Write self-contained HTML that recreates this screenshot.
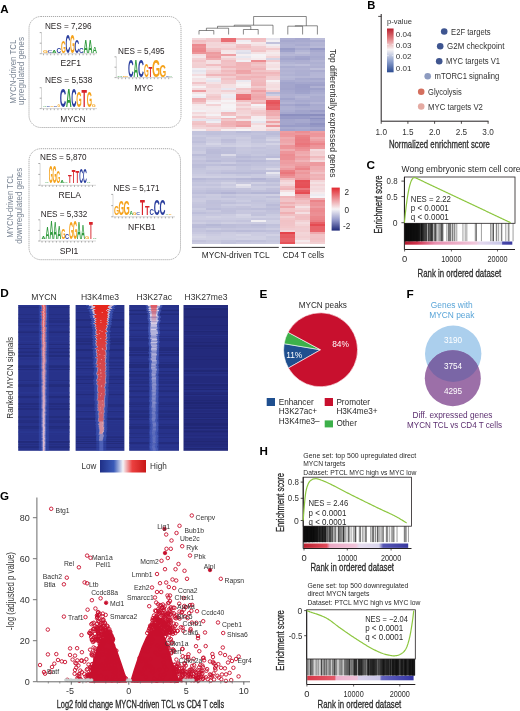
<!DOCTYPE html>
<html><head><meta charset="utf-8"><style>
html,body{margin:0;padding:0;background:#fff;}
svg{display:block;font-family:"Liberation Sans", sans-serif;filter:blur(0.3px);}
</style></head><body>
<svg width="520" height="711" viewBox="0 0 520 711">
<rect width="520" height="711" fill="#fff"/>
<text x="0.3" y="12.7" font-size="11.6" fill="#000" font-weight="bold">A</text><rect x="29" y="16.5" width="152" height="111" rx="12" fill="none" stroke="#8f8f8f" stroke-width="0.75" stroke-dasharray="1.2 0.8"/><rect x="29" y="148.7" width="151.5" height="111" rx="12" fill="none" stroke="#8f8f8f" stroke-width="0.75" stroke-dasharray="1.2 0.8"/><text transform="translate(15.6,71.7) rotate(-90)" x="0" y="0" font-size="9.6" fill="#7a8594" text-anchor="middle" textLength="64" lengthAdjust="spacingAndGlyphs">MYCN-driven TCL</text><text transform="translate(24.4,71) rotate(-90)" x="0" y="0" font-size="9.6" fill="#7a8594" text-anchor="middle" textLength="68" lengthAdjust="spacingAndGlyphs">upregulated genes</text><text transform="translate(13.0,205.8) rotate(-90)" x="0" y="0" font-size="9.6" fill="#7a8594" text-anchor="middle" textLength="64" lengthAdjust="spacingAndGlyphs">MYCN-driven TCL</text><text transform="translate(21.8,205.8) rotate(-90)" x="0" y="0" font-size="9.6" fill="#7a8594" text-anchor="middle" textLength="76" lengthAdjust="spacingAndGlyphs">downregulated genes</text><text x="44.9" y="28.7" font-size="8.9" fill="#231f20" textLength="46.6" lengthAdjust="spacingAndGlyphs">NES = 7,296</text><text x="70.8" y="66.3" font-size="8.6" fill="#231f20" text-anchor="middle">E2F1</text><text x="118.1" y="53.9" font-size="8.9" fill="#231f20" textLength="46.4" lengthAdjust="spacingAndGlyphs">NES = 5,495</text><text x="143.7" y="91" font-size="8.6" fill="#231f20" text-anchor="middle">MYC</text><text x="44.9" y="83" font-size="8.9" fill="#231f20" textLength="47.4" lengthAdjust="spacingAndGlyphs">NES = 5,538</text><text x="73" y="121.5" font-size="8.6" fill="#231f20" text-anchor="middle">MYCN</text><text x="40.1" y="160" font-size="8.9" fill="#231f20" textLength="46.4" lengthAdjust="spacingAndGlyphs">NES = 5,870</text><text x="69.7" y="198.3" font-size="8.6" fill="#231f20" text-anchor="middle">RELA</text><text x="113.4" y="190.8" font-size="8.9" fill="#231f20" textLength="46.1" lengthAdjust="spacingAndGlyphs">NES = 5,171</text><text x="141.8" y="229.8" font-size="8.6" fill="#231f20" text-anchor="middle">NFKB1</text><text x="40.8" y="217" font-size="8.9" fill="#231f20" textLength="46.4" lengthAdjust="spacingAndGlyphs">NES = 5,332</text><text x="69" y="254" font-size="8.6" fill="#231f20" text-anchor="middle">SPI1</text><path d="M41.5,32.6 V53.7 H97" stroke="#aaa" stroke-width="0.45" fill="none"/><path d="M39.7,32.6 H41.5 M39.7,43.2 H41.5 M39.7,53.7 H41.5" stroke="#888" stroke-width="0.7"/><path d="M43.5,53.7 v1.6 M47.1,53.7 v1.6 M50.7,53.7 v1.6 M54.3,53.7 v1.6 M57.9,53.7 v1.6 M61.5,53.7 v1.6 M65.1,53.7 v1.6 M68.7,53.7 v1.6 M72.3,53.7 v1.6 M75.9,53.7 v1.6 M79.5,53.7 v1.6 M83.1,53.7 v1.6 M86.7,53.7 v1.6 M90.3,53.7 v1.6 M93.9,53.7 v1.6 " stroke="#8a8a8a" stroke-width="0.7"/><text transform="translate(42.89,53.20) scale(0.622,0.320)" font-size="10" font-weight="bold" fill="#f5a21b">G</text><text transform="translate(47.39,53.20) scale(0.642,0.320)" font-size="10" font-weight="bold" fill="#2a3e9e">C</text><text transform="translate(51.99,53.20) scale(0.626,0.378)" font-size="10" font-weight="bold" fill="#2e9a3c">A</text><text transform="translate(56.39,53.20) scale(0.642,0.666)" font-size="10" font-weight="bold" fill="#2a3e9e">C</text><text transform="translate(60.89,53.20) scale(0.622,1.652)" font-size="10" font-weight="bold" fill="#f5a21b">G</text><text transform="translate(65.39,53.20) scale(0.642,2.665)" font-size="10" font-weight="bold" fill="#2a3e9e">C</text><text transform="translate(69.89,53.20) scale(0.622,2.532)" font-size="10" font-weight="bold" fill="#f5a21b">G</text><text transform="translate(74.39,53.20) scale(0.642,1.919)" font-size="10" font-weight="bold" fill="#2a3e9e">C</text><text transform="translate(78.89,53.20) scale(0.642,0.799)" font-size="10" font-weight="bold" fill="#2a3e9e">C</text><text transform="translate(83.49,53.20) scale(0.626,1.784)" font-size="10" font-weight="bold" fill="#2e9a3c">A</text><text transform="translate(87.99,53.20) scale(0.626,1.757)" font-size="10" font-weight="bold" fill="#2e9a3c">A</text><text transform="translate(92.49,53.20) scale(0.626,0.946)" font-size="10" font-weight="bold" fill="#2e9a3c">A</text><path d="M116.3,56.8 V77.6 H173" stroke="#aaa" stroke-width="0.45" fill="none"/><path d="M114.5,56.8 H116.3 M114.5,67.2 H116.3 M114.5,77.6 H116.3" stroke="#888" stroke-width="0.7"/><path d="M118.3,77.6 v1.6 M121.9,77.6 v1.6 M125.5,77.6 v1.6 M129.1,77.6 v1.6 M132.7,77.6 v1.6 M136.3,77.6 v1.6 M139.9,77.6 v1.6 M143.5,77.6 v1.6 M147.1,77.6 v1.6 M150.7,77.6 v1.6 M154.3,77.6 v1.6 M157.9,77.6 v1.6 M161.5,77.6 v1.6 M165.1,77.6 v1.6 M168.7,77.6 v1.6 " stroke="#8a8a8a" stroke-width="0.7"/><text transform="translate(116.95,77.10) scale(0.790,0.148)" font-size="10" font-weight="bold" fill="#2e9a3c">A</text><text transform="translate(122.43,77.10) scale(0.785,0.244)" font-size="10" font-weight="bold" fill="#f5a21b">G</text><text transform="translate(128.03,77.10) scale(0.780,2.436)" font-size="10" font-weight="bold" fill="#2a3e9e">C</text><text transform="translate(133.59,77.10) scale(0.656,2.471)" font-size="10" font-weight="bold" fill="#2e9a3c">A</text><text transform="translate(138.11,77.10) scale(0.826,2.436)" font-size="10" font-weight="bold" fill="#2a3e9e">C</text><text transform="translate(143.90,77.10) scale(0.607,1.900)" font-size="10" font-weight="bold" fill="#f5a21b">G</text><text transform="translate(148.48,77.10) scale(0.628,1.384)" font-size="10" font-weight="bold" fill="#d8232a">T</text><text transform="translate(152.12,77.10) scale(1.052,2.314)" font-size="10" font-weight="bold" fill="#f5a21b">G</text><text transform="translate(159.60,77.10) scale(0.859,1.607)" font-size="10" font-weight="bold" fill="#f5a21b">G</text><text transform="translate(165.88,77.10) scale(0.413,0.146)" font-size="10" font-weight="bold" fill="#2a3e9e">C</text><text transform="translate(168.95,77.10) scale(0.402,0.099)" font-size="10" font-weight="bold" fill="#2e9a3c">A</text><path d="M41.5,87.7 V108.6 H97" stroke="#aaa" stroke-width="0.45" fill="none"/><path d="M39.7,87.7 H41.5 M39.7,98.2 H41.5 M39.7,108.6 H41.5" stroke="#888" stroke-width="0.7"/><path d="M43.5,108.6 v1.6 M47.1,108.6 v1.6 M50.7,108.6 v1.6 M54.3,108.6 v1.6 M57.9,108.6 v1.6 M61.5,108.6 v1.6 M65.1,108.6 v1.6 M68.7,108.6 v1.6 M72.3,108.6 v1.6 M75.9,108.6 v1.6 M79.5,108.6 v1.6 M83.1,108.6 v1.6 M86.7,108.6 v1.6 M90.3,108.6 v1.6 M93.9,108.6 v1.6 " stroke="#8a8a8a" stroke-width="0.7"/><text transform="translate(43.03,107.40) scale(0.492,0.102)" font-size="10" font-weight="bold" fill="#2e9a3c">A</text><text transform="translate(46.54,107.40) scale(0.505,0.101)" font-size="10" font-weight="bold" fill="#2a3e9e">C</text><text transform="translate(50.15,107.40) scale(0.489,0.126)" font-size="10" font-weight="bold" fill="#f5a21b">G</text><text transform="translate(53.74,107.40) scale(0.505,0.252)" font-size="10" font-weight="bold" fill="#2a3e9e">C</text><text transform="translate(57.42,107.40) scale(0.326,0.378)" font-size="10" font-weight="bold" fill="#f5a21b">G</text><text transform="translate(59.69,107.40) scale(0.887,2.521)" font-size="10" font-weight="bold" fill="#2a3e9e">C</text><text transform="translate(65.96,107.40) scale(0.775,2.558)" font-size="10" font-weight="bold" fill="#2e9a3c">A</text><text transform="translate(71.36,107.40) scale(0.719,2.521)" font-size="10" font-weight="bold" fill="#2a3e9e">C</text><text transform="translate(76.36,107.40) scale(0.696,2.143)" font-size="10" font-weight="bold" fill="#f5a21b">G</text><text transform="translate(81.55,107.40) scale(0.883,2.430)" font-size="10" font-weight="bold" fill="#d8232a">T</text><text transform="translate(86.87,107.40) scale(0.681,2.269)" font-size="10" font-weight="bold" fill="#f5a21b">G</text><text transform="translate(91.84,107.40) scale(0.504,0.378)" font-size="10" font-weight="bold" fill="#f5a21b">G</text><path d="M40.1,163.5 V185.3 H96" stroke="#aaa" stroke-width="0.45" fill="none"/><path d="M38.300000000000004,163.5 H40.1 M38.300000000000004,174.4 H40.1 M38.300000000000004,185.3 H40.1" stroke="#888" stroke-width="0.7"/><path d="M42.1,185.3 v1.6 M45.7,185.3 v1.6 M49.3,185.3 v1.6 M52.9,185.3 v1.6 M56.5,185.3 v1.6 M60.1,185.3 v1.6 M63.7,185.3 v1.6 M67.3,185.3 v1.6 M70.9,185.3 v1.6 M74.5,185.3 v1.6 M78.1,185.3 v1.6 M81.7,185.3 v1.6 M85.3,185.3 v1.6 M88.9,185.3 v1.6 M92.5,185.3 v1.6 " stroke="#8a8a8a" stroke-width="0.7"/><text transform="translate(45.02,183.40) scale(0.522,0.209)" font-size="10" font-weight="bold" fill="#2e9a3c">A</text><text transform="translate(48.74,183.40) scale(0.519,2.450)" font-size="10" font-weight="bold" fill="#f5a21b">G</text><text transform="translate(52.54,183.40) scale(0.519,2.450)" font-size="10" font-weight="bold" fill="#f5a21b">G</text><text transform="translate(56.34,183.40) scale(0.519,1.676)" font-size="10" font-weight="bold" fill="#f5a21b">G</text><text transform="translate(60.22,183.40) scale(0.522,0.314)" font-size="10" font-weight="bold" fill="#2e9a3c">A</text><text transform="translate(64.02,183.40) scale(0.522,0.157)" font-size="10" font-weight="bold" fill="#2e9a3c">A</text><text transform="translate(67.88,183.40) scale(0.594,1.177)" font-size="10" font-weight="bold" fill="#d8232a">T</text><text transform="translate(71.68,183.40) scale(0.594,1.884)" font-size="10" font-weight="bold" fill="#d8232a">T</text><text transform="translate(75.48,183.40) scale(0.594,1.570)" font-size="10" font-weight="bold" fill="#d8232a">T</text><text transform="translate(79.13,183.40) scale(0.535,1.934)" font-size="10" font-weight="bold" fill="#2a3e9e">C</text><text transform="translate(82.93,183.40) scale(0.535,1.934)" font-size="10" font-weight="bold" fill="#2a3e9e">C</text><text transform="translate(86.82,183.40) scale(0.522,0.131)" font-size="10" font-weight="bold" fill="#2e9a3c">A</text><path d="M40,219.8 V241 H96" stroke="#aaa" stroke-width="0.45" fill="none"/><path d="M38.2,219.8 H40 M38.2,230.4 H40 M38.2,241 H40" stroke="#888" stroke-width="0.7"/><path d="M42.0,241 v1.6 M45.6,241 v1.6 M49.2,241 v1.6 M52.8,241 v1.6 M56.4,241 v1.6 M60.0,241 v1.6 M63.6,241 v1.6 M67.2,241 v1.6 M70.8,241 v1.6 M74.4,241 v1.6 M78.0,241 v1.6 M81.6,241 v1.6 M85.2,241 v1.6 M88.8,241 v1.6 M92.4,241 v1.6 " stroke="#8a8a8a" stroke-width="0.7"/><text transform="translate(41.51,238.60) scale(0.544,0.414)" font-size="10" font-weight="bold" fill="#2e9a3c">A</text><text transform="translate(45.46,238.60) scale(0.544,1.657)" font-size="10" font-weight="bold" fill="#2e9a3c">A</text><text transform="translate(49.41,238.60) scale(0.544,2.624)" font-size="10" font-weight="bold" fill="#2e9a3c">A</text><text transform="translate(53.36,238.60) scale(0.544,2.347)" font-size="10" font-weight="bold" fill="#2e9a3c">A</text><text transform="translate(57.31,238.60) scale(0.544,1.795)" font-size="10" font-weight="bold" fill="#2e9a3c">A</text><text transform="translate(61.18,238.60) scale(0.541,1.497)" font-size="10" font-weight="bold" fill="#f5a21b">G</text><text transform="translate(65.12,238.60) scale(0.558,0.681)" font-size="10" font-weight="bold" fill="#2a3e9e">C</text><text transform="translate(69.08,238.60) scale(0.541,2.450)" font-size="10" font-weight="bold" fill="#f5a21b">G</text><text transform="translate(73.03,238.60) scale(0.541,2.586)" font-size="10" font-weight="bold" fill="#f5a21b">G</text><text transform="translate(77.06,238.60) scale(0.544,2.347)" font-size="10" font-weight="bold" fill="#2e9a3c">A</text><text transform="translate(81.01,238.60) scale(0.544,2.071)" font-size="10" font-weight="bold" fill="#2e9a3c">A</text><text transform="translate(84.88,238.60) scale(0.541,0.408)" font-size="10" font-weight="bold" fill="#f5a21b">G</text><text transform="translate(88.98,238.60) scale(0.620,2.347)" font-size="10" font-weight="bold" fill="#d8232a">T</text><text transform="translate(92.86,238.60) scale(0.544,0.221)" font-size="10" font-weight="bold" fill="#2e9a3c">A</text><path d="M113,194.4 V216.8 H175" stroke="#aaa" stroke-width="0.45" fill="none"/><path d="M111.2,194.4 H113 M111.2,205.6 H113 M111.2,216.8 H113" stroke="#888" stroke-width="0.7"/><path d="M115.0,216.8 v1.6 M118.6,216.8 v1.6 M122.2,216.8 v1.6 M125.8,216.8 v1.6 M129.4,216.8 v1.6 M133.0,216.8 v1.6 M136.6,216.8 v1.6 M140.2,216.8 v1.6 M143.8,216.8 v1.6 M147.4,216.8 v1.6 M151.0,216.8 v1.6 M154.6,216.8 v1.6 M158.2,216.8 v1.6 M161.8,216.8 v1.6 M165.4,216.8 v1.6 M169.0,216.8 v1.6 M172.6,216.8 v1.6 " stroke="#8a8a8a" stroke-width="0.7"/><text transform="translate(113.88,215.40) scale(0.652,1.257)" font-size="10" font-weight="bold" fill="#f5a21b">G</text><text transform="translate(118.56,215.40) scale(0.711,2.095)" font-size="10" font-weight="bold" fill="#f5a21b">G</text><text transform="translate(123.62,215.40) scale(0.800,2.095)" font-size="10" font-weight="bold" fill="#f5a21b">G</text><text transform="translate(129.53,215.40) scale(0.492,0.510)" font-size="10" font-weight="bold" fill="#2e9a3c">A</text><text transform="translate(133.07,215.40) scale(0.430,0.419)" font-size="10" font-weight="bold" fill="#f5a21b">G</text><text transform="translate(136.24,215.40) scale(0.505,0.335)" font-size="10" font-weight="bold" fill="#2a3e9e">C</text><text transform="translate(139.96,215.40) scale(0.798,2.267)" font-size="10" font-weight="bold" fill="#d8232a">T</text><text transform="translate(144.97,215.40) scale(0.747,1.275)" font-size="10" font-weight="bold" fill="#d8232a">T</text><text transform="translate(149.50,215.40) scale(0.612,0.978)" font-size="10" font-weight="bold" fill="#2a3e9e">C</text><text transform="translate(153.71,215.40) scale(0.841,2.235)" font-size="10" font-weight="bold" fill="#2a3e9e">C</text><text transform="translate(159.51,215.40) scale(0.826,2.235)" font-size="10" font-weight="bold" fill="#2a3e9e">C</text><text transform="translate(165.45,215.40) scale(0.402,0.170)" font-size="10" font-weight="bold" fill="#2e9a3c">A</text><text transform="translate(168.39,215.40) scale(0.400,0.112)" font-size="10" font-weight="bold" fill="#f5a21b">G</text><g shape-rendering="crispEdges"><rect x="191.60" y="38.10" width="15.10" height="2.29" fill="#f3d8db"/><rect x="206.40" y="38.10" width="15.10" height="2.29" fill="#f2cbce"/><rect x="221.20" y="38.10" width="15.10" height="2.29" fill="#e96e74"/><rect x="236.00" y="38.10" width="15.10" height="2.29" fill="#f1c0c3"/><rect x="250.80" y="38.10" width="15.10" height="2.29" fill="#f1bdc1"/><rect x="265.60" y="38.10" width="15.10" height="2.29" fill="#e6e5ee"/><rect x="280.40" y="38.10" width="15.10" height="2.29" fill="#aeafd2"/><rect x="295.20" y="38.10" width="15.10" height="2.29" fill="#a8a9cf"/><rect x="310.00" y="38.10" width="15.10" height="2.29" fill="#bcbdd9"/><rect x="191.60" y="40.09" width="15.10" height="2.29" fill="#f1bfc3"/><rect x="206.40" y="40.09" width="15.10" height="2.29" fill="#f2c6ca"/><rect x="221.20" y="40.09" width="15.10" height="2.29" fill="#e96d73"/><rect x="236.00" y="40.09" width="15.10" height="2.29" fill="#efedf2"/><rect x="250.80" y="40.09" width="15.10" height="2.29" fill="#f1c2c6"/><rect x="265.60" y="40.09" width="15.10" height="2.29" fill="#f2f0f4"/><rect x="280.40" y="40.09" width="15.10" height="2.29" fill="#a6a8ce"/><rect x="295.20" y="40.09" width="15.10" height="2.29" fill="#a8aacf"/><rect x="310.00" y="40.09" width="15.10" height="2.29" fill="#aaacd0"/><rect x="191.60" y="42.07" width="15.10" height="2.29" fill="#f2c7ca"/><rect x="206.40" y="42.07" width="15.10" height="2.29" fill="#f3d6d9"/><rect x="221.20" y="42.07" width="15.10" height="2.29" fill="#f2c7cb"/><rect x="236.00" y="42.07" width="15.10" height="2.29" fill="#f6f0f2"/><rect x="250.80" y="42.07" width="15.10" height="2.29" fill="#f5e7e9"/><rect x="265.60" y="42.07" width="15.10" height="2.29" fill="#c2c2dc"/><rect x="280.40" y="42.07" width="15.10" height="2.29" fill="#acaed1"/><rect x="295.20" y="42.07" width="15.10" height="2.29" fill="#aeafd2"/><rect x="310.00" y="42.07" width="15.10" height="2.29" fill="#b4b5d5"/><rect x="191.60" y="44.06" width="15.10" height="2.29" fill="#ec898f"/><rect x="206.40" y="44.06" width="15.10" height="2.29" fill="#f3d4d7"/><rect x="221.20" y="44.06" width="15.10" height="2.29" fill="#f3dadd"/><rect x="236.00" y="44.06" width="15.10" height="2.29" fill="#f1c4c8"/><rect x="250.80" y="44.06" width="15.10" height="2.29" fill="#f4e1e4"/><rect x="265.60" y="44.06" width="15.10" height="2.29" fill="#efedf2"/><rect x="280.40" y="44.06" width="15.10" height="2.29" fill="#afb1d3"/><rect x="295.20" y="44.06" width="15.10" height="2.29" fill="#a9abd0"/><rect x="310.00" y="44.06" width="15.10" height="2.29" fill="#b2b4d4"/><rect x="191.60" y="46.04" width="15.10" height="2.29" fill="#ec9196"/><rect x="206.40" y="46.04" width="15.10" height="2.29" fill="#f3d7da"/><rect x="221.20" y="46.04" width="15.10" height="2.29" fill="#f3d5d8"/><rect x="236.00" y="46.04" width="15.10" height="2.29" fill="#f1bec1"/><rect x="250.80" y="46.04" width="15.10" height="2.29" fill="#f2cdd0"/><rect x="265.60" y="46.04" width="15.10" height="2.29" fill="#f4e3e6"/><rect x="280.40" y="46.04" width="15.10" height="2.29" fill="#afb1d3"/><rect x="295.20" y="46.04" width="15.10" height="2.29" fill="#b3b4d4"/><rect x="310.00" y="46.04" width="15.10" height="2.29" fill="#b8b9d7"/><rect x="191.60" y="48.03" width="15.10" height="2.29" fill="#eb898e"/><rect x="206.40" y="48.03" width="15.10" height="2.29" fill="#f1c1c4"/><rect x="221.20" y="48.03" width="15.10" height="2.29" fill="#f2cacd"/><rect x="236.00" y="48.03" width="15.10" height="2.29" fill="#f2c9cc"/><rect x="250.80" y="48.03" width="15.10" height="2.29" fill="#f2cbce"/><rect x="265.60" y="48.03" width="15.10" height="2.29" fill="#f2cacd"/><rect x="280.40" y="48.03" width="15.10" height="2.29" fill="#999cc7"/><rect x="295.20" y="48.03" width="15.10" height="2.29" fill="#a8aacf"/><rect x="310.00" y="48.03" width="15.10" height="2.29" fill="#979ac7"/><rect x="191.60" y="50.01" width="15.10" height="2.29" fill="#eb858a"/><rect x="206.40" y="50.01" width="15.10" height="2.29" fill="#f0bbbf"/><rect x="221.20" y="50.01" width="15.10" height="2.29" fill="#f5e6e8"/><rect x="236.00" y="50.01" width="15.10" height="2.29" fill="#e5e4ee"/><rect x="250.80" y="50.01" width="15.10" height="2.29" fill="#f1c4c7"/><rect x="265.60" y="50.01" width="15.10" height="2.29" fill="#f4e0e2"/><rect x="280.40" y="50.01" width="15.10" height="2.29" fill="#9fa2cb"/><rect x="295.20" y="50.01" width="15.10" height="2.29" fill="#b3b5d5"/><rect x="310.00" y="50.01" width="15.10" height="2.29" fill="#a6a8ce"/><rect x="191.60" y="52.00" width="15.10" height="2.29" fill="#ed9599"/><rect x="206.40" y="52.00" width="15.10" height="2.29" fill="#ed9b9f"/><rect x="221.20" y="52.00" width="15.10" height="2.29" fill="#f5e9eb"/><rect x="236.00" y="52.00" width="15.10" height="2.29" fill="#dedeea"/><rect x="250.80" y="52.00" width="15.10" height="2.29" fill="#f4e2e4"/><rect x="265.60" y="52.00" width="15.10" height="2.29" fill="#f5eaec"/><rect x="280.40" y="52.00" width="15.10" height="2.29" fill="#b2b3d4"/><rect x="295.20" y="52.00" width="15.10" height="2.29" fill="#bdbed9"/><rect x="310.00" y="52.00" width="15.10" height="2.29" fill="#aeafd2"/><rect x="191.60" y="53.98" width="15.10" height="2.29" fill="#f4dee1"/><rect x="206.40" y="53.98" width="15.10" height="2.29" fill="#eea2a6"/><rect x="221.20" y="53.98" width="15.10" height="2.29" fill="#ee9fa4"/><rect x="236.00" y="53.98" width="15.10" height="2.29" fill="#f5eef0"/><rect x="250.80" y="53.98" width="15.10" height="2.29" fill="#f5f3f6"/><rect x="265.60" y="53.98" width="15.10" height="2.29" fill="#f5e5e7"/><rect x="280.40" y="53.98" width="15.10" height="2.29" fill="#b6b7d6"/><rect x="295.20" y="53.98" width="15.10" height="2.29" fill="#b4b5d5"/><rect x="310.00" y="53.98" width="15.10" height="2.29" fill="#adafd2"/><rect x="191.60" y="55.97" width="15.10" height="2.29" fill="#f5e6e9"/><rect x="206.40" y="55.97" width="15.10" height="2.29" fill="#ed9a9f"/><rect x="221.20" y="55.97" width="15.10" height="2.29" fill="#f4dfe1"/><rect x="236.00" y="55.97" width="15.10" height="2.29" fill="#e8e7ef"/><rect x="250.80" y="55.97" width="15.10" height="2.29" fill="#f6f1f3"/><rect x="265.60" y="55.97" width="15.10" height="2.29" fill="#f3d4d7"/><rect x="280.40" y="55.97" width="15.10" height="2.29" fill="#aaacd0"/><rect x="295.20" y="55.97" width="15.10" height="2.29" fill="#a3a5cd"/><rect x="310.00" y="55.97" width="15.10" height="2.29" fill="#a8aacf"/><rect x="191.60" y="57.95" width="15.10" height="2.29" fill="#f3d1d4"/><rect x="206.40" y="57.95" width="15.10" height="2.29" fill="#efacb0"/><rect x="221.20" y="57.95" width="15.10" height="2.29" fill="#f2d0d3"/><rect x="236.00" y="57.95" width="15.10" height="2.29" fill="#f4e4e7"/><rect x="250.80" y="57.95" width="15.10" height="2.29" fill="#f5ebee"/><rect x="265.60" y="57.95" width="15.10" height="2.29" fill="#d5d5e5"/><rect x="280.40" y="57.95" width="15.10" height="2.29" fill="#a4a6cd"/><rect x="295.20" y="57.95" width="15.10" height="2.29" fill="#a0a2cb"/><rect x="310.00" y="57.95" width="15.10" height="2.29" fill="#abadd0"/><rect x="191.60" y="59.94" width="15.10" height="2.29" fill="#f2c6ca"/><rect x="206.40" y="59.94" width="15.10" height="2.29" fill="#f4e1e3"/><rect x="221.20" y="59.94" width="15.10" height="2.29" fill="#f1bec2"/><rect x="236.00" y="59.94" width="15.10" height="2.29" fill="#f2f0f4"/><rect x="250.80" y="59.94" width="15.10" height="2.29" fill="#ec8b90"/><rect x="265.60" y="59.94" width="15.10" height="2.29" fill="#f2cccf"/><rect x="280.40" y="59.94" width="15.10" height="2.29" fill="#abadd1"/><rect x="295.20" y="59.94" width="15.10" height="2.29" fill="#adaed1"/><rect x="310.00" y="59.94" width="15.10" height="2.29" fill="#b4b5d5"/><rect x="191.60" y="61.92" width="15.10" height="2.29" fill="#f3d1d4"/><rect x="206.40" y="61.92" width="15.10" height="2.29" fill="#f4e0e3"/><rect x="221.20" y="61.92" width="15.10" height="2.29" fill="#f1c2c6"/><rect x="236.00" y="61.92" width="15.10" height="2.29" fill="#f0b3b7"/><rect x="250.80" y="61.92" width="15.10" height="2.29" fill="#f0bbbe"/><rect x="265.60" y="61.92" width="15.10" height="2.29" fill="#f5e7ea"/><rect x="280.40" y="61.92" width="15.10" height="2.29" fill="#b2b4d4"/><rect x="295.20" y="61.92" width="15.10" height="2.29" fill="#afb0d2"/><rect x="310.00" y="61.92" width="15.10" height="2.29" fill="#aeb0d2"/><rect x="191.60" y="63.91" width="15.10" height="2.29" fill="#f2cfd2"/><rect x="206.40" y="63.91" width="15.10" height="2.29" fill="#f1bcc0"/><rect x="221.20" y="63.91" width="15.10" height="2.29" fill="#f1c2c6"/><rect x="236.00" y="63.91" width="15.10" height="2.29" fill="#f0b3b7"/><rect x="250.80" y="63.91" width="15.10" height="2.29" fill="#f1c5c8"/><rect x="265.60" y="63.91" width="15.10" height="2.29" fill="#f4e1e4"/><rect x="280.40" y="63.91" width="15.10" height="2.29" fill="#b9bbd8"/><rect x="295.20" y="63.91" width="15.10" height="2.29" fill="#bdbeda"/><rect x="310.00" y="63.91" width="15.10" height="2.29" fill="#b2b4d4"/><rect x="191.60" y="65.89" width="15.10" height="2.29" fill="#f2ced1"/><rect x="206.40" y="65.89" width="15.10" height="2.29" fill="#f3d9dc"/><rect x="221.20" y="65.89" width="15.10" height="2.29" fill="#f0b5b9"/><rect x="236.00" y="65.89" width="15.10" height="2.29" fill="#f0b5b8"/><rect x="250.80" y="65.89" width="15.10" height="2.29" fill="#f1bcc0"/><rect x="265.60" y="65.89" width="15.10" height="2.29" fill="#f4dfe1"/><rect x="280.40" y="65.89" width="15.10" height="2.29" fill="#acaed1"/><rect x="295.20" y="65.89" width="15.10" height="2.29" fill="#afb0d2"/><rect x="310.00" y="65.89" width="15.10" height="2.29" fill="#afb0d2"/><rect x="191.60" y="67.88" width="15.10" height="2.29" fill="#f0eef3"/><rect x="206.40" y="67.88" width="15.10" height="2.29" fill="#f4e2e5"/><rect x="221.20" y="67.88" width="15.10" height="2.29" fill="#f2cacd"/><rect x="236.00" y="67.88" width="15.10" height="2.29" fill="#f0b7ba"/><rect x="250.80" y="67.88" width="15.10" height="2.29" fill="#f0b3b7"/><rect x="265.60" y="67.88" width="15.10" height="2.29" fill="#f5e9eb"/><rect x="280.40" y="67.88" width="15.10" height="2.29" fill="#b4b5d5"/><rect x="295.20" y="67.88" width="15.10" height="2.29" fill="#b2b3d4"/><rect x="310.00" y="67.88" width="15.10" height="2.29" fill="#bebfda"/><rect x="191.60" y="69.86" width="15.10" height="2.29" fill="#e6e5ee"/><rect x="206.40" y="69.86" width="15.10" height="2.29" fill="#f3d3d6"/><rect x="221.20" y="69.86" width="15.10" height="2.29" fill="#f0b9bd"/><rect x="236.00" y="69.86" width="15.10" height="2.29" fill="#eea3a7"/><rect x="250.80" y="69.86" width="15.10" height="2.29" fill="#f1c3c6"/><rect x="265.60" y="69.86" width="15.10" height="2.29" fill="#f2c8cb"/><rect x="280.40" y="69.86" width="15.10" height="2.29" fill="#b1b2d3"/><rect x="295.20" y="69.86" width="15.10" height="2.29" fill="#aeafd2"/><rect x="310.00" y="69.86" width="15.10" height="2.29" fill="#abacd0"/><rect x="191.60" y="71.85" width="15.10" height="2.29" fill="#edebf1"/><rect x="206.40" y="71.85" width="15.10" height="2.29" fill="#f2cfd2"/><rect x="221.20" y="71.85" width="15.10" height="2.29" fill="#f1c2c6"/><rect x="236.00" y="71.85" width="15.10" height="2.29" fill="#eea6aa"/><rect x="250.80" y="71.85" width="15.10" height="2.29" fill="#f0b5b9"/><rect x="265.60" y="71.85" width="15.10" height="2.29" fill="#f0b7bb"/><rect x="280.40" y="71.85" width="15.10" height="2.29" fill="#b4b5d5"/><rect x="295.20" y="71.85" width="15.10" height="2.29" fill="#aeb0d2"/><rect x="310.00" y="71.85" width="15.10" height="2.29" fill="#b3b5d5"/><rect x="191.60" y="73.83" width="15.10" height="2.29" fill="#f4dcdf"/><rect x="206.40" y="73.83" width="15.10" height="2.29" fill="#f0b5b9"/><rect x="221.20" y="73.83" width="15.10" height="2.29" fill="#f0b6ba"/><rect x="236.00" y="73.83" width="15.10" height="2.29" fill="#f1c3c6"/><rect x="250.80" y="73.83" width="15.10" height="2.29" fill="#f1bdc1"/><rect x="265.60" y="73.83" width="15.10" height="2.29" fill="#f1c0c3"/><rect x="280.40" y="73.83" width="15.10" height="2.29" fill="#b0b2d3"/><rect x="295.20" y="73.83" width="15.10" height="2.29" fill="#adafd2"/><rect x="310.00" y="73.83" width="15.10" height="2.29" fill="#b5b6d6"/><rect x="191.60" y="75.82" width="15.10" height="2.29" fill="#f6f1f3"/><rect x="206.40" y="75.82" width="15.10" height="2.29" fill="#f3d8db"/><rect x="221.20" y="75.82" width="15.10" height="2.29" fill="#f2cdd0"/><rect x="236.00" y="75.82" width="15.10" height="2.29" fill="#f0b4b8"/><rect x="250.80" y="75.82" width="15.10" height="2.29" fill="#f0b2b6"/><rect x="265.60" y="75.82" width="15.10" height="2.29" fill="#f2ced1"/><rect x="280.40" y="75.82" width="15.10" height="2.29" fill="#b7b9d7"/><rect x="295.20" y="75.82" width="15.10" height="2.29" fill="#b5b6d5"/><rect x="310.00" y="75.82" width="15.10" height="2.29" fill="#b6b7d6"/><rect x="191.60" y="77.80" width="15.10" height="2.29" fill="#f4e3e6"/><rect x="206.40" y="77.80" width="15.10" height="2.29" fill="#eeedf2"/><rect x="221.20" y="77.80" width="15.10" height="2.29" fill="#f1c0c4"/><rect x="236.00" y="77.80" width="15.10" height="2.29" fill="#f0b6ba"/><rect x="250.80" y="77.80" width="15.10" height="2.29" fill="#f1bec2"/><rect x="265.60" y="77.80" width="15.10" height="2.29" fill="#f2cfd3"/><rect x="280.40" y="77.80" width="15.10" height="2.29" fill="#b4b5d5"/><rect x="295.20" y="77.80" width="15.10" height="2.29" fill="#a9abd0"/><rect x="310.00" y="77.80" width="15.10" height="2.29" fill="#a6a8ce"/><rect x="191.60" y="79.79" width="15.10" height="2.29" fill="#f5e6e8"/><rect x="206.40" y="79.79" width="15.10" height="2.29" fill="#e7e6ef"/><rect x="221.20" y="79.79" width="15.10" height="2.29" fill="#f2cbce"/><rect x="236.00" y="79.79" width="15.10" height="2.29" fill="#e9e8f0"/><rect x="250.80" y="79.79" width="15.10" height="2.29" fill="#f0bbbf"/><rect x="265.60" y="79.79" width="15.10" height="2.29" fill="#f6f1f3"/><rect x="280.40" y="79.79" width="15.10" height="2.29" fill="#a9abd0"/><rect x="295.20" y="79.79" width="15.10" height="2.29" fill="#acaed1"/><rect x="310.00" y="79.79" width="15.10" height="2.29" fill="#adafd2"/><rect x="191.60" y="81.77" width="15.10" height="2.29" fill="#f1c4c8"/><rect x="206.40" y="81.77" width="15.10" height="2.29" fill="#f4e2e5"/><rect x="221.20" y="81.77" width="15.10" height="2.29" fill="#f2ccd0"/><rect x="236.00" y="81.77" width="15.10" height="2.29" fill="#f5edef"/><rect x="250.80" y="81.77" width="15.10" height="2.29" fill="#f0b7bb"/><rect x="265.60" y="81.77" width="15.10" height="2.29" fill="#f4e2e5"/><rect x="280.40" y="81.77" width="15.10" height="2.29" fill="#a1a4cc"/><rect x="295.20" y="81.77" width="15.10" height="2.29" fill="#a5a7ce"/><rect x="310.00" y="81.77" width="15.10" height="2.29" fill="#a3a5cd"/><rect x="191.60" y="83.76" width="15.10" height="2.29" fill="#f4dbde"/><rect x="206.40" y="83.76" width="15.10" height="2.29" fill="#f3d4d7"/><rect x="221.20" y="83.76" width="15.10" height="2.29" fill="#f4e0e2"/><rect x="236.00" y="83.76" width="15.10" height="2.29" fill="#f5f3f5"/><rect x="250.80" y="83.76" width="15.10" height="2.29" fill="#f0b5b9"/><rect x="265.60" y="83.76" width="15.10" height="2.29" fill="#f4dddf"/><rect x="280.40" y="83.76" width="15.10" height="2.29" fill="#a3a5cc"/><rect x="295.20" y="83.76" width="15.10" height="2.29" fill="#9c9fc9"/><rect x="310.00" y="83.76" width="15.10" height="2.29" fill="#9fa1ca"/><rect x="191.60" y="85.74" width="15.10" height="2.29" fill="#f6f1f3"/><rect x="206.40" y="85.74" width="15.10" height="2.29" fill="#f3d4d7"/><rect x="221.20" y="85.74" width="15.10" height="2.29" fill="#f4e1e4"/><rect x="236.00" y="85.74" width="15.10" height="2.29" fill="#f5edef"/><rect x="250.80" y="85.74" width="15.10" height="2.29" fill="#f2cacd"/><rect x="265.60" y="85.74" width="15.10" height="2.29" fill="#f4dbde"/><rect x="280.40" y="85.74" width="15.10" height="2.29" fill="#a3a5cc"/><rect x="295.20" y="85.74" width="15.10" height="2.29" fill="#9c9ec9"/><rect x="310.00" y="85.74" width="15.10" height="2.29" fill="#afb0d2"/><rect x="191.60" y="87.73" width="15.10" height="2.29" fill="#f4dbde"/><rect x="206.40" y="87.73" width="15.10" height="2.29" fill="#f4dde0"/><rect x="221.20" y="87.73" width="15.10" height="2.29" fill="#e8e6ef"/><rect x="236.00" y="87.73" width="15.10" height="2.29" fill="#f1c6c9"/><rect x="250.80" y="87.73" width="15.10" height="2.29" fill="#f0b9bc"/><rect x="265.60" y="87.73" width="15.10" height="2.29" fill="#f4e1e3"/><rect x="280.40" y="87.73" width="15.10" height="2.29" fill="#a1a3cb"/><rect x="295.20" y="87.73" width="15.10" height="2.29" fill="#9da0ca"/><rect x="310.00" y="87.73" width="15.10" height="2.29" fill="#9ea1ca"/><rect x="191.60" y="89.71" width="15.10" height="2.29" fill="#ed9a9f"/><rect x="206.40" y="89.71" width="15.10" height="2.29" fill="#f4dbde"/><rect x="221.20" y="89.71" width="15.10" height="2.29" fill="#f2cfd2"/><rect x="236.00" y="89.71" width="15.10" height="2.29" fill="#f3d0d4"/><rect x="250.80" y="89.71" width="15.10" height="2.29" fill="#ee9ea3"/><rect x="265.60" y="89.71" width="15.10" height="2.29" fill="#f2c7ca"/><rect x="280.40" y="89.71" width="15.10" height="2.29" fill="#a6a8ce"/><rect x="295.20" y="89.71" width="15.10" height="2.29" fill="#9fa1ca"/><rect x="310.00" y="89.71" width="15.10" height="2.29" fill="#a6a8ce"/><rect x="191.60" y="91.70" width="15.10" height="2.29" fill="#f4e3e5"/><rect x="206.40" y="91.70" width="15.10" height="2.29" fill="#f4dfe2"/><rect x="221.20" y="91.70" width="15.10" height="2.29" fill="#f4e2e4"/><rect x="236.00" y="91.70" width="15.10" height="2.29" fill="#f2cacd"/><rect x="250.80" y="91.70" width="15.10" height="2.29" fill="#f0b3b7"/><rect x="265.60" y="91.70" width="15.10" height="2.29" fill="#babbd8"/><rect x="280.40" y="91.70" width="15.10" height="2.29" fill="#a8aacf"/><rect x="295.20" y="91.70" width="15.10" height="2.29" fill="#a1a4cc"/><rect x="310.00" y="91.70" width="15.10" height="2.29" fill="#abadd1"/><rect x="191.60" y="93.68" width="15.10" height="2.29" fill="#f5f3f6"/><rect x="206.40" y="93.68" width="15.10" height="2.29" fill="#f3d0d3"/><rect x="221.20" y="93.68" width="15.10" height="2.29" fill="#efedf2"/><rect x="236.00" y="93.68" width="15.10" height="2.29" fill="#ea757b"/><rect x="250.80" y="93.68" width="15.10" height="2.29" fill="#efabaf"/><rect x="265.60" y="93.68" width="15.10" height="2.29" fill="#cdcde2"/><rect x="280.40" y="93.68" width="15.10" height="2.29" fill="#aeafd2"/><rect x="295.20" y="93.68" width="15.10" height="2.29" fill="#afb1d3"/><rect x="310.00" y="93.68" width="15.10" height="2.29" fill="#b1b3d4"/><rect x="191.60" y="95.67" width="15.10" height="2.29" fill="#eeecf2"/><rect x="206.40" y="95.67" width="15.10" height="2.29" fill="#f1c6c9"/><rect x="221.20" y="95.67" width="15.10" height="2.29" fill="#eceaf1"/><rect x="236.00" y="95.67" width="15.10" height="2.29" fill="#e9747a"/><rect x="250.80" y="95.67" width="15.10" height="2.29" fill="#eea5aa"/><rect x="265.60" y="95.67" width="15.10" height="2.29" fill="#f2cdd0"/><rect x="280.40" y="95.67" width="15.10" height="2.29" fill="#adafd2"/><rect x="295.20" y="95.67" width="15.10" height="2.29" fill="#b5b6d5"/><rect x="310.00" y="95.67" width="15.10" height="2.29" fill="#abadd0"/><rect x="191.60" y="97.65" width="15.10" height="2.29" fill="#efacb0"/><rect x="206.40" y="97.65" width="15.10" height="2.29" fill="#f2cbce"/><rect x="221.20" y="97.65" width="15.10" height="2.29" fill="#f5e5e8"/><rect x="236.00" y="97.65" width="15.10" height="2.29" fill="#e96c72"/><rect x="250.80" y="97.65" width="15.10" height="2.29" fill="#efaaae"/><rect x="265.60" y="97.65" width="15.10" height="2.29" fill="#f0b8bc"/><rect x="280.40" y="97.65" width="15.10" height="2.29" fill="#a2a4cc"/><rect x="295.20" y="97.65" width="15.10" height="2.29" fill="#aeafd2"/><rect x="310.00" y="97.65" width="15.10" height="2.29" fill="#acadd1"/><rect x="191.60" y="99.64" width="15.10" height="2.29" fill="#efb1b5"/><rect x="206.40" y="99.64" width="15.10" height="2.29" fill="#f5e6e9"/><rect x="221.20" y="99.64" width="15.10" height="2.29" fill="#f6f4f6"/><rect x="236.00" y="99.64" width="15.10" height="2.29" fill="#f1bdc0"/><rect x="250.80" y="99.64" width="15.10" height="2.29" fill="#f1c1c4"/><rect x="265.60" y="99.64" width="15.10" height="2.29" fill="#e75a61"/><rect x="280.40" y="99.64" width="15.10" height="2.29" fill="#abadd0"/><rect x="295.20" y="99.64" width="15.10" height="2.29" fill="#a7a9cf"/><rect x="310.00" y="99.64" width="15.10" height="2.29" fill="#aaacd0"/><rect x="191.60" y="101.62" width="15.10" height="2.29" fill="#f2c9cc"/><rect x="206.40" y="101.62" width="15.10" height="2.29" fill="#f6f2f5"/><rect x="221.20" y="101.62" width="15.10" height="2.29" fill="#f5eaec"/><rect x="236.00" y="101.62" width="15.10" height="2.29" fill="#f3dadd"/><rect x="250.80" y="101.62" width="15.10" height="2.29" fill="#f0b2b6"/><rect x="265.60" y="101.62" width="15.10" height="2.29" fill="#e6545b"/><rect x="280.40" y="101.62" width="15.10" height="2.29" fill="#b2b3d4"/><rect x="295.20" y="101.62" width="15.10" height="2.29" fill="#acaed1"/><rect x="310.00" y="101.62" width="15.10" height="2.29" fill="#b4b5d5"/><rect x="191.60" y="103.61" width="15.10" height="2.29" fill="#f5e8ea"/><rect x="206.40" y="103.61" width="15.10" height="2.29" fill="#f3d2d5"/><rect x="221.20" y="103.61" width="15.10" height="2.29" fill="#f6f3f5"/><rect x="236.00" y="103.61" width="15.10" height="2.29" fill="#f2cace"/><rect x="250.80" y="103.61" width="15.10" height="2.29" fill="#f5f3f6"/><rect x="265.60" y="103.61" width="15.10" height="2.29" fill="#e76066"/><rect x="280.40" y="103.61" width="15.10" height="2.29" fill="#a4a6cd"/><rect x="295.20" y="103.61" width="15.10" height="2.29" fill="#9da0ca"/><rect x="310.00" y="103.61" width="15.10" height="2.29" fill="#a8aacf"/><rect x="191.60" y="105.59" width="15.10" height="2.29" fill="#f5ecee"/><rect x="206.40" y="105.59" width="15.10" height="2.29" fill="#f5eaec"/><rect x="221.20" y="105.59" width="15.10" height="2.29" fill="#f6f4f6"/><rect x="236.00" y="105.59" width="15.10" height="2.29" fill="#f4dcde"/><rect x="250.80" y="105.59" width="15.10" height="2.29" fill="#f5e5e7"/><rect x="265.60" y="105.59" width="15.10" height="2.29" fill="#e86970"/><rect x="280.40" y="105.59" width="15.10" height="2.29" fill="#afb0d2"/><rect x="295.20" y="105.59" width="15.10" height="2.29" fill="#a8aacf"/><rect x="310.00" y="105.59" width="15.10" height="2.29" fill="#abadd0"/><rect x="191.60" y="107.58" width="15.10" height="2.29" fill="#f5eaed"/><rect x="206.40" y="107.58" width="15.10" height="2.29" fill="#f5ecee"/><rect x="221.20" y="107.58" width="15.10" height="2.29" fill="#f6f2f4"/><rect x="236.00" y="107.58" width="15.10" height="2.29" fill="#f2cacd"/><rect x="250.80" y="107.58" width="15.10" height="2.29" fill="#f3d9dc"/><rect x="265.60" y="107.58" width="15.10" height="2.29" fill="#e8656c"/><rect x="280.40" y="107.58" width="15.10" height="2.29" fill="#afb1d3"/><rect x="295.20" y="107.58" width="15.10" height="2.29" fill="#acaed1"/><rect x="310.00" y="107.58" width="15.10" height="2.29" fill="#acadd1"/><rect x="191.60" y="109.56" width="15.10" height="2.29" fill="#f3f1f4"/><rect x="206.40" y="109.56" width="15.10" height="2.29" fill="#f5ebee"/><rect x="221.20" y="109.56" width="15.10" height="2.29" fill="#efedf2"/><rect x="236.00" y="109.56" width="15.10" height="2.29" fill="#f3d3d6"/><rect x="250.80" y="109.56" width="15.10" height="2.29" fill="#f2cbce"/><rect x="265.60" y="109.56" width="15.10" height="2.29" fill="#eea7ab"/><rect x="280.40" y="109.56" width="15.10" height="2.29" fill="#abadd1"/><rect x="295.20" y="109.56" width="15.10" height="2.29" fill="#a2a4cc"/><rect x="310.00" y="109.56" width="15.10" height="2.29" fill="#9b9dc8"/><rect x="191.60" y="111.55" width="15.10" height="2.29" fill="#f3d9dc"/><rect x="206.40" y="111.55" width="15.10" height="2.29" fill="#f5e6e8"/><rect x="221.20" y="111.55" width="15.10" height="2.29" fill="#f0b9bd"/><rect x="236.00" y="111.55" width="15.10" height="2.29" fill="#f3d4d7"/><rect x="250.80" y="111.55" width="15.10" height="2.29" fill="#f1c6c9"/><rect x="265.60" y="111.55" width="15.10" height="2.29" fill="#efadb1"/><rect x="280.40" y="111.55" width="15.10" height="2.29" fill="#a5a7ce"/><rect x="295.20" y="111.55" width="15.10" height="2.29" fill="#a2a5cc"/><rect x="310.00" y="111.55" width="15.10" height="2.29" fill="#a5a7ce"/><rect x="191.60" y="113.53" width="15.10" height="2.29" fill="#f5e6e8"/><rect x="206.40" y="113.53" width="15.10" height="2.29" fill="#f4f2f5"/><rect x="221.20" y="113.53" width="15.10" height="2.29" fill="#f1c2c5"/><rect x="236.00" y="113.53" width="15.10" height="2.29" fill="#f3dadd"/><rect x="250.80" y="113.53" width="15.10" height="2.29" fill="#f2ced1"/><rect x="265.60" y="113.53" width="15.10" height="2.29" fill="#efabaf"/><rect x="280.40" y="113.53" width="15.10" height="2.29" fill="#8c8fc0"/><rect x="295.20" y="113.53" width="15.10" height="2.29" fill="#8c90c0"/><rect x="310.00" y="113.53" width="15.10" height="2.29" fill="#8a8dbe"/><rect x="191.60" y="115.52" width="15.10" height="2.29" fill="#f2cbce"/><rect x="206.40" y="115.52" width="15.10" height="2.29" fill="#f4dde0"/><rect x="221.20" y="115.52" width="15.10" height="2.29" fill="#f3f1f4"/><rect x="236.00" y="115.52" width="15.10" height="2.29" fill="#f1c1c4"/><rect x="250.80" y="115.52" width="15.10" height="2.29" fill="#f5edf0"/><rect x="265.60" y="115.52" width="15.10" height="2.29" fill="#f1c0c3"/><rect x="280.40" y="115.52" width="15.10" height="2.29" fill="#989ac7"/><rect x="295.20" y="115.52" width="15.10" height="2.29" fill="#989bc7"/><rect x="310.00" y="115.52" width="15.10" height="2.29" fill="#9ea0ca"/><rect x="191.60" y="117.50" width="15.10" height="2.29" fill="#f4e1e4"/><rect x="206.40" y="117.50" width="15.10" height="2.29" fill="#f3d2d5"/><rect x="221.20" y="117.50" width="15.10" height="2.29" fill="#f0b5b9"/><rect x="236.00" y="117.50" width="15.10" height="2.29" fill="#f2c8cb"/><rect x="250.80" y="117.50" width="15.10" height="2.29" fill="#f5edf0"/><rect x="265.60" y="117.50" width="15.10" height="2.29" fill="#f0b9bd"/><rect x="280.40" y="117.50" width="15.10" height="2.29" fill="#9699c6"/><rect x="295.20" y="117.50" width="15.10" height="2.29" fill="#9698c6"/><rect x="310.00" y="117.50" width="15.10" height="2.29" fill="#8b8fc0"/><rect x="191.60" y="119.49" width="15.10" height="2.29" fill="#e6e4ee"/><rect x="206.40" y="119.49" width="15.10" height="2.29" fill="#e5e4ee"/><rect x="221.20" y="119.49" width="15.10" height="2.29" fill="#f1c5c8"/><rect x="236.00" y="119.49" width="15.10" height="2.29" fill="#f4e3e6"/><rect x="250.80" y="119.49" width="15.10" height="2.29" fill="#f2f1f4"/><rect x="265.60" y="119.49" width="15.10" height="2.29" fill="#f3d5d8"/><rect x="280.40" y="119.49" width="15.10" height="2.29" fill="#a3a5cc"/><rect x="295.20" y="119.49" width="15.10" height="2.29" fill="#a7a9ce"/><rect x="310.00" y="119.49" width="15.10" height="2.29" fill="#999cc8"/><rect x="191.60" y="121.47" width="15.10" height="2.29" fill="#f1c6c9"/><rect x="206.40" y="121.47" width="15.10" height="2.29" fill="#efeef3"/><rect x="221.20" y="121.47" width="15.10" height="2.29" fill="#f0b2b6"/><rect x="236.00" y="121.47" width="15.10" height="2.29" fill="#eea6aa"/><rect x="250.80" y="121.47" width="15.10" height="2.29" fill="#e6e5ee"/><rect x="265.60" y="121.47" width="15.10" height="2.29" fill="#eea2a6"/><rect x="280.40" y="121.47" width="15.10" height="2.29" fill="#a4a6cd"/><rect x="295.20" y="121.47" width="15.10" height="2.29" fill="#a6a8ce"/><rect x="310.00" y="121.47" width="15.10" height="2.29" fill="#9da0ca"/><rect x="191.60" y="123.46" width="15.10" height="2.29" fill="#f1c1c4"/><rect x="206.40" y="123.46" width="15.10" height="2.29" fill="#f2cbcf"/><rect x="221.20" y="123.46" width="15.10" height="2.29" fill="#efb0b4"/><rect x="236.00" y="123.46" width="15.10" height="2.29" fill="#efa8ac"/><rect x="250.80" y="123.46" width="15.10" height="2.29" fill="#f3dadd"/><rect x="265.60" y="123.46" width="15.10" height="2.29" fill="#f2d0d3"/><rect x="280.40" y="123.46" width="15.10" height="2.29" fill="#a3a5cc"/><rect x="295.20" y="123.46" width="15.10" height="2.29" fill="#9d9fc9"/><rect x="310.00" y="123.46" width="15.10" height="2.29" fill="#8f92c2"/><rect x="191.60" y="125.44" width="15.10" height="2.29" fill="#f2cdd0"/><rect x="206.40" y="125.44" width="15.10" height="2.29" fill="#f1c1c5"/><rect x="221.20" y="125.44" width="15.10" height="2.29" fill="#f0b4b8"/><rect x="236.00" y="125.44" width="15.10" height="2.29" fill="#ed9da2"/><rect x="250.80" y="125.44" width="15.10" height="2.29" fill="#f5ebed"/><rect x="265.60" y="125.44" width="15.10" height="2.29" fill="#ed959a"/><rect x="280.40" y="125.44" width="15.10" height="2.29" fill="#999cc8"/><rect x="295.20" y="125.44" width="15.10" height="2.29" fill="#9a9dc8"/><rect x="310.00" y="125.44" width="15.10" height="2.29" fill="#9598c5"/><rect x="191.60" y="127.43" width="15.10" height="2.29" fill="#f3d7da"/><rect x="206.40" y="127.43" width="15.10" height="2.29" fill="#f3d8db"/><rect x="221.20" y="127.43" width="15.10" height="2.29" fill="#f3d2d5"/><rect x="236.00" y="127.43" width="15.10" height="2.29" fill="#f4e3e6"/><rect x="250.80" y="127.43" width="15.10" height="2.29" fill="#f5e7ea"/><rect x="265.60" y="127.43" width="15.10" height="2.29" fill="#f4dfe2"/><rect x="280.40" y="127.43" width="15.10" height="2.29" fill="#a9abcf"/><rect x="295.20" y="127.43" width="15.10" height="2.29" fill="#aaacd0"/><rect x="310.00" y="127.43" width="15.10" height="2.29" fill="#a4a6cd"/><rect x="191.60" y="129.41" width="15.10" height="2.29" fill="#f5edf0"/><rect x="206.40" y="129.41" width="15.10" height="2.29" fill="#f3d3d6"/><rect x="221.20" y="129.41" width="15.10" height="2.29" fill="#f5eff1"/><rect x="236.00" y="129.41" width="15.10" height="2.29" fill="#f6f4f6"/><rect x="250.80" y="129.41" width="15.10" height="2.29" fill="#f5e7e9"/><rect x="265.60" y="129.41" width="15.10" height="2.29" fill="#f3d2d5"/><rect x="280.40" y="129.41" width="15.10" height="2.29" fill="#a1a3cc"/><rect x="295.20" y="129.41" width="15.10" height="2.29" fill="#a5a7ce"/><rect x="310.00" y="129.41" width="15.10" height="2.29" fill="#9d9fc9"/><rect x="191.60" y="131.40" width="15.10" height="2.31" fill="#c2c3dc"/><rect x="206.40" y="131.40" width="15.10" height="2.31" fill="#c1c1db"/><rect x="221.20" y="131.40" width="15.10" height="2.31" fill="#c2c2dc"/><rect x="236.00" y="131.40" width="15.10" height="2.31" fill="#b9bad7"/><rect x="250.80" y="131.40" width="15.10" height="2.31" fill="#bfc0db"/><rect x="265.60" y="131.40" width="15.10" height="2.31" fill="#bebfda"/><rect x="280.40" y="131.40" width="15.10" height="2.31" fill="#ed9da1"/><rect x="295.20" y="131.40" width="15.10" height="2.31" fill="#ec8e93"/><rect x="310.00" y="131.40" width="15.10" height="2.31" fill="#ee9fa3"/><rect x="191.60" y="133.41" width="15.10" height="2.31" fill="#c3c4dd"/><rect x="206.40" y="133.41" width="15.10" height="2.31" fill="#bfc0db"/><rect x="221.20" y="133.41" width="15.10" height="2.31" fill="#c2c3dc"/><rect x="236.00" y="133.41" width="15.10" height="2.31" fill="#c1c2dc"/><rect x="250.80" y="133.41" width="15.10" height="2.31" fill="#c3c4dd"/><rect x="265.60" y="133.41" width="15.10" height="2.31" fill="#bbbcd9"/><rect x="280.40" y="133.41" width="15.10" height="2.31" fill="#ed969b"/><rect x="295.20" y="133.41" width="15.10" height="2.31" fill="#ed979c"/><rect x="310.00" y="133.41" width="15.10" height="2.31" fill="#ed959a"/><rect x="191.60" y="135.42" width="15.10" height="2.31" fill="#cacae0"/><rect x="206.40" y="135.42" width="15.10" height="2.31" fill="#c6c6de"/><rect x="221.20" y="135.42" width="15.10" height="2.31" fill="#c8c8df"/><rect x="236.00" y="135.42" width="15.10" height="2.31" fill="#c6c6de"/><rect x="250.80" y="135.42" width="15.10" height="2.31" fill="#bfc0db"/><rect x="265.60" y="135.42" width="15.10" height="2.31" fill="#c2c3dc"/><rect x="280.40" y="135.42" width="15.10" height="2.31" fill="#ed999e"/><rect x="295.20" y="135.42" width="15.10" height="2.31" fill="#eb8388"/><rect x="310.00" y="135.42" width="15.10" height="2.31" fill="#ed979c"/><rect x="191.60" y="137.43" width="15.10" height="2.31" fill="#c2c3dc"/><rect x="206.40" y="137.43" width="15.10" height="2.31" fill="#cdcde1"/><rect x="221.20" y="137.43" width="15.10" height="2.31" fill="#c7c8df"/><rect x="236.00" y="137.43" width="15.10" height="2.31" fill="#cdcde1"/><rect x="250.80" y="137.43" width="15.10" height="2.31" fill="#bebfda"/><rect x="265.60" y="137.43" width="15.10" height="2.31" fill="#cccce1"/><rect x="280.40" y="137.43" width="15.10" height="2.31" fill="#efabaf"/><rect x="295.20" y="137.43" width="15.10" height="2.31" fill="#ea7e83"/><rect x="310.00" y="137.43" width="15.10" height="2.31" fill="#efacb0"/><rect x="191.60" y="139.44" width="15.10" height="2.31" fill="#c4c4dd"/><rect x="206.40" y="139.44" width="15.10" height="2.31" fill="#c9c9df"/><rect x="221.20" y="139.44" width="15.10" height="2.31" fill="#bdbdd9"/><rect x="236.00" y="139.44" width="15.10" height="2.31" fill="#c9c9df"/><rect x="250.80" y="139.44" width="15.10" height="2.31" fill="#c3c4dd"/><rect x="265.60" y="139.44" width="15.10" height="2.31" fill="#d4d4e5"/><rect x="280.40" y="139.44" width="15.10" height="2.31" fill="#eea4a9"/><rect x="295.20" y="139.44" width="15.10" height="2.31" fill="#ea7a80"/><rect x="310.00" y="139.44" width="15.10" height="2.31" fill="#eea2a6"/><rect x="191.60" y="141.44" width="15.10" height="2.31" fill="#bebfda"/><rect x="206.40" y="141.44" width="15.10" height="2.31" fill="#cccce1"/><rect x="221.20" y="141.44" width="15.10" height="2.31" fill="#c0c0db"/><rect x="236.00" y="141.44" width="15.10" height="2.31" fill="#cdcde2"/><rect x="250.80" y="141.44" width="15.10" height="2.31" fill="#c2c3dc"/><rect x="265.60" y="141.44" width="15.10" height="2.31" fill="#c5c5dd"/><rect x="280.40" y="141.44" width="15.10" height="2.31" fill="#eea7ab"/><rect x="295.20" y="141.44" width="15.10" height="2.31" fill="#ea7c82"/><rect x="310.00" y="141.44" width="15.10" height="2.31" fill="#ed9499"/><rect x="191.60" y="143.45" width="15.10" height="2.31" fill="#c8c8df"/><rect x="206.40" y="143.45" width="15.10" height="2.31" fill="#d5d5e6"/><rect x="221.20" y="143.45" width="15.10" height="2.31" fill="#cacae0"/><rect x="236.00" y="143.45" width="15.10" height="2.31" fill="#cfcfe3"/><rect x="250.80" y="143.45" width="15.10" height="2.31" fill="#cbcbe0"/><rect x="265.60" y="143.45" width="15.10" height="2.31" fill="#d3d3e5"/><rect x="280.40" y="143.45" width="15.10" height="2.31" fill="#efaeb2"/><rect x="295.20" y="143.45" width="15.10" height="2.31" fill="#ea757b"/><rect x="310.00" y="143.45" width="15.10" height="2.31" fill="#eb858a"/><rect x="191.60" y="145.46" width="15.10" height="2.31" fill="#cccce1"/><rect x="206.40" y="145.46" width="15.10" height="2.31" fill="#cccce1"/><rect x="221.20" y="145.46" width="15.10" height="2.31" fill="#cfcfe2"/><rect x="236.00" y="145.46" width="15.10" height="2.31" fill="#d2d2e4"/><rect x="250.80" y="145.46" width="15.10" height="2.31" fill="#cdcde2"/><rect x="265.60" y="145.46" width="15.10" height="2.31" fill="#c7c7de"/><rect x="280.40" y="145.46" width="15.10" height="2.31" fill="#ed9499"/><rect x="295.20" y="145.46" width="15.10" height="2.31" fill="#ea7c82"/><rect x="310.00" y="145.46" width="15.10" height="2.31" fill="#ed9499"/><rect x="191.60" y="147.47" width="15.10" height="2.31" fill="#c5c6de"/><rect x="206.40" y="147.47" width="15.10" height="2.31" fill="#c1c2dc"/><rect x="221.20" y="147.47" width="15.10" height="2.31" fill="#bdbeda"/><rect x="236.00" y="147.47" width="15.10" height="2.31" fill="#c6c6de"/><rect x="250.80" y="147.47" width="15.10" height="2.31" fill="#c2c2dc"/><rect x="265.60" y="147.47" width="15.10" height="2.31" fill="#c6c6de"/><rect x="280.40" y="147.47" width="15.10" height="2.31" fill="#ed969a"/><rect x="295.20" y="147.47" width="15.10" height="2.31" fill="#ec8c91"/><rect x="310.00" y="147.47" width="15.10" height="2.31" fill="#ed999d"/><rect x="191.60" y="149.48" width="15.10" height="2.31" fill="#c6c7de"/><rect x="206.40" y="149.48" width="15.10" height="2.31" fill="#bcbcd9"/><rect x="221.20" y="149.48" width="15.10" height="2.31" fill="#bebfda"/><rect x="236.00" y="149.48" width="15.10" height="2.31" fill="#c7c7de"/><rect x="250.80" y="149.48" width="15.10" height="2.31" fill="#c5c6de"/><rect x="265.60" y="149.48" width="15.10" height="2.31" fill="#c3c4dd"/><rect x="280.40" y="149.48" width="15.10" height="2.31" fill="#efacb0"/><rect x="295.20" y="149.48" width="15.10" height="2.31" fill="#ed9499"/><rect x="310.00" y="149.48" width="15.10" height="2.31" fill="#f4dbde"/><rect x="191.60" y="151.49" width="15.10" height="2.31" fill="#cccce1"/><rect x="206.40" y="151.49" width="15.10" height="2.31" fill="#babbd8"/><rect x="221.20" y="151.49" width="15.10" height="2.31" fill="#bcbdd9"/><rect x="236.00" y="151.49" width="15.10" height="2.31" fill="#c5c6de"/><rect x="250.80" y="151.49" width="15.10" height="2.31" fill="#c2c3dc"/><rect x="265.60" y="151.49" width="15.10" height="2.31" fill="#c3c4dd"/><rect x="280.40" y="151.49" width="15.10" height="2.31" fill="#ed969b"/><rect x="295.20" y="151.49" width="15.10" height="2.31" fill="#efa8ac"/><rect x="310.00" y="151.49" width="15.10" height="2.31" fill="#f2d0d3"/><rect x="191.60" y="153.50" width="15.10" height="2.31" fill="#bbbcd8"/><rect x="206.40" y="153.50" width="15.10" height="2.31" fill="#bfc0db"/><rect x="221.20" y="153.50" width="15.10" height="2.31" fill="#dbdae8"/><rect x="236.00" y="153.50" width="15.10" height="2.31" fill="#c0c1db"/><rect x="250.80" y="153.50" width="15.10" height="2.31" fill="#c6c7de"/><rect x="265.60" y="153.50" width="15.10" height="2.31" fill="#bfc0da"/><rect x="280.40" y="153.50" width="15.10" height="2.31" fill="#ec8c91"/><rect x="295.20" y="153.50" width="15.10" height="2.31" fill="#efaeb2"/><rect x="310.00" y="153.50" width="15.10" height="2.31" fill="#f3d3d6"/><rect x="191.60" y="155.51" width="15.10" height="2.31" fill="#c5c6de"/><rect x="206.40" y="155.51" width="15.10" height="2.31" fill="#bfbfda"/><rect x="221.20" y="155.51" width="15.10" height="2.31" fill="#c3c4dc"/><rect x="236.00" y="155.51" width="15.10" height="2.31" fill="#b8b9d7"/><rect x="250.80" y="155.51" width="15.10" height="2.31" fill="#bcbdd9"/><rect x="265.60" y="155.51" width="15.10" height="2.31" fill="#b9bad8"/><rect x="280.40" y="155.51" width="15.10" height="2.31" fill="#ec8f94"/><rect x="295.20" y="155.51" width="15.10" height="2.31" fill="#ee9ea2"/><rect x="310.00" y="155.51" width="15.10" height="2.31" fill="#f0babe"/><rect x="191.60" y="157.52" width="15.10" height="2.31" fill="#c9c9e0"/><rect x="206.40" y="157.52" width="15.10" height="2.31" fill="#c1c2dc"/><rect x="221.20" y="157.52" width="15.10" height="2.31" fill="#c0c0db"/><rect x="236.00" y="157.52" width="15.10" height="2.31" fill="#bfc0db"/><rect x="250.80" y="157.52" width="15.10" height="2.31" fill="#c2c3dc"/><rect x="265.60" y="157.52" width="15.10" height="2.31" fill="#e2e1ec"/><rect x="280.40" y="157.52" width="15.10" height="2.31" fill="#ec8f94"/><rect x="295.20" y="157.52" width="15.10" height="2.31" fill="#eea6ab"/><rect x="310.00" y="157.52" width="15.10" height="2.31" fill="#f2cacd"/><rect x="191.60" y="159.53" width="15.10" height="2.31" fill="#c1c1db"/><rect x="206.40" y="159.53" width="15.10" height="2.31" fill="#b8b9d7"/><rect x="221.20" y="159.53" width="15.10" height="2.31" fill="#bebfda"/><rect x="236.00" y="159.53" width="15.10" height="2.31" fill="#b6b7d6"/><rect x="250.80" y="159.53" width="15.10" height="2.31" fill="#b8b9d7"/><rect x="265.60" y="159.53" width="15.10" height="2.31" fill="#bebfda"/><rect x="280.40" y="159.53" width="15.10" height="2.31" fill="#ee9ea2"/><rect x="295.20" y="159.53" width="15.10" height="2.31" fill="#f0b4b8"/><rect x="310.00" y="159.53" width="15.10" height="2.31" fill="#f3d9dc"/><rect x="191.60" y="161.53" width="15.10" height="2.31" fill="#c4c4dd"/><rect x="206.40" y="161.53" width="15.10" height="2.31" fill="#c6c7de"/><rect x="221.20" y="161.53" width="15.10" height="2.31" fill="#cbcbe1"/><rect x="236.00" y="161.53" width="15.10" height="2.31" fill="#c1c2dc"/><rect x="250.80" y="161.53" width="15.10" height="2.31" fill="#c0c1db"/><rect x="265.60" y="161.53" width="15.10" height="2.31" fill="#c5c5dd"/><rect x="280.40" y="161.53" width="15.10" height="2.31" fill="#ed9ca1"/><rect x="295.20" y="161.53" width="15.10" height="2.31" fill="#eea1a5"/><rect x="310.00" y="161.53" width="15.10" height="2.31" fill="#ed9a9f"/><rect x="191.60" y="163.54" width="15.10" height="2.31" fill="#bcbdd9"/><rect x="206.40" y="163.54" width="15.10" height="2.31" fill="#bdbeda"/><rect x="221.20" y="163.54" width="15.10" height="2.31" fill="#b9bad7"/><rect x="236.00" y="163.54" width="15.10" height="2.31" fill="#bcbdd9"/><rect x="250.80" y="163.54" width="15.10" height="2.31" fill="#c0c1db"/><rect x="265.60" y="163.54" width="15.10" height="2.31" fill="#c1c2db"/><rect x="280.40" y="163.54" width="15.10" height="2.31" fill="#eea2a7"/><rect x="295.20" y="163.54" width="15.10" height="2.31" fill="#ed9da1"/><rect x="310.00" y="163.54" width="15.10" height="2.31" fill="#ed9a9f"/><rect x="191.60" y="165.55" width="15.10" height="2.31" fill="#bebfda"/><rect x="206.40" y="165.55" width="15.10" height="2.31" fill="#c9c9df"/><rect x="221.20" y="165.55" width="15.10" height="2.31" fill="#cacae0"/><rect x="236.00" y="165.55" width="15.10" height="2.31" fill="#c2c3dc"/><rect x="250.80" y="165.55" width="15.10" height="2.31" fill="#c6c6de"/><rect x="265.60" y="165.55" width="15.10" height="2.31" fill="#c8c8df"/><rect x="280.40" y="165.55" width="15.10" height="2.31" fill="#efaaae"/><rect x="295.20" y="165.55" width="15.10" height="2.31" fill="#ec9095"/><rect x="310.00" y="165.55" width="15.10" height="2.31" fill="#efacb1"/><rect x="191.60" y="167.56" width="15.10" height="2.31" fill="#c4c5dd"/><rect x="206.40" y="167.56" width="15.10" height="2.31" fill="#cbcbe0"/><rect x="221.20" y="167.56" width="15.10" height="2.31" fill="#cacae0"/><rect x="236.00" y="167.56" width="15.10" height="2.31" fill="#c3c4dd"/><rect x="250.80" y="167.56" width="15.10" height="2.31" fill="#c9c9df"/><rect x="265.60" y="167.56" width="15.10" height="2.31" fill="#d7d6e6"/><rect x="280.40" y="167.56" width="15.10" height="2.31" fill="#ee9da2"/><rect x="295.20" y="167.56" width="15.10" height="2.31" fill="#eb8388"/><rect x="310.00" y="167.56" width="15.10" height="2.31" fill="#efacb0"/><rect x="191.60" y="169.57" width="15.10" height="2.31" fill="#c6c7de"/><rect x="206.40" y="169.57" width="15.10" height="2.31" fill="#c5c6de"/><rect x="221.20" y="169.57" width="15.10" height="2.31" fill="#c2c2dc"/><rect x="236.00" y="169.57" width="15.10" height="2.31" fill="#c1c2dc"/><rect x="250.80" y="169.57" width="15.10" height="2.31" fill="#bfc0db"/><rect x="265.60" y="169.57" width="15.10" height="2.31" fill="#bfc0da"/><rect x="280.40" y="169.57" width="15.10" height="2.31" fill="#eb8085"/><rect x="295.20" y="169.57" width="15.10" height="2.31" fill="#eea0a4"/><rect x="310.00" y="169.57" width="15.10" height="2.31" fill="#f0b3b7"/><rect x="191.60" y="171.58" width="15.10" height="2.31" fill="#c7c8df"/><rect x="206.40" y="171.58" width="15.10" height="2.31" fill="#c2c2dc"/><rect x="221.20" y="171.58" width="15.10" height="2.31" fill="#bbbcd9"/><rect x="236.00" y="171.58" width="15.10" height="2.31" fill="#babbd8"/><rect x="250.80" y="171.58" width="15.10" height="2.31" fill="#bcbcd9"/><rect x="265.60" y="171.58" width="15.10" height="2.31" fill="#e8e7ef"/><rect x="280.40" y="171.58" width="15.10" height="2.31" fill="#ea767c"/><rect x="295.20" y="171.58" width="15.10" height="2.31" fill="#ed979b"/><rect x="310.00" y="171.58" width="15.10" height="2.31" fill="#f1c2c6"/><rect x="191.60" y="173.59" width="15.10" height="2.31" fill="#cccce1"/><rect x="206.40" y="173.59" width="15.10" height="2.31" fill="#cacae0"/><rect x="221.20" y="173.59" width="15.10" height="2.31" fill="#cacbe0"/><rect x="236.00" y="173.59" width="15.10" height="2.31" fill="#c5c6de"/><rect x="250.80" y="173.59" width="15.10" height="2.31" fill="#c9cae0"/><rect x="265.60" y="173.59" width="15.10" height="2.31" fill="#d3d3e5"/><rect x="280.40" y="173.59" width="15.10" height="2.31" fill="#eb868b"/><rect x="295.20" y="173.59" width="15.10" height="2.31" fill="#eea1a6"/><rect x="310.00" y="173.59" width="15.10" height="2.31" fill="#efb1b5"/><rect x="191.60" y="175.60" width="15.10" height="2.31" fill="#d0d0e3"/><rect x="206.40" y="175.60" width="15.10" height="2.31" fill="#d0d0e3"/><rect x="221.20" y="175.60" width="15.10" height="2.31" fill="#cecee2"/><rect x="236.00" y="175.60" width="15.10" height="2.31" fill="#cecee2"/><rect x="250.80" y="175.60" width="15.10" height="2.31" fill="#cacae0"/><rect x="265.60" y="175.60" width="15.10" height="2.31" fill="#cdcde1"/><rect x="280.40" y="175.60" width="15.10" height="2.31" fill="#ed9499"/><rect x="295.20" y="175.60" width="15.10" height="2.31" fill="#eea0a4"/><rect x="310.00" y="175.60" width="15.10" height="2.31" fill="#f0b6ba"/><rect x="191.60" y="177.61" width="15.10" height="2.31" fill="#b8b9d7"/><rect x="206.40" y="177.61" width="15.10" height="2.31" fill="#bcbdd9"/><rect x="221.20" y="177.61" width="15.10" height="2.31" fill="#bbbcd9"/><rect x="236.00" y="177.61" width="15.10" height="2.31" fill="#b6b7d6"/><rect x="250.80" y="177.61" width="15.10" height="2.31" fill="#b2b3d4"/><rect x="265.60" y="177.61" width="15.10" height="2.31" fill="#bdbed9"/><rect x="280.40" y="177.61" width="15.10" height="2.31" fill="#f0babe"/><rect x="295.20" y="177.61" width="15.10" height="2.31" fill="#ed979c"/><rect x="310.00" y="177.61" width="15.10" height="2.31" fill="#efb0b4"/><rect x="191.60" y="179.61" width="15.10" height="2.31" fill="#bfc0db"/><rect x="206.40" y="179.61" width="15.10" height="2.31" fill="#c2c3dc"/><rect x="221.20" y="179.61" width="15.10" height="2.31" fill="#c4c5dd"/><rect x="236.00" y="179.61" width="15.10" height="2.31" fill="#bdbeda"/><rect x="250.80" y="179.61" width="15.10" height="2.31" fill="#babbd8"/><rect x="265.60" y="179.61" width="15.10" height="2.31" fill="#babbd8"/><rect x="280.40" y="179.61" width="15.10" height="2.31" fill="#f3d2d5"/><rect x="295.20" y="179.61" width="15.10" height="2.31" fill="#e64e55"/><rect x="310.00" y="179.61" width="15.10" height="2.31" fill="#f3d5d8"/><rect x="191.60" y="181.62" width="15.10" height="2.31" fill="#c6c7de"/><rect x="206.40" y="181.62" width="15.10" height="2.31" fill="#c9c9e0"/><rect x="221.20" y="181.62" width="15.10" height="2.31" fill="#d2d2e4"/><rect x="236.00" y="181.62" width="15.10" height="2.31" fill="#c7c7de"/><rect x="250.80" y="181.62" width="15.10" height="2.31" fill="#cfcfe2"/><rect x="265.60" y="181.62" width="15.10" height="2.31" fill="#c6c7de"/><rect x="280.40" y="181.62" width="15.10" height="2.31" fill="#f4dcdf"/><rect x="295.20" y="181.62" width="15.10" height="2.31" fill="#e6535a"/><rect x="310.00" y="181.62" width="15.10" height="2.31" fill="#f4e1e3"/><rect x="191.60" y="183.63" width="15.10" height="2.31" fill="#c3c4dd"/><rect x="206.40" y="183.63" width="15.10" height="2.31" fill="#c2c3dc"/><rect x="221.20" y="183.63" width="15.10" height="2.31" fill="#cacae0"/><rect x="236.00" y="183.63" width="15.10" height="2.31" fill="#e7e5ee"/><rect x="250.80" y="183.63" width="15.10" height="2.31" fill="#c2c3dc"/><rect x="265.60" y="183.63" width="15.10" height="2.31" fill="#c0c1db"/><rect x="280.40" y="183.63" width="15.10" height="2.31" fill="#f3d4d7"/><rect x="295.20" y="183.63" width="15.10" height="2.31" fill="#e65158"/><rect x="310.00" y="183.63" width="15.10" height="2.31" fill="#f3d4d7"/><rect x="191.60" y="185.64" width="15.10" height="2.31" fill="#cbcbe1"/><rect x="206.40" y="185.64" width="15.10" height="2.31" fill="#cacae0"/><rect x="221.20" y="185.64" width="15.10" height="2.31" fill="#d0d0e3"/><rect x="236.00" y="185.64" width="15.10" height="2.31" fill="#dcdbe9"/><rect x="250.80" y="185.64" width="15.10" height="2.31" fill="#cccce1"/><rect x="265.60" y="185.64" width="15.10" height="2.31" fill="#cccce1"/><rect x="280.40" y="185.64" width="15.10" height="2.31" fill="#f1bdc1"/><rect x="295.20" y="185.64" width="15.10" height="2.31" fill="#e64e55"/><rect x="310.00" y="185.64" width="15.10" height="2.31" fill="#f4dde0"/><rect x="191.60" y="187.65" width="15.10" height="2.31" fill="#c6c6de"/><rect x="206.40" y="187.65" width="15.10" height="2.31" fill="#c2c3dc"/><rect x="221.20" y="187.65" width="15.10" height="2.31" fill="#c4c5dd"/><rect x="236.00" y="187.65" width="15.10" height="2.31" fill="#c3c3dc"/><rect x="250.80" y="187.65" width="15.10" height="2.31" fill="#cacbe0"/><rect x="265.60" y="187.65" width="15.10" height="2.31" fill="#c1c1db"/><rect x="280.40" y="187.65" width="15.10" height="2.31" fill="#f0b6ba"/><rect x="295.20" y="187.65" width="15.10" height="2.31" fill="#ea767c"/><rect x="310.00" y="187.65" width="15.10" height="2.31" fill="#f3d9dc"/><rect x="191.60" y="189.66" width="15.10" height="2.31" fill="#c1c2dc"/><rect x="206.40" y="189.66" width="15.10" height="2.31" fill="#bdbeda"/><rect x="221.20" y="189.66" width="15.10" height="2.31" fill="#bebeda"/><rect x="236.00" y="189.66" width="15.10" height="2.31" fill="#c0c1db"/><rect x="250.80" y="189.66" width="15.10" height="2.31" fill="#c1c1db"/><rect x="265.60" y="189.66" width="15.10" height="2.31" fill="#bebeda"/><rect x="280.40" y="189.66" width="15.10" height="2.31" fill="#f4dee0"/><rect x="295.20" y="189.66" width="15.10" height="2.31" fill="#e75960"/><rect x="310.00" y="189.66" width="15.10" height="2.31" fill="#f4dfe2"/><rect x="191.60" y="191.67" width="15.10" height="2.31" fill="#bdbeda"/><rect x="206.40" y="191.67" width="15.10" height="2.31" fill="#b9bad8"/><rect x="221.20" y="191.67" width="15.10" height="2.31" fill="#b2b3d4"/><rect x="236.00" y="191.67" width="15.10" height="2.31" fill="#babbd8"/><rect x="250.80" y="191.67" width="15.10" height="2.31" fill="#b4b6d5"/><rect x="265.60" y="191.67" width="15.10" height="2.31" fill="#b4b5d5"/><rect x="280.40" y="191.67" width="15.10" height="2.31" fill="#f6f1f3"/><rect x="295.20" y="191.67" width="15.10" height="2.31" fill="#e64c53"/><rect x="310.00" y="191.67" width="15.10" height="2.31" fill="#f5ebed"/><rect x="191.60" y="193.68" width="15.10" height="2.31" fill="#c8c8df"/><rect x="206.40" y="193.68" width="15.10" height="2.31" fill="#cbcbe0"/><rect x="221.20" y="193.68" width="15.10" height="2.31" fill="#c6c7de"/><rect x="236.00" y="193.68" width="15.10" height="2.31" fill="#cbcbe0"/><rect x="250.80" y="193.68" width="15.10" height="2.31" fill="#cccce1"/><rect x="265.60" y="193.68" width="15.10" height="2.31" fill="#cfcfe2"/><rect x="280.40" y="193.68" width="15.10" height="2.31" fill="#f6f2f4"/><rect x="295.20" y="193.68" width="15.10" height="2.31" fill="#ed9ca1"/><rect x="310.00" y="193.68" width="15.10" height="2.31" fill="#edebf1"/><rect x="191.60" y="195.69" width="15.10" height="2.31" fill="#c3c4dd"/><rect x="206.40" y="195.69" width="15.10" height="2.31" fill="#c8c9df"/><rect x="221.20" y="195.69" width="15.10" height="2.31" fill="#bfc0db"/><rect x="236.00" y="195.69" width="15.10" height="2.31" fill="#c4c5dd"/><rect x="250.80" y="195.69" width="15.10" height="2.31" fill="#c7c7de"/><rect x="265.60" y="195.69" width="15.10" height="2.31" fill="#bfbfda"/><rect x="280.40" y="195.69" width="15.10" height="2.31" fill="#f0b7bb"/><rect x="295.20" y="195.69" width="15.10" height="2.31" fill="#eea1a6"/><rect x="310.00" y="195.69" width="15.10" height="2.31" fill="#f5f3f6"/><rect x="191.60" y="197.69" width="15.10" height="2.31" fill="#cbcbe1"/><rect x="206.40" y="197.69" width="15.10" height="2.31" fill="#cacae0"/><rect x="221.20" y="197.69" width="15.10" height="2.31" fill="#cbcbe1"/><rect x="236.00" y="197.69" width="15.10" height="2.31" fill="#c7c8df"/><rect x="250.80" y="197.69" width="15.10" height="2.31" fill="#c6c7de"/><rect x="265.60" y="197.69" width="15.10" height="2.31" fill="#cacbe0"/><rect x="280.40" y="197.69" width="15.10" height="2.31" fill="#f1c2c5"/><rect x="295.20" y="197.69" width="15.10" height="2.31" fill="#f0b3b7"/><rect x="310.00" y="197.69" width="15.10" height="2.31" fill="#efaeb2"/><rect x="191.60" y="199.70" width="15.10" height="2.31" fill="#cccce1"/><rect x="206.40" y="199.70" width="15.10" height="2.31" fill="#c0c1db"/><rect x="221.20" y="199.70" width="15.10" height="2.31" fill="#c5c6de"/><rect x="236.00" y="199.70" width="15.10" height="2.31" fill="#cbcce1"/><rect x="250.80" y="199.70" width="15.10" height="2.31" fill="#c1c2dc"/><rect x="265.60" y="199.70" width="15.10" height="2.31" fill="#c6c7de"/><rect x="280.40" y="199.70" width="15.10" height="2.31" fill="#f1c5c9"/><rect x="295.20" y="199.70" width="15.10" height="2.31" fill="#f1c1c5"/><rect x="310.00" y="199.70" width="15.10" height="2.31" fill="#eb8489"/><rect x="191.60" y="201.71" width="15.10" height="2.31" fill="#c6c7de"/><rect x="206.40" y="201.71" width="15.10" height="2.31" fill="#bfc0db"/><rect x="221.20" y="201.71" width="15.10" height="2.31" fill="#bebfda"/><rect x="236.00" y="201.71" width="15.10" height="2.31" fill="#c3c4dd"/><rect x="250.80" y="201.71" width="15.10" height="2.31" fill="#c5c5dd"/><rect x="265.60" y="201.71" width="15.10" height="2.31" fill="#c2c3dc"/><rect x="280.40" y="201.71" width="15.10" height="2.31" fill="#efb0b4"/><rect x="295.20" y="201.71" width="15.10" height="2.31" fill="#f1bec1"/><rect x="310.00" y="201.71" width="15.10" height="2.31" fill="#ec9297"/><rect x="191.60" y="203.72" width="15.10" height="2.31" fill="#c4c4dd"/><rect x="206.40" y="203.72" width="15.10" height="2.31" fill="#c1c1db"/><rect x="221.20" y="203.72" width="15.10" height="2.31" fill="#cbcce1"/><rect x="236.00" y="203.72" width="15.10" height="2.31" fill="#cecee2"/><rect x="250.80" y="203.72" width="15.10" height="2.31" fill="#c7c8df"/><rect x="265.60" y="203.72" width="15.10" height="2.31" fill="#babbd8"/><rect x="280.40" y="203.72" width="15.10" height="2.31" fill="#f1c0c3"/><rect x="295.20" y="203.72" width="15.10" height="2.31" fill="#f2cbce"/><rect x="310.00" y="203.72" width="15.10" height="2.31" fill="#ec9196"/><rect x="191.60" y="205.73" width="15.10" height="2.31" fill="#c2c3dc"/><rect x="206.40" y="205.73" width="15.10" height="2.31" fill="#c1c2dc"/><rect x="221.20" y="205.73" width="15.10" height="2.31" fill="#c5c6de"/><rect x="236.00" y="205.73" width="15.10" height="2.31" fill="#c3c3dc"/><rect x="250.80" y="205.73" width="15.10" height="2.31" fill="#c9c9df"/><rect x="265.60" y="205.73" width="15.10" height="2.31" fill="#c0c1db"/><rect x="280.40" y="205.73" width="15.10" height="2.31" fill="#efa9ad"/><rect x="295.20" y="205.73" width="15.10" height="2.31" fill="#f4e1e4"/><rect x="310.00" y="205.73" width="15.10" height="2.31" fill="#ed9ca1"/><rect x="191.60" y="207.74" width="15.10" height="2.31" fill="#cbcce1"/><rect x="206.40" y="207.74" width="15.10" height="2.31" fill="#bbbcd9"/><rect x="221.20" y="207.74" width="15.10" height="2.31" fill="#bfc0db"/><rect x="236.00" y="207.74" width="15.10" height="2.31" fill="#bfc0da"/><rect x="250.80" y="207.74" width="15.10" height="2.31" fill="#bcbdd9"/><rect x="265.60" y="207.74" width="15.10" height="2.31" fill="#bbbcd9"/><rect x="280.40" y="207.74" width="15.10" height="2.31" fill="#f2c7ca"/><rect x="295.20" y="207.74" width="15.10" height="2.31" fill="#f3d1d4"/><rect x="310.00" y="207.74" width="15.10" height="2.31" fill="#ec8c91"/><rect x="191.60" y="209.75" width="15.10" height="2.31" fill="#c6c7de"/><rect x="206.40" y="209.75" width="15.10" height="2.31" fill="#c9c9df"/><rect x="221.20" y="209.75" width="15.10" height="2.31" fill="#bfbfda"/><rect x="236.00" y="209.75" width="15.10" height="2.31" fill="#c7c7de"/><rect x="250.80" y="209.75" width="15.10" height="2.31" fill="#c8c8df"/><rect x="265.60" y="209.75" width="15.10" height="2.31" fill="#c1c1db"/><rect x="280.40" y="209.75" width="15.10" height="2.31" fill="#f2c7ca"/><rect x="295.20" y="209.75" width="15.10" height="2.31" fill="#f2c8cb"/><rect x="310.00" y="209.75" width="15.10" height="2.31" fill="#ec898e"/><rect x="191.60" y="211.76" width="15.10" height="2.31" fill="#bdbeda"/><rect x="206.40" y="211.76" width="15.10" height="2.31" fill="#c2c3dc"/><rect x="221.20" y="211.76" width="15.10" height="2.31" fill="#c0c1db"/><rect x="236.00" y="211.76" width="15.10" height="2.31" fill="#c6c6de"/><rect x="250.80" y="211.76" width="15.10" height="2.31" fill="#c2c2dc"/><rect x="265.60" y="211.76" width="15.10" height="2.31" fill="#c2c3dc"/><rect x="280.40" y="211.76" width="15.10" height="2.31" fill="#efafb3"/><rect x="295.20" y="211.76" width="15.10" height="2.31" fill="#f4dfe2"/><rect x="310.00" y="211.76" width="15.10" height="2.31" fill="#ec8e93"/><rect x="191.60" y="213.77" width="15.10" height="2.31" fill="#c7c8df"/><rect x="206.40" y="213.77" width="15.10" height="2.31" fill="#c7c7df"/><rect x="221.20" y="213.77" width="15.10" height="2.31" fill="#cbcbe0"/><rect x="236.00" y="213.77" width="15.10" height="2.31" fill="#d5d5e6"/><rect x="250.80" y="213.77" width="15.10" height="2.31" fill="#c1c2db"/><rect x="265.60" y="213.77" width="15.10" height="2.31" fill="#cacbe0"/><rect x="280.40" y="213.77" width="15.10" height="2.31" fill="#f1c0c3"/><rect x="295.20" y="213.77" width="15.10" height="2.31" fill="#f1c3c6"/><rect x="310.00" y="213.77" width="15.10" height="2.31" fill="#ec9095"/><rect x="191.60" y="215.78" width="15.10" height="2.31" fill="#cccce1"/><rect x="206.40" y="215.78" width="15.10" height="2.31" fill="#d1d1e3"/><rect x="221.20" y="215.78" width="15.10" height="2.31" fill="#cecee2"/><rect x="236.00" y="215.78" width="15.10" height="2.31" fill="#d2d2e4"/><rect x="250.80" y="215.78" width="15.10" height="2.31" fill="#cfcfe3"/><rect x="265.60" y="215.78" width="15.10" height="2.31" fill="#cdcde2"/><rect x="280.40" y="215.78" width="15.10" height="2.31" fill="#f3d2d5"/><rect x="295.20" y="215.78" width="15.10" height="2.31" fill="#f1bec2"/><rect x="310.00" y="215.78" width="15.10" height="2.31" fill="#eb878c"/><rect x="191.60" y="217.78" width="15.10" height="2.31" fill="#cccce1"/><rect x="206.40" y="217.78" width="15.10" height="2.31" fill="#cccce1"/><rect x="221.20" y="217.78" width="15.10" height="2.31" fill="#cbcbe1"/><rect x="236.00" y="217.78" width="15.10" height="2.31" fill="#cacbe0"/><rect x="250.80" y="217.78" width="15.10" height="2.31" fill="#c6c6de"/><rect x="265.60" y="217.78" width="15.10" height="2.31" fill="#c7c7de"/><rect x="280.40" y="217.78" width="15.10" height="2.31" fill="#f2c6ca"/><rect x="295.20" y="217.78" width="15.10" height="2.31" fill="#f1c0c3"/><rect x="310.00" y="217.78" width="15.10" height="2.31" fill="#eb858a"/><rect x="191.60" y="219.79" width="15.10" height="2.31" fill="#c7c7de"/><rect x="206.40" y="219.79" width="15.10" height="2.31" fill="#c5c5de"/><rect x="221.20" y="219.79" width="15.10" height="2.31" fill="#c7c7de"/><rect x="236.00" y="219.79" width="15.10" height="2.31" fill="#c4c4dd"/><rect x="250.80" y="219.79" width="15.10" height="2.31" fill="#f1eff3"/><rect x="265.60" y="219.79" width="15.10" height="2.31" fill="#d0d0e3"/><rect x="280.40" y="219.79" width="15.10" height="2.31" fill="#f1c2c5"/><rect x="295.20" y="219.79" width="15.10" height="2.31" fill="#f2d0d3"/><rect x="310.00" y="219.79" width="15.10" height="2.31" fill="#ea7d83"/><rect x="191.60" y="221.80" width="15.10" height="2.31" fill="#cecee2"/><rect x="206.40" y="221.80" width="15.10" height="2.31" fill="#c8c9df"/><rect x="221.20" y="221.80" width="15.10" height="2.31" fill="#cfcfe2"/><rect x="236.00" y="221.80" width="15.10" height="2.31" fill="#cccce1"/><rect x="250.80" y="221.80" width="15.10" height="2.31" fill="#cccce1"/><rect x="265.60" y="221.80" width="15.10" height="2.31" fill="#cfcfe3"/><rect x="280.40" y="221.80" width="15.10" height="2.31" fill="#f1c3c7"/><rect x="295.20" y="221.80" width="15.10" height="2.31" fill="#f4dbde"/><rect x="310.00" y="221.80" width="15.10" height="2.31" fill="#e76066"/><rect x="191.60" y="223.81" width="15.10" height="2.31" fill="#bcbdd9"/><rect x="206.40" y="223.81" width="15.10" height="2.31" fill="#b6b8d6"/><rect x="221.20" y="223.81" width="15.10" height="2.31" fill="#bcbdd9"/><rect x="236.00" y="223.81" width="15.10" height="2.31" fill="#bfbfda"/><rect x="250.80" y="223.81" width="15.10" height="2.31" fill="#babbd8"/><rect x="265.60" y="223.81" width="15.10" height="2.31" fill="#c0c1db"/><rect x="280.40" y="223.81" width="15.10" height="2.31" fill="#f1c4c8"/><rect x="295.20" y="223.81" width="15.10" height="2.31" fill="#f3d4d7"/><rect x="310.00" y="223.81" width="15.10" height="2.31" fill="#e54b52"/><rect x="191.60" y="225.82" width="15.10" height="2.31" fill="#bbbcd9"/><rect x="206.40" y="225.82" width="15.10" height="2.31" fill="#bdbeda"/><rect x="221.20" y="225.82" width="15.10" height="2.31" fill="#bdbed9"/><rect x="236.00" y="225.82" width="15.10" height="2.31" fill="#c0c1db"/><rect x="250.80" y="225.82" width="15.10" height="2.31" fill="#bfc0db"/><rect x="265.60" y="225.82" width="15.10" height="2.31" fill="#c3c4dd"/><rect x="280.40" y="225.82" width="15.10" height="2.31" fill="#f2c7ca"/><rect x="295.20" y="225.82" width="15.10" height="2.31" fill="#f2cccf"/><rect x="310.00" y="225.82" width="15.10" height="2.31" fill="#e8646b"/><rect x="191.60" y="227.83" width="15.10" height="2.31" fill="#c4c5dd"/><rect x="206.40" y="227.83" width="15.10" height="2.31" fill="#cacbe0"/><rect x="221.20" y="227.83" width="15.10" height="2.31" fill="#c5c5dd"/><rect x="236.00" y="227.83" width="15.10" height="2.31" fill="#c7c7df"/><rect x="250.80" y="227.83" width="15.10" height="2.31" fill="#c7c7df"/><rect x="265.60" y="227.83" width="15.10" height="2.31" fill="#cccce1"/><rect x="280.40" y="227.83" width="15.10" height="2.31" fill="#f2ccd0"/><rect x="295.20" y="227.83" width="15.10" height="2.31" fill="#f2ced2"/><rect x="310.00" y="227.83" width="15.10" height="2.31" fill="#e8646a"/><rect x="191.60" y="229.84" width="15.10" height="2.31" fill="#c4c4dd"/><rect x="206.40" y="229.84" width="15.10" height="2.31" fill="#bebfda"/><rect x="221.20" y="229.84" width="15.10" height="2.31" fill="#bdbed9"/><rect x="236.00" y="229.84" width="15.10" height="2.31" fill="#babbd8"/><rect x="250.80" y="229.84" width="15.10" height="2.31" fill="#bcbdd9"/><rect x="265.60" y="229.84" width="15.10" height="2.31" fill="#bfc0db"/><rect x="280.40" y="229.84" width="15.10" height="2.31" fill="#f3d7da"/><rect x="295.20" y="229.84" width="15.10" height="2.31" fill="#f2cccf"/><rect x="310.00" y="229.84" width="15.10" height="2.31" fill="#e8676d"/><rect x="191.60" y="231.85" width="15.10" height="2.31" fill="#c9c9e0"/><rect x="206.40" y="231.85" width="15.10" height="2.31" fill="#c6c6de"/><rect x="221.20" y="231.85" width="15.10" height="2.31" fill="#cccce1"/><rect x="236.00" y="231.85" width="15.10" height="2.31" fill="#c9c9df"/><rect x="250.80" y="231.85" width="15.10" height="2.31" fill="#cbcbe1"/><rect x="265.60" y="231.85" width="15.10" height="2.31" fill="#c7c7df"/><rect x="280.40" y="231.85" width="15.10" height="2.31" fill="#e5444b"/><rect x="295.20" y="231.85" width="15.10" height="2.31" fill="#f3d5d8"/><rect x="310.00" y="231.85" width="15.10" height="2.31" fill="#efa8ad"/><rect x="191.60" y="233.86" width="15.10" height="2.31" fill="#d0d0e3"/><rect x="206.40" y="233.86" width="15.10" height="2.31" fill="#cbcbe1"/><rect x="221.20" y="233.86" width="15.10" height="2.31" fill="#cecee2"/><rect x="236.00" y="233.86" width="15.10" height="2.31" fill="#d4d4e5"/><rect x="250.80" y="233.86" width="15.10" height="2.31" fill="#cccce1"/><rect x="265.60" y="233.86" width="15.10" height="2.31" fill="#d1d1e4"/><rect x="280.40" y="233.86" width="15.10" height="2.31" fill="#e75d63"/><rect x="295.20" y="233.86" width="15.10" height="2.31" fill="#f3d3d6"/><rect x="310.00" y="233.86" width="15.10" height="2.31" fill="#f1c3c6"/><rect x="191.60" y="235.86" width="15.10" height="2.31" fill="#d5d5e5"/><rect x="206.40" y="235.86" width="15.10" height="2.31" fill="#cfcfe2"/><rect x="221.20" y="235.86" width="15.10" height="2.31" fill="#cfcfe3"/><rect x="236.00" y="235.86" width="15.10" height="2.31" fill="#cecee2"/><rect x="250.80" y="235.86" width="15.10" height="2.31" fill="#d0d0e3"/><rect x="265.60" y="235.86" width="15.10" height="2.31" fill="#c8c9df"/><rect x="280.40" y="235.86" width="15.10" height="2.31" fill="#e75b61"/><rect x="295.20" y="235.86" width="15.10" height="2.31" fill="#f2cfd2"/><rect x="310.00" y="235.86" width="15.10" height="2.31" fill="#f1c3c7"/><rect x="191.60" y="237.87" width="15.10" height="2.31" fill="#d0d0e3"/><rect x="206.40" y="237.87" width="15.10" height="2.31" fill="#cfcfe2"/><rect x="221.20" y="237.87" width="15.10" height="2.31" fill="#cdcee2"/><rect x="236.00" y="237.87" width="15.10" height="2.31" fill="#d1d1e4"/><rect x="250.80" y="237.87" width="15.10" height="2.31" fill="#d0d0e3"/><rect x="265.60" y="237.87" width="15.10" height="2.31" fill="#cacbe0"/><rect x="280.40" y="237.87" width="15.10" height="2.31" fill="#e8646a"/><rect x="295.20" y="237.87" width="15.10" height="2.31" fill="#f3d4d7"/><rect x="310.00" y="237.87" width="15.10" height="2.31" fill="#f1c0c4"/><rect x="191.60" y="239.88" width="15.10" height="2.31" fill="#c3c3dc"/><rect x="206.40" y="239.88" width="15.10" height="2.31" fill="#c8c9df"/><rect x="221.20" y="239.88" width="15.10" height="2.31" fill="#c3c4dd"/><rect x="236.00" y="239.88" width="15.10" height="2.31" fill="#bfc0db"/><rect x="250.80" y="239.88" width="15.10" height="2.31" fill="#c1c2dc"/><rect x="265.60" y="239.88" width="15.10" height="2.31" fill="#c6c7de"/><rect x="280.40" y="239.88" width="15.10" height="2.31" fill="#e86369"/><rect x="295.20" y="239.88" width="15.10" height="2.31" fill="#f5ebee"/><rect x="310.00" y="239.88" width="15.10" height="2.31" fill="#f2c7ca"/><rect x="191.60" y="241.89" width="15.10" height="2.31" fill="#cacae0"/><rect x="206.40" y="241.89" width="15.10" height="2.31" fill="#cccce1"/><rect x="221.20" y="241.89" width="15.10" height="2.31" fill="#c2c3dc"/><rect x="236.00" y="241.89" width="15.10" height="2.31" fill="#c8c8df"/><rect x="250.80" y="241.89" width="15.10" height="2.31" fill="#c9c9e0"/><rect x="265.60" y="241.89" width="15.10" height="2.31" fill="#cbcbe1"/><rect x="280.40" y="241.89" width="15.10" height="2.31" fill="#e65259"/><rect x="295.20" y="241.89" width="15.10" height="2.31" fill="#f4dde0"/><rect x="310.00" y="241.89" width="15.10" height="2.31" fill="#f2cfd2"/></g><path d="M199.0,34.5 V30.5 H213.8 V34.5 M206.4,30.5 V28.2 H228.6 V34.5 M243.4,34.5 V29.5 H258.2 V34.5 M217.5,28.2 V26.3 H250.8 V29.5 M234.2,26.3 V25.2 H273.0 V34.5 M287.8,34.5 V26.2 H302.6 V34.5 M295.2,26.2 V25.8 H317.4 V34.5 M253.6,25.2 V16.5 H306.3 V25.8 " stroke="#3a3a3a" stroke-width="0.6" fill="none"/><path d="M191.8,247.4 H278.8 M281.9,247.4 H325" stroke="#231f20" stroke-width="0.9"/><text x="235.7" y="258.4" font-size="8.6" fill="#2a2a2a" text-anchor="middle" textLength="67.7" lengthAdjust="spacingAndGlyphs">MYCN-driven TCL</text><text x="303.4" y="258.4" font-size="8.6" fill="#2a2a2a" text-anchor="middle" textLength="41.2" lengthAdjust="spacingAndGlyphs">CD4 T cells</text><text transform="translate(329.6,113.3) rotate(90)" x="0" y="0" font-size="9.6" fill="#2a2a2a" text-anchor="middle" textLength="128.4" lengthAdjust="spacingAndGlyphs">Top differentially expressed genes</text><defs><linearGradient id="hmcb" x1="0" y1="0" x2="0" y2="1"><stop offset="0" stop-color="#e2282f"/><stop offset="0.5" stop-color="#f6f4f6"/><stop offset="0.75" stop-color="#959acb"/><stop offset="1" stop-color="#1e2878"/></linearGradient></defs><rect x="331.6" y="187.6" width="8.2" height="43" fill="url(#hmcb)"/><text x="344.5" y="194.5" font-size="8.2" fill="#2a2a2a">2</text><text x="344.5" y="212.5" font-size="8.2" fill="#2a2a2a">0</text><text x="343" y="229" font-size="8.2" fill="#2a2a2a">-2</text><text x="367.2" y="9.4" font-size="11.2" fill="#000" font-weight="bold">B</text><path d="M381.2,14 V121.2 H488.5" stroke="#231f20" stroke-width="1.0" fill="none"/><path d="M378.2,16.4 H381.2" stroke="#231f20" stroke-width="0.8"/><path d="M381.2,121.2 v2.6" stroke="#231f20" stroke-width="0.8"/><text x="381.25" y="135" font-size="8.2" fill="#333" text-anchor="middle">1.0</text><path d="M407.9,121.2 v2.6" stroke="#231f20" stroke-width="0.8"/><text x="407.95" y="135" font-size="8.2" fill="#333" text-anchor="middle">1.5</text><path d="M434.6,121.2 v2.6" stroke="#231f20" stroke-width="0.8"/><text x="434.65" y="135" font-size="8.2" fill="#333" text-anchor="middle">2.0</text><path d="M461.4,121.2 v2.6" stroke="#231f20" stroke-width="0.8"/><text x="461.35" y="135" font-size="8.2" fill="#333" text-anchor="middle">2.5</text><path d="M488.1,121.2 v2.6" stroke="#231f20" stroke-width="0.8"/><text x="488.05" y="135" font-size="8.2" fill="#333" text-anchor="middle">3.0</text><text x="439.4" y="148.3" font-size="10.2" fill="#333" text-anchor="middle" textLength="101" lengthAdjust="spacingAndGlyphs" stroke="#2a2a2a" stroke-width="0.3">Normalized enrichment score</text><text x="387" y="24.2" font-size="8.0" fill="#333" textLength="25" lengthAdjust="spacingAndGlyphs">p-value</text><defs><linearGradient id="pcb" x1="0" y1="0" x2="0" y2="1"><stop offset="0" stop-color="#b8202e"/><stop offset="0.22" stop-color="#e07a7e"/><stop offset="0.48" stop-color="#f8f4f4"/><stop offset="0.75" stop-color="#8c9fcc"/><stop offset="1" stop-color="#2c4c92"/></linearGradient></defs><rect x="387" y="28.5" width="6.6" height="43.8" fill="url(#pcb)"/><path d="M387,44.3 h1.8 M391.8,44.3 h1.8 M387,55.7 h1.8 M391.8,55.7 h1.8" stroke="#fff" stroke-width="0.6"/><text x="395.8" y="36.8" font-size="8.1" fill="#333" textLength="15.7" lengthAdjust="spacingAndGlyphs">0.04</text><text x="395.8" y="48.099999999999994" font-size="8.1" fill="#333" textLength="15.7" lengthAdjust="spacingAndGlyphs">0.03</text><text x="395.8" y="59.4" font-size="8.1" fill="#333" textLength="15.7" lengthAdjust="spacingAndGlyphs">0.02</text><text x="395.8" y="70.7" font-size="8.1" fill="#333" textLength="15.7" lengthAdjust="spacingAndGlyphs">0.01</text><circle cx="444.2" cy="31.5" r="3.3" fill="#3e5590"/><text x="451.09999999999997" y="34.5" font-size="8.4" fill="#333" textLength="39.5" lengthAdjust="spacingAndGlyphs">E2F targets</text><circle cx="440.2" cy="46.3" r="3.3" fill="#3e5590"/><text x="447.09999999999997" y="49.3" font-size="8.4" fill="#333" textLength="57.3" lengthAdjust="spacingAndGlyphs">G2M checkpoint</text><circle cx="439.2" cy="61.3" r="3.3" fill="#40568f"/><text x="446.09999999999997" y="64.3" font-size="8.4" fill="#333" textLength="54" lengthAdjust="spacingAndGlyphs">MYC targets V1</text><circle cx="427.7" cy="76.3" r="3.3" fill="#8d9bc0"/><text x="434.59999999999997" y="79.3" font-size="8.4" fill="#333" textLength="64.8" lengthAdjust="spacingAndGlyphs">mTORC1 signaling</text><circle cx="421.2" cy="91.7" r="3.3" fill="#d46f5e"/><text x="428.09999999999997" y="94.7" font-size="8.4" fill="#333" textLength="33.6" lengthAdjust="spacingAndGlyphs">Glycolysis</text><circle cx="421.2" cy="106.5" r="3.3" fill="#e4aaa2"/><text x="428.09999999999997" y="109.5" font-size="8.4" fill="#333" textLength="54.8" lengthAdjust="spacingAndGlyphs">MYC targets V2</text><text x="366.6" y="169.1" font-size="11.8" fill="#000" font-weight="bold">C</text><text x="401.5" y="171.5" font-size="8.4" fill="#2a2a2a" textLength="119" lengthAdjust="spacingAndGlyphs">Wong embryonic stem cell core</text><defs><linearGradient id="bg404177" x1="0" y1="0" x2="1" y2="0"><stop offset="0" stop-color="#000" stop-opacity="1"/><stop offset="0.08" stop-color="#000" stop-opacity="1"/><stop offset="0.2" stop-color="#333" stop-opacity="0.5"/><stop offset="0.3" stop-color="#888" stop-opacity="0.0"/><stop offset="1" stop-color="#fff" stop-opacity="0"/></linearGradient></defs><rect x="404.4" y="223.3" width="107.4" height="18.0" fill="url(#bg404177)"/><path d="M408.47,223.3 V241.3 M415.23,223.3 V241.3 M410.98,223.3 V241.3 M417.08,223.3 V241.3 M417.83,223.3 V241.3 M405.79,223.3 V241.3 M405.07,223.3 V241.3 M428.80,223.3 V241.3 M408.85,223.3 V241.3 M408.41,223.3 V241.3 M476.40,223.3 V241.3 M413.26,223.3 V241.3 M428.71,223.3 V241.3 M413.41,223.3 V241.3 M418.30,223.3 V241.3 M407.05,223.3 V241.3 M418.15,223.3 V241.3 M431.54,223.3 V241.3 M414.64,223.3 V241.3 M422.68,223.3 V241.3 M419.54,223.3 V241.3 M405.77,223.3 V241.3 M423.57,223.3 V241.3 M416.66,223.3 V241.3 M409.61,223.3 V241.3 M405.31,223.3 V241.3 M431.29,223.3 V241.3 M413.32,223.3 V241.3 M421.59,223.3 V241.3 M432.66,223.3 V241.3 M421.37,223.3 V241.3 M438.30,223.3 V241.3 M411.51,223.3 V241.3 M426.13,223.3 V241.3 M412.63,223.3 V241.3 M440.97,223.3 V241.3 M432.66,223.3 V241.3 M406.25,223.3 V241.3 M406.82,223.3 V241.3 M408.12,223.3 V241.3 M449.17,223.3 V241.3 M412.44,223.3 V241.3 M417.86,223.3 V241.3 M409.61,223.3 V241.3 M414.21,223.3 V241.3 M411.31,223.3 V241.3 M410.58,223.3 V241.3 M416.47,223.3 V241.3 M416.44,223.3 V241.3 M435.75,223.3 V241.3 M419.97,223.3 V241.3 M439.68,223.3 V241.3 M430.42,223.3 V241.3 M466.84,223.3 V241.3 M419.53,223.3 V241.3 M407.24,223.3 V241.3 M430.82,223.3 V241.3 M448.85,223.3 V241.3 M435.82,223.3 V241.3 M415.97,223.3 V241.3 M421.35,223.3 V241.3 M408.02,223.3 V241.3 M428.33,223.3 V241.3 M416.11,223.3 V241.3 M409.31,223.3 V241.3 M405.76,223.3 V241.3 M430.20,223.3 V241.3 M465.21,223.3 V241.3 M406.12,223.3 V241.3 M426.11,223.3 V241.3 M411.85,223.3 V241.3 M407.05,223.3 V241.3 M409.48,223.3 V241.3 M424.16,223.3 V241.3 M432.02,223.3 V241.3 M405.49,223.3 V241.3 M417.44,223.3 V241.3 M405.50,223.3 V241.3 M421.57,223.3 V241.3 M410.19,223.3 V241.3 M432.89,223.3 V241.3 M456.78,223.3 V241.3 M414.16,223.3 V241.3 M490.50,223.3 V241.3 M409.77,223.3 V241.3 M405.95,223.3 V241.3 M416.94,223.3 V241.3 M405.32,223.3 V241.3 M407.79,223.3 V241.3 M411.79,223.3 V241.3 M417.30,223.3 V241.3 M407.13,223.3 V241.3 M405.47,223.3 V241.3 M431.51,223.3 V241.3 M409.85,223.3 V241.3 M446.80,223.3 V241.3 M434.75,223.3 V241.3 M411.14,223.3 V241.3 M413.01,223.3 V241.3 M414.56,223.3 V241.3 M418.48,223.3 V241.3 M416.81,223.3 V241.3 M415.68,223.3 V241.3 M417.63,223.3 V241.3 M442.04,223.3 V241.3 M414.20,223.3 V241.3 M412.32,223.3 V241.3 M421.66,223.3 V241.3 M408.47,223.3 V241.3 M409.61,223.3 V241.3 M454.98,223.3 V241.3 M414.58,223.3 V241.3 M415.36,223.3 V241.3 M405.05,223.3 V241.3 M411.96,223.3 V241.3 M416.31,223.3 V241.3 M405.17,223.3 V241.3 M417.48,223.3 V241.3 M418.05,223.3 V241.3 M405.71,223.3 V241.3 M417.88,223.3 V241.3 M413.16,223.3 V241.3 M419.86,223.3 V241.3 M410.62,223.3 V241.3 M421.04,223.3 V241.3 M422.52,223.3 V241.3 M405.20,223.3 V241.3 M405.72,223.3 V241.3 M419.72,223.3 V241.3 M448.37,223.3 V241.3 M408.70,223.3 V241.3 M412.91,223.3 V241.3 M416.71,223.3 V241.3 M409.97,223.3 V241.3 M410.85,223.3 V241.3 M409.83,223.3 V241.3 M410.96,223.3 V241.3 M416.81,223.3 V241.3 M409.60,223.3 V241.3 M411.13,223.3 V241.3 M424.36,223.3 V241.3 M405.26,223.3 V241.3 M415.98,223.3 V241.3 M422.37,223.3 V241.3 M409.78,223.3 V241.3 M408.21,223.3 V241.3 M426.32,223.3 V241.3 M408.49,223.3 V241.3 M407.63,223.3 V241.3 M412.41,223.3 V241.3 M481.41,223.3 V241.3 M416.06,223.3 V241.3 M440.19,223.3 V241.3 M441.48,223.3 V241.3 M496.26,223.3 V241.3 M452.95,223.3 V241.3 M498.67,223.3 V241.3 M423.45,223.3 V241.3 M441.80,223.3 V241.3 M476.17,223.3 V241.3 M501.88,223.3 V241.3 M454.34,223.3 V241.3 M429.56,223.3 V241.3 M418.15,223.3 V241.3 M462.95,223.3 V241.3 M425.81,223.3 V241.3 M493.32,223.3 V241.3 M496.80,223.3 V241.3 M425.02,223.3 V241.3 M435.43,223.3 V241.3 M493.37,223.3 V241.3 M475.26,223.3 V241.3 M493.27,223.3 V241.3 M442.74,223.3 V241.3 M419.11,223.3 V241.3 M436.90,223.3 V241.3 M491.91,223.3 V241.3 M434.62,223.3 V241.3 M442.86,223.3 V241.3 M450.59,223.3 V241.3 M450.91,223.3 V241.3 M449.78,223.3 V241.3 M505.80,223.3 V241.3 M422.00,223.3 V241.3 M405.41,223.3 V241.3 M508.28,223.3 V241.3 M501.35,223.3 V241.3 M513.07,223.3 V241.3 M452.51,223.3 V241.3 M509.04,223.3 V241.3 " stroke="#111" stroke-width="0.45" stroke-opacity="0.9"/><rect x="404.4" y="177" width="110.60000000000002" height="46.30000000000001" fill="none" stroke="#231f20" stroke-width="0.8"/><defs><linearGradient id="g404177" x1="0" y1="0" x2="1" y2="0"><stop offset="0" stop-color="#b01c30"/><stop offset="0.11" stop-color="#d0304a"/><stop offset="0.28" stop-color="#e890b0"/><stop offset="0.66" stop-color="#f0c8dc"/><stop offset="0.7" stop-color="#e4d8ee"/><stop offset="0.9" stop-color="#c8c8e8"/><stop offset="0.91" stop-color="#4848a8"/><stop offset="1" stop-color="#3a3aa0"/></linearGradient></defs><rect x="404.9" y="241.5" width="107.4" height="3.1999999999999886" fill="url(#g404177)"/><path d="M404.4,177 V249.5 H515" stroke="#231f20" stroke-width="1.0" fill="none"/><path d="M401.4,181.1 H404.4" stroke="#231f20" stroke-width="0.8"/><text x="397.59999999999997" y="184.1" font-size="8.6" fill="#333" text-anchor="end" textLength="11" lengthAdjust="spacingAndGlyphs">0.8</text><path d="M401.4,196.6 H404.4" stroke="#231f20" stroke-width="0.8"/><text x="397.59999999999997" y="199.6" font-size="8.6" fill="#333" text-anchor="end" textLength="11" lengthAdjust="spacingAndGlyphs">0.5</text><path d="M401.4,222.7 H404.4" stroke="#231f20" stroke-width="0.8"/><text x="397.59999999999997" y="225.7" font-size="8.6" fill="#333" text-anchor="end">0</text><path d="M404.6,249.5 v2" stroke="#231f20" stroke-width="0.7"/><text x="404.6" y="261.6" font-size="9.4" fill="#2a2a2a" text-anchor="middle">0</text><path d="M451.4,249.5 v2" stroke="#231f20" stroke-width="0.7"/><text x="451.4" y="261.6" font-size="9.4" fill="#2a2a2a" text-anchor="middle" textLength="20.2" lengthAdjust="spacingAndGlyphs">10000</text><path d="M497.5,249.5 v2" stroke="#231f20" stroke-width="0.7"/><text x="497.5" y="261.6" font-size="9.4" fill="#2a2a2a" text-anchor="middle" textLength="20.2" lengthAdjust="spacingAndGlyphs">20000</text><path d="M404.40,222.70 L405.29,213.99 L406.17,206.35 L407.06,199.73 L407.94,194.09 L408.83,189.39 L409.71,185.57 L410.60,182.58 L411.48,180.36 L412.37,178.83 L413.25,177.92 L414.14,177.52 L415.02,177.57 L415.91,177.99 L416.79,178.41 L417.68,178.82 L418.57,179.24 L419.45,179.66 L420.34,180.08 L421.22,180.50 L422.11,180.91 L422.99,181.33 L423.88,181.75 L424.76,182.17 L425.65,182.59 L426.53,183.00 L427.42,183.42 L428.30,183.84 L429.19,184.26 L430.07,184.68 L430.96,185.09 L431.85,185.51 L432.73,185.93 L433.62,186.35 L434.50,186.76 L435.39,187.18 L436.27,187.60 L437.16,188.02 L438.04,188.44 L438.93,188.85 L439.81,189.27 L440.70,189.69 L441.58,190.11 L442.47,190.52 L443.35,190.94 L444.24,191.36 L445.12,191.78 L446.01,192.20 L446.90,192.61 L447.78,193.03 L448.67,193.45 L449.55,193.87 L450.44,194.29 L451.32,194.70 L452.21,195.12 L453.09,195.54 L453.98,195.96 L454.86,196.38 L455.75,196.79 L456.63,197.21 L457.52,197.63 L458.40,198.05 L459.29,198.46 L460.18,198.88 L461.06,199.30 L461.95,199.72 L462.83,200.14 L463.72,200.55 L464.60,200.97 L465.49,201.39 L466.37,201.81 L467.26,202.22 L468.14,202.64 L469.03,203.06 L469.91,203.48 L470.80,203.90 L471.68,204.31 L472.57,204.73 L473.46,205.15 L474.34,205.57 L475.23,205.99 L476.11,206.40 L477.00,206.82 L477.88,207.24 L478.77,207.66 L479.65,208.07 L480.54,208.49 L481.42,208.91 L482.31,209.33 L483.19,209.75 L484.08,210.16 L484.96,210.58 L485.85,211.00 L486.74,211.42 L487.62,211.84 L488.51,212.25 L489.39,212.67 L490.28,213.09 L491.16,213.51 L492.05,213.92 L492.93,214.34 L493.82,214.76 L494.70,215.18 L495.59,215.60 L496.47,216.01 L497.36,216.43 L498.24,216.85 L499.13,217.27 L500.02,217.69 L500.90,218.10 L501.79,218.52 L502.67,218.94 L503.56,219.36 L504.44,219.77 L505.33,220.19 L506.21,220.61 L507.10,221.03 L507.98,221.45 L508.87,221.86 L509.75,222.28 L510.64,222.70" stroke="#8cc63f" stroke-width="1.2" fill="none"/><text x="410.8" y="201.5" font-size="8.8" fill="#2a2a2a" textLength="40" lengthAdjust="spacingAndGlyphs">NES = 2.22</text><text x="410.8" y="210.8" font-size="8.8" fill="#2a2a2a" textLength="38" lengthAdjust="spacingAndGlyphs">p &lt; 0.0001</text><text x="410.8" y="220" font-size="8.8" fill="#2a2a2a" textLength="38" lengthAdjust="spacingAndGlyphs">q &lt; 0.0001</text><text x="459.4" y="276.6" font-size="11.0" fill="#2a2a2a" text-anchor="middle" textLength="83.6" lengthAdjust="spacingAndGlyphs" stroke="#2a2a2a" stroke-width="0.3">Rank in ordered dataset</text><text transform="translate(381.5,204.6) rotate(-90)" x="0" y="0" font-size="10.4" fill="#2a2a2a" text-anchor="middle" textLength="58" lengthAdjust="spacingAndGlyphs" stroke="#2a2a2a" stroke-width="0.3">Enrichment score</text><text x="0.2" y="297.4" font-size="11.8" fill="#000" font-weight="bold">D</text><text x="44" y="300" font-size="8.6" fill="#333" text-anchor="middle">MYCN</text><text x="100" y="300" font-size="8.6" fill="#333" text-anchor="middle">H3K4me3</text><text x="154.3" y="300" font-size="8.6" fill="#333" text-anchor="middle">H3K27ac</text><text x="206" y="300" font-size="8.6" fill="#333" text-anchor="middle">H3K27me3</text><rect x="18.2" y="305" width="51.39999999999999" height="145.8" fill="#27328a"/><g shape-rendering="crispEdges"><rect x="18.2" y="305.0" width="51.39999999999999" height="1.2" fill="#2f3d9c" opacity="0.31"/><rect x="18.2" y="307.4" width="51.39999999999999" height="1.0" fill="#1c2268" opacity="0.25"/><rect x="18.2" y="313.9" width="51.39999999999999" height="0.8" fill="#1c2268" opacity="0.21"/><rect x="18.2" y="316.9" width="51.39999999999999" height="1.5" fill="#2f3d9c" opacity="0.17"/><rect x="18.2" y="318.4" width="51.39999999999999" height="0.8" fill="#1c2268" opacity="0.24"/><rect x="18.2" y="320.2" width="51.39999999999999" height="1.2" fill="#1c2268" opacity="0.20"/><rect x="18.2" y="321.4" width="51.39999999999999" height="1.2" fill="#1c2268" opacity="0.21"/><rect x="18.2" y="322.6" width="51.39999999999999" height="0.8" fill="#1c2268" opacity="0.27"/><rect x="18.2" y="323.4" width="51.39999999999999" height="1.5" fill="#2f3d9c" opacity="0.30"/><rect x="18.2" y="324.9" width="51.39999999999999" height="1.2" fill="#1c2268" opacity="0.22"/><rect x="18.2" y="328.3" width="51.39999999999999" height="1.5" fill="#2f3d9c" opacity="0.20"/><rect x="18.2" y="331.0" width="51.39999999999999" height="0.8" fill="#1c2268" opacity="0.25"/><rect x="18.2" y="331.8" width="51.39999999999999" height="1.5" fill="#1c2268" opacity="0.41"/><rect x="18.2" y="335.7" width="51.39999999999999" height="0.8" fill="#2f3d9c" opacity="0.24"/><rect x="18.2" y="337.5" width="51.39999999999999" height="0.8" fill="#1c2268" opacity="0.36"/><rect x="18.2" y="341.0" width="51.39999999999999" height="1.2" fill="#2f3d9c" opacity="0.29"/><rect x="18.2" y="343.7" width="51.39999999999999" height="1.5" fill="#1c2268" opacity="0.41"/><rect x="18.2" y="345.2" width="51.39999999999999" height="1.0" fill="#2f3d9c" opacity="0.28"/><rect x="18.2" y="347.4" width="51.39999999999999" height="0.8" fill="#2f3d9c" opacity="0.16"/><rect x="18.2" y="348.2" width="51.39999999999999" height="1.0" fill="#1c2268" opacity="0.41"/><rect x="18.2" y="351.4" width="51.39999999999999" height="0.8" fill="#1c2268" opacity="0.23"/><rect x="18.2" y="352.2" width="51.39999999999999" height="1.2" fill="#1c2268" opacity="0.38"/><rect x="18.2" y="355.4" width="51.39999999999999" height="1.5" fill="#1c2268" opacity="0.37"/><rect x="18.2" y="356.9" width="51.39999999999999" height="1.2" fill="#2f3d9c" opacity="0.27"/><rect x="18.2" y="360.4" width="51.39999999999999" height="1.2" fill="#2f3d9c" opacity="0.25"/><rect x="18.2" y="361.6" width="51.39999999999999" height="1.5" fill="#2f3d9c" opacity="0.24"/><rect x="18.2" y="363.1" width="51.39999999999999" height="1.5" fill="#2f3d9c" opacity="0.27"/><rect x="18.2" y="364.6" width="51.39999999999999" height="1.0" fill="#1c2268" opacity="0.22"/><rect x="18.2" y="365.6" width="51.39999999999999" height="1.5" fill="#1c2268" opacity="0.36"/><rect x="18.2" y="367.1" width="51.39999999999999" height="1.0" fill="#1c2268" opacity="0.31"/><rect x="18.2" y="368.1" width="51.39999999999999" height="0.8" fill="#2f3d9c" opacity="0.15"/><rect x="18.2" y="368.9" width="51.39999999999999" height="1.0" fill="#1c2268" opacity="0.39"/><rect x="18.2" y="370.7" width="51.39999999999999" height="1.5" fill="#2f3d9c" opacity="0.16"/><rect x="18.2" y="379.6" width="51.39999999999999" height="1.5" fill="#1c2268" opacity="0.22"/><rect x="18.2" y="381.1" width="51.39999999999999" height="1.2" fill="#2f3d9c" opacity="0.26"/><rect x="18.2" y="384.3" width="51.39999999999999" height="1.0" fill="#1c2268" opacity="0.31"/><rect x="18.2" y="385.3" width="51.39999999999999" height="1.2" fill="#1c2268" opacity="0.38"/><rect x="18.2" y="392.2" width="51.39999999999999" height="0.8" fill="#2f3d9c" opacity="0.34"/><rect x="18.2" y="393.0" width="51.39999999999999" height="1.2" fill="#2f3d9c" opacity="0.25"/><rect x="18.2" y="395.7" width="51.39999999999999" height="1.2" fill="#1c2268" opacity="0.39"/><rect x="18.2" y="396.9" width="51.39999999999999" height="1.0" fill="#1c2268" opacity="0.35"/><rect x="18.2" y="398.7" width="51.39999999999999" height="1.0" fill="#2f3d9c" opacity="0.20"/><rect x="18.2" y="403.0" width="51.39999999999999" height="1.0" fill="#1c2268" opacity="0.35"/><rect x="18.2" y="404.0" width="51.39999999999999" height="0.8" fill="#1c2268" opacity="0.32"/><rect x="18.2" y="405.8" width="51.39999999999999" height="1.5" fill="#1c2268" opacity="0.25"/><rect x="18.2" y="408.1" width="51.39999999999999" height="1.5" fill="#1c2268" opacity="0.35"/><rect x="18.2" y="413.6" width="51.39999999999999" height="0.8" fill="#1c2268" opacity="0.36"/><rect x="18.2" y="416.4" width="51.39999999999999" height="1.2" fill="#1c2268" opacity="0.34"/><rect x="18.2" y="420.3" width="51.39999999999999" height="1.5" fill="#1c2268" opacity="0.21"/><rect x="18.2" y="421.8" width="51.39999999999999" height="1.0" fill="#1c2268" opacity="0.27"/><rect x="18.2" y="426.4" width="51.39999999999999" height="1.0" fill="#1c2268" opacity="0.37"/><rect x="18.2" y="427.4" width="51.39999999999999" height="1.2" fill="#1c2268" opacity="0.26"/><rect x="18.2" y="431.0" width="51.39999999999999" height="0.8" fill="#2f3d9c" opacity="0.26"/><rect x="18.2" y="431.8" width="51.39999999999999" height="1.0" fill="#2f3d9c" opacity="0.34"/><rect x="18.2" y="433.6" width="51.39999999999999" height="1.0" fill="#2f3d9c" opacity="0.16"/><rect x="18.2" y="437.6" width="51.39999999999999" height="0.8" fill="#2f3d9c" opacity="0.24"/><rect x="18.2" y="439.9" width="51.39999999999999" height="0.8" fill="#2f3d9c" opacity="0.31"/><rect x="18.2" y="440.7" width="51.39999999999999" height="0.8" fill="#1c2268" opacity="0.45"/><rect x="18.2" y="441.5" width="51.39999999999999" height="0.8" fill="#1c2268" opacity="0.20"/><rect x="18.2" y="442.3" width="51.39999999999999" height="0.8" fill="#1c2268" opacity="0.37"/><rect x="18.2" y="444.1" width="51.39999999999999" height="1.2" fill="#1c2268" opacity="0.23"/><rect x="18.2" y="446.1" width="51.39999999999999" height="1.0" fill="#1c2268" opacity="0.31"/><rect x="18.2" y="447.1" width="51.39999999999999" height="1.0" fill="#1c2268" opacity="0.36"/></g><rect x="38.80" y="305" width="10" height="145.8" fill="#3a52b8" opacity="0.45"/><rect x="40.47" y="305.00" width="6.27" height="1.05" fill="#8e9ee0" opacity="0.55"/><rect x="41.67" y="305.00" width="3.87" height="1.05" fill="#e45052"/><rect x="42.83" y="305.00" width="1.55" height="1.05" fill="#f8d8dc" opacity="0.6"/><rect x="40.76" y="306.01" width="6.11" height="1.05" fill="#8e9ee0" opacity="0.55"/><rect x="41.96" y="306.01" width="3.71" height="1.05" fill="#e45153"/><rect x="43.07" y="306.01" width="1.48" height="1.05" fill="#f8d8dc" opacity="0.6"/><rect x="41.12" y="307.01" width="5.83" height="1.05" fill="#8e9ee0" opacity="0.55"/><rect x="42.32" y="307.01" width="3.43" height="1.05" fill="#e45254"/><rect x="43.35" y="307.01" width="1.37" height="1.05" fill="#f8d8dc" opacity="0.6"/><rect x="41.12" y="308.02" width="5.91" height="1.05" fill="#8e9ee0" opacity="0.55"/><rect x="42.32" y="308.02" width="3.51" height="1.05" fill="#e45355"/><rect x="43.37" y="308.02" width="1.41" height="1.05" fill="#f8d8dc" opacity="0.6"/><rect x="40.67" y="309.02" width="6.24" height="1.05" fill="#8e9ee0" opacity="0.55"/><rect x="41.87" y="309.02" width="3.84" height="1.05" fill="#e45456"/><rect x="43.03" y="309.02" width="1.54" height="1.05" fill="#f8d8dc" opacity="0.6"/><rect x="41.33" y="310.03" width="5.48" height="1.05" fill="#8e9ee0" opacity="0.55"/><rect x="42.53" y="310.03" width="3.08" height="1.05" fill="#e45557"/><rect x="43.45" y="310.03" width="1.23" height="1.05" fill="#f8d8dc" opacity="0.6"/><rect x="40.32" y="311.03" width="6.40" height="1.05" fill="#8e9ee0" opacity="0.55"/><rect x="41.52" y="311.03" width="4.00" height="1.05" fill="#e55558"/><rect x="42.72" y="311.03" width="1.60" height="1.05" fill="#f8d8dc" opacity="0.6"/><rect x="40.34" y="312.04" width="6.37" height="1.05" fill="#8e9ee0" opacity="0.55"/><rect x="41.54" y="312.04" width="3.97" height="1.05" fill="#e55659"/><rect x="42.73" y="312.04" width="1.59" height="1.05" fill="#f8d8dc" opacity="0.6"/><rect x="41.05" y="313.04" width="6.09" height="1.05" fill="#8e9ee0" opacity="0.55"/><rect x="42.25" y="313.04" width="3.69" height="1.05" fill="#e5575a"/><rect x="43.36" y="313.04" width="1.48" height="1.05" fill="#f8d8dc" opacity="0.6"/><rect x="40.40" y="314.05" width="6.42" height="1.05" fill="#8e9ee0" opacity="0.55"/><rect x="41.60" y="314.05" width="4.02" height="1.05" fill="#e5585b"/><rect x="42.80" y="314.05" width="1.61" height="1.05" fill="#f8d8dc" opacity="0.6"/><rect x="40.59" y="315.06" width="6.29" height="1.05" fill="#8e9ee0" opacity="0.55"/><rect x="41.79" y="315.06" width="3.89" height="1.05" fill="#e5595c"/><rect x="42.96" y="315.06" width="1.56" height="1.05" fill="#f8d8dc" opacity="0.6"/><rect x="41.09" y="316.06" width="5.96" height="1.05" fill="#8e9ee0" opacity="0.55"/><rect x="42.29" y="316.06" width="3.56" height="1.05" fill="#e55a5d"/><rect x="43.36" y="316.06" width="1.43" height="1.05" fill="#f8d8dc" opacity="0.6"/><rect x="40.66" y="317.07" width="6.19" height="1.05" fill="#8e9ee0" opacity="0.55"/><rect x="41.86" y="317.07" width="3.79" height="1.05" fill="#e55b5e"/><rect x="43.00" y="317.07" width="1.51" height="1.05" fill="#f8d8dc" opacity="0.6"/><rect x="40.72" y="318.07" width="6.06" height="1.05" fill="#8e9ee0" opacity="0.55"/><rect x="41.92" y="318.07" width="3.66" height="1.05" fill="#e55c5f"/><rect x="43.01" y="318.07" width="1.46" height="1.05" fill="#f8d8dc" opacity="0.6"/><rect x="41.25" y="319.08" width="5.51" height="1.05" fill="#8e9ee0" opacity="0.55"/><rect x="42.45" y="319.08" width="3.11" height="1.05" fill="#e55d60"/><rect x="43.38" y="319.08" width="1.24" height="1.05" fill="#f8d8dc" opacity="0.6"/><rect x="40.85" y="320.08" width="5.84" height="1.05" fill="#8e9ee0" opacity="0.55"/><rect x="42.05" y="320.08" width="3.44" height="1.05" fill="#e55e61"/><rect x="43.08" y="320.08" width="1.37" height="1.05" fill="#f8d8dc" opacity="0.6"/><rect x="40.65" y="321.09" width="5.73" height="1.05" fill="#8e9ee0" opacity="0.55"/><rect x="41.85" y="321.09" width="3.33" height="1.05" fill="#e65f62"/><rect x="42.85" y="321.09" width="1.33" height="1.05" fill="#f8d8dc" opacity="0.6"/><rect x="40.59" y="322.09" width="6.20" height="1.05" fill="#8e9ee0" opacity="0.55"/><rect x="41.79" y="322.09" width="3.80" height="1.05" fill="#e65f63"/><rect x="42.93" y="322.09" width="1.52" height="1.05" fill="#f8d8dc" opacity="0.6"/><rect x="40.65" y="323.10" width="5.98" height="1.05" fill="#8e9ee0" opacity="0.55"/><rect x="41.85" y="323.10" width="3.58" height="1.05" fill="#e66064"/><rect x="42.92" y="323.10" width="1.43" height="1.05" fill="#f8d8dc" opacity="0.6"/><rect x="40.44" y="324.10" width="6.22" height="1.05" fill="#8e9ee0" opacity="0.55"/><rect x="41.64" y="324.10" width="3.82" height="1.05" fill="#e66165"/><rect x="42.78" y="324.10" width="1.53" height="1.05" fill="#f8d8dc" opacity="0.6"/><rect x="40.86" y="325.11" width="5.34" height="1.05" fill="#8e9ee0" opacity="0.55"/><rect x="42.06" y="325.11" width="2.94" height="1.05" fill="#e66266"/><rect x="42.95" y="325.11" width="1.18" height="1.05" fill="#f8d8dc" opacity="0.6"/><rect x="40.77" y="326.12" width="5.49" height="1.05" fill="#8e9ee0" opacity="0.55"/><rect x="41.97" y="326.12" width="3.09" height="1.05" fill="#e66367"/><rect x="42.90" y="326.12" width="1.23" height="1.05" fill="#f8d8dc" opacity="0.6"/><rect x="41.19" y="327.12" width="5.78" height="1.05" fill="#8e9ee0" opacity="0.55"/><rect x="42.39" y="327.12" width="3.38" height="1.05" fill="#e66468"/><rect x="43.40" y="327.12" width="1.35" height="1.05" fill="#f8d8dc" opacity="0.6"/><rect x="40.76" y="328.13" width="6.21" height="1.05" fill="#8e9ee0" opacity="0.55"/><rect x="41.96" y="328.13" width="3.81" height="1.05" fill="#e66569"/><rect x="43.10" y="328.13" width="1.52" height="1.05" fill="#f8d8dc" opacity="0.6"/><rect x="40.95" y="329.13" width="5.75" height="1.05" fill="#8e9ee0" opacity="0.55"/><rect x="42.15" y="329.13" width="3.35" height="1.05" fill="#e6666a"/><rect x="43.15" y="329.13" width="1.34" height="1.05" fill="#f8d8dc" opacity="0.6"/><rect x="40.47" y="330.14" width="6.15" height="1.05" fill="#8e9ee0" opacity="0.55"/><rect x="41.67" y="330.14" width="3.75" height="1.05" fill="#e6676b"/><rect x="42.79" y="330.14" width="1.50" height="1.05" fill="#f8d8dc" opacity="0.6"/><rect x="41.04" y="331.14" width="5.82" height="1.05" fill="#8e9ee0" opacity="0.55"/><rect x="42.24" y="331.14" width="3.42" height="1.05" fill="#e7686c"/><rect x="43.26" y="331.14" width="1.37" height="1.05" fill="#f8d8dc" opacity="0.6"/><rect x="40.97" y="332.15" width="5.33" height="1.05" fill="#8e9ee0" opacity="0.55"/><rect x="42.17" y="332.15" width="2.93" height="1.05" fill="#e7696d"/><rect x="43.05" y="332.15" width="1.17" height="1.05" fill="#f8d8dc" opacity="0.6"/><rect x="41.39" y="333.15" width="5.21" height="1.05" fill="#8e9ee0" opacity="0.55"/><rect x="42.59" y="333.15" width="2.81" height="1.05" fill="#e7696f"/><rect x="43.44" y="333.15" width="1.12" height="1.05" fill="#f8d8dc" opacity="0.6"/><rect x="40.79" y="334.16" width="5.81" height="1.05" fill="#8e9ee0" opacity="0.55"/><rect x="41.99" y="334.16" width="3.41" height="1.05" fill="#e76a70"/><rect x="43.02" y="334.16" width="1.37" height="1.05" fill="#f8d8dc" opacity="0.6"/><rect x="40.72" y="335.17" width="5.89" height="1.05" fill="#8e9ee0" opacity="0.55"/><rect x="41.92" y="335.17" width="3.49" height="1.05" fill="#e76b71"/><rect x="42.97" y="335.17" width="1.39" height="1.05" fill="#f8d8dc" opacity="0.6"/><rect x="40.82" y="336.17" width="6.00" height="1.05" fill="#8e9ee0" opacity="0.55"/><rect x="42.02" y="336.17" width="3.60" height="1.05" fill="#e76c72"/><rect x="43.10" y="336.17" width="1.44" height="1.05" fill="#f8d8dc" opacity="0.6"/><rect x="40.89" y="337.18" width="5.57" height="1.05" fill="#8e9ee0" opacity="0.55"/><rect x="42.09" y="337.18" width="3.17" height="1.05" fill="#e76d73"/><rect x="43.04" y="337.18" width="1.27" height="1.05" fill="#f8d8dc" opacity="0.6"/><rect x="40.56" y="338.18" width="5.95" height="1.05" fill="#8e9ee0" opacity="0.55"/><rect x="41.76" y="338.18" width="3.55" height="1.05" fill="#e76e74"/><rect x="42.83" y="338.18" width="1.42" height="1.05" fill="#f8d8dc" opacity="0.6"/><rect x="40.74" y="339.19" width="6.01" height="1.05" fill="#8e9ee0" opacity="0.55"/><rect x="41.94" y="339.19" width="3.61" height="1.05" fill="#e76f75"/><rect x="43.02" y="339.19" width="1.44" height="1.05" fill="#f8d8dc" opacity="0.6"/><rect x="40.89" y="340.19" width="5.47" height="1.05" fill="#8e9ee0" opacity="0.55"/><rect x="42.09" y="340.19" width="3.07" height="1.05" fill="#e77076"/><rect x="43.02" y="340.19" width="1.23" height="1.05" fill="#f8d8dc" opacity="0.6"/><rect x="40.98" y="341.20" width="5.40" height="1.05" fill="#8e9ee0" opacity="0.55"/><rect x="42.18" y="341.20" width="3.00" height="1.05" fill="#e87177"/><rect x="43.08" y="341.20" width="1.20" height="1.05" fill="#f8d8dc" opacity="0.6"/><rect x="41.03" y="342.20" width="6.04" height="1.05" fill="#8e9ee0" opacity="0.55"/><rect x="42.23" y="342.20" width="3.64" height="1.05" fill="#e87278"/><rect x="43.32" y="342.20" width="1.46" height="1.05" fill="#f8d8dc" opacity="0.6"/><rect x="40.76" y="343.21" width="5.92" height="1.05" fill="#8e9ee0" opacity="0.55"/><rect x="41.96" y="343.21" width="3.52" height="1.05" fill="#e87379"/><rect x="43.01" y="343.21" width="1.41" height="1.05" fill="#f8d8dc" opacity="0.6"/><rect x="41.20" y="344.22" width="5.62" height="1.05" fill="#8e9ee0" opacity="0.55"/><rect x="42.40" y="344.22" width="3.22" height="1.05" fill="#e8747a"/><rect x="43.37" y="344.22" width="1.29" height="1.05" fill="#f8d8dc" opacity="0.6"/><rect x="41.35" y="345.22" width="5.31" height="1.05" fill="#8e9ee0" opacity="0.55"/><rect x="42.55" y="345.22" width="2.91" height="1.05" fill="#e8747b"/><rect x="43.42" y="345.22" width="1.16" height="1.05" fill="#f8d8dc" opacity="0.6"/><rect x="41.17" y="346.23" width="5.77" height="1.05" fill="#8e9ee0" opacity="0.55"/><rect x="42.37" y="346.23" width="3.37" height="1.05" fill="#e8757c"/><rect x="43.38" y="346.23" width="1.35" height="1.05" fill="#f8d8dc" opacity="0.6"/><rect x="40.89" y="347.23" width="5.79" height="1.05" fill="#8e9ee0" opacity="0.55"/><rect x="42.09" y="347.23" width="3.39" height="1.05" fill="#e8767d"/><rect x="43.10" y="347.23" width="1.36" height="1.05" fill="#f8d8dc" opacity="0.6"/><rect x="40.67" y="348.24" width="5.90" height="1.05" fill="#8e9ee0" opacity="0.55"/><rect x="41.87" y="348.24" width="3.50" height="1.05" fill="#e8777e"/><rect x="42.92" y="348.24" width="1.40" height="1.05" fill="#f8d8dc" opacity="0.6"/><rect x="40.66" y="349.24" width="5.95" height="1.05" fill="#8e9ee0" opacity="0.55"/><rect x="41.86" y="349.24" width="3.55" height="1.05" fill="#e8787f"/><rect x="42.93" y="349.24" width="1.42" height="1.05" fill="#f8d8dc" opacity="0.6"/><rect x="41.08" y="350.25" width="5.84" height="1.05" fill="#8e9ee0" opacity="0.55"/><rect x="42.28" y="350.25" width="3.44" height="1.05" fill="#e87980"/><rect x="43.31" y="350.25" width="1.38" height="1.05" fill="#f8d8dc" opacity="0.6"/><rect x="41.12" y="351.25" width="5.04" height="1.05" fill="#8e9ee0" opacity="0.55"/><rect x="42.32" y="351.25" width="2.64" height="1.05" fill="#e97a81"/><rect x="43.11" y="351.25" width="1.06" height="1.05" fill="#f8d8dc" opacity="0.6"/><rect x="41.03" y="352.26" width="5.65" height="1.05" fill="#8e9ee0" opacity="0.55"/><rect x="42.23" y="352.26" width="3.25" height="1.05" fill="#e97b82"/><rect x="43.20" y="352.26" width="1.30" height="1.05" fill="#f8d8dc" opacity="0.6"/><rect x="40.87" y="353.26" width="5.74" height="1.05" fill="#8e9ee0" opacity="0.55"/><rect x="42.07" y="353.26" width="3.34" height="1.05" fill="#e97c83"/><rect x="43.07" y="353.26" width="1.34" height="1.05" fill="#f8d8dc" opacity="0.6"/><rect x="41.04" y="354.27" width="5.10" height="1.05" fill="#8e9ee0" opacity="0.55"/><rect x="42.24" y="354.27" width="2.70" height="1.05" fill="#e97d84"/><rect x="43.05" y="354.27" width="1.08" height="1.05" fill="#f8d8dc" opacity="0.6"/><rect x="40.84" y="355.28" width="5.78" height="1.05" fill="#8e9ee0" opacity="0.55"/><rect x="42.04" y="355.28" width="3.38" height="1.05" fill="#e97e85"/><rect x="43.05" y="355.28" width="1.35" height="1.05" fill="#f8d8dc" opacity="0.6"/><rect x="41.41" y="356.28" width="5.13" height="1.05" fill="#8e9ee0" opacity="0.55"/><rect x="42.61" y="356.28" width="2.73" height="1.05" fill="#e97e86"/><rect x="43.42" y="356.28" width="1.09" height="1.05" fill="#f8d8dc" opacity="0.6"/><rect x="40.92" y="357.29" width="5.55" height="1.05" fill="#8e9ee0" opacity="0.55"/><rect x="42.12" y="357.29" width="3.15" height="1.05" fill="#e97f87"/><rect x="43.06" y="357.29" width="1.26" height="1.05" fill="#f8d8dc" opacity="0.6"/><rect x="41.47" y="358.29" width="5.11" height="1.05" fill="#8e9ee0" opacity="0.55"/><rect x="42.67" y="358.29" width="2.71" height="1.05" fill="#e98088"/><rect x="43.49" y="358.29" width="1.08" height="1.05" fill="#f8d8dc" opacity="0.6"/><rect x="41.21" y="359.30" width="5.49" height="1.05" fill="#8e9ee0" opacity="0.55"/><rect x="42.41" y="359.30" width="3.09" height="1.05" fill="#e98189"/><rect x="43.33" y="359.30" width="1.24" height="1.05" fill="#f8d8dc" opacity="0.6"/><rect x="41.12" y="360.30" width="5.75" height="1.05" fill="#8e9ee0" opacity="0.55"/><rect x="42.32" y="360.30" width="3.35" height="1.05" fill="#e9828a"/><rect x="43.33" y="360.30" width="1.34" height="1.05" fill="#f8d8dc" opacity="0.6"/><rect x="41.21" y="361.31" width="5.57" height="1.05" fill="#8e9ee0" opacity="0.55"/><rect x="42.41" y="361.31" width="3.17" height="1.05" fill="#ea838b"/><rect x="43.36" y="361.31" width="1.27" height="1.05" fill="#f8d8dc" opacity="0.6"/><rect x="41.11" y="362.31" width="5.40" height="1.05" fill="#8e9ee0" opacity="0.55"/><rect x="42.31" y="362.31" width="3.00" height="1.05" fill="#ea848c"/><rect x="43.21" y="362.31" width="1.20" height="1.05" fill="#f8d8dc" opacity="0.6"/><rect x="40.80" y="363.32" width="5.73" height="1.05" fill="#8e9ee0" opacity="0.55"/><rect x="42.00" y="363.32" width="3.33" height="1.05" fill="#ea858d"/><rect x="43.00" y="363.32" width="1.33" height="1.05" fill="#f8d8dc" opacity="0.6"/><rect x="41.04" y="364.33" width="4.98" height="1.05" fill="#8e9ee0" opacity="0.55"/><rect x="42.24" y="364.33" width="2.58" height="1.05" fill="#ea868e"/><rect x="43.02" y="364.33" width="1.03" height="1.05" fill="#f8d8dc" opacity="0.6"/><rect x="41.30" y="365.33" width="5.13" height="1.05" fill="#8e9ee0" opacity="0.55"/><rect x="42.50" y="365.33" width="2.73" height="1.05" fill="#ea878f"/><rect x="43.32" y="365.33" width="1.09" height="1.05" fill="#f8d8dc" opacity="0.6"/><rect x="40.72" y="366.34" width="5.74" height="1.05" fill="#8e9ee0" opacity="0.55"/><rect x="41.92" y="366.34" width="3.34" height="1.05" fill="#ea8890"/><rect x="42.92" y="366.34" width="1.34" height="1.05" fill="#f8d8dc" opacity="0.6"/><rect x="40.88" y="367.34" width="5.43" height="1.05" fill="#8e9ee0" opacity="0.55"/><rect x="42.08" y="367.34" width="3.03" height="1.05" fill="#ea8891"/><rect x="42.99" y="367.34" width="1.21" height="1.05" fill="#f8d8dc" opacity="0.6"/><rect x="41.17" y="368.35" width="4.91" height="1.05" fill="#8e9ee0" opacity="0.55"/><rect x="42.37" y="368.35" width="2.51" height="1.05" fill="#ea8992"/><rect x="43.13" y="368.35" width="1.00" height="1.05" fill="#f8d8dc" opacity="0.6"/><rect x="41.56" y="369.35" width="4.92" height="1.05" fill="#8e9ee0" opacity="0.55"/><rect x="42.76" y="369.35" width="2.52" height="1.05" fill="#ea8a93"/><rect x="43.52" y="369.35" width="1.01" height="1.05" fill="#f8d8dc" opacity="0.6"/><rect x="41.36" y="370.36" width="5.36" height="1.05" fill="#8e9ee0" opacity="0.55"/><rect x="42.56" y="370.36" width="2.96" height="1.05" fill="#ea8b94"/><rect x="43.45" y="370.36" width="1.18" height="1.05" fill="#f8d8dc" opacity="0.6"/><rect x="41.11" y="371.36" width="5.62" height="1.05" fill="#8e9ee0" opacity="0.55"/><rect x="42.31" y="371.36" width="3.22" height="1.05" fill="#eb8c95"/><rect x="43.27" y="371.36" width="1.29" height="1.05" fill="#f8d8dc" opacity="0.6"/><rect x="40.85" y="372.37" width="5.57" height="1.05" fill="#8e9ee0" opacity="0.55"/><rect x="42.05" y="372.37" width="3.17" height="1.05" fill="#eb8d96"/><rect x="43.00" y="372.37" width="1.27" height="1.05" fill="#f8d8dc" opacity="0.6"/><rect x="41.14" y="373.38" width="5.46" height="1.05" fill="#8e9ee0" opacity="0.55"/><rect x="42.34" y="373.38" width="3.06" height="1.05" fill="#eb8e97"/><rect x="43.26" y="373.38" width="1.22" height="1.05" fill="#f8d8dc" opacity="0.6"/><rect x="40.90" y="374.38" width="5.47" height="1.05" fill="#8e9ee0" opacity="0.55"/><rect x="42.10" y="374.38" width="3.07" height="1.05" fill="#eb8f98"/><rect x="43.02" y="374.38" width="1.23" height="1.05" fill="#f8d8dc" opacity="0.6"/><rect x="41.38" y="375.39" width="5.01" height="1.05" fill="#8e9ee0" opacity="0.55"/><rect x="42.58" y="375.39" width="2.61" height="1.05" fill="#eb9099"/><rect x="43.36" y="375.39" width="1.04" height="1.05" fill="#f8d8dc" opacity="0.6"/><rect x="40.87" y="376.39" width="5.31" height="1.05" fill="#8e9ee0" opacity="0.55"/><rect x="42.07" y="376.39" width="2.91" height="1.05" fill="#eb919a"/><rect x="42.95" y="376.39" width="1.16" height="1.05" fill="#f8d8dc" opacity="0.6"/><rect x="41.25" y="377.40" width="5.40" height="1.05" fill="#8e9ee0" opacity="0.55"/><rect x="42.45" y="377.40" width="3.00" height="1.05" fill="#eb929b"/><rect x="43.35" y="377.40" width="1.20" height="1.05" fill="#f8d8dc" opacity="0.6"/><rect x="41.09" y="378.40" width="5.28" height="1.05" fill="#8e9ee0" opacity="0.55"/><rect x="42.29" y="378.40" width="2.88" height="1.05" fill="#eb929c"/><rect x="43.15" y="378.40" width="1.15" height="1.05" fill="#f8d8dc" opacity="0.6"/><rect x="41.45" y="379.41" width="4.78" height="1.05" fill="#8e9ee0" opacity="0.55"/><rect x="42.65" y="379.41" width="2.38" height="1.05" fill="#eb939d"/><rect x="43.37" y="379.41" width="0.95" height="1.05" fill="#f8d8dc" opacity="0.6"/><rect x="41.48" y="380.41" width="5.13" height="1.05" fill="#8e9ee0" opacity="0.55"/><rect x="42.68" y="380.41" width="2.73" height="1.05" fill="#eb949e"/><rect x="43.50" y="380.41" width="1.09" height="1.05" fill="#f8d8dc" opacity="0.6"/><rect x="41.56" y="381.42" width="4.98" height="1.05" fill="#8e9ee0" opacity="0.55"/><rect x="42.76" y="381.42" width="2.58" height="1.05" fill="#ec959f"/><rect x="43.54" y="381.42" width="1.03" height="1.05" fill="#f8d8dc" opacity="0.6"/><rect x="40.92" y="382.42" width="5.17" height="1.05" fill="#8e9ee0" opacity="0.55"/><rect x="42.12" y="382.42" width="2.77" height="1.05" fill="#ec96a0"/><rect x="42.95" y="382.42" width="1.11" height="1.05" fill="#f8d8dc" opacity="0.6"/><rect x="41.60" y="383.43" width="4.79" height="1.05" fill="#8e9ee0" opacity="0.55"/><rect x="42.80" y="383.43" width="2.39" height="1.05" fill="#ec97a1"/><rect x="43.52" y="383.43" width="0.96" height="1.05" fill="#f8d8dc" opacity="0.6"/><rect x="41.57" y="384.44" width="4.81" height="1.05" fill="#8e9ee0" opacity="0.55"/><rect x="42.77" y="384.44" width="2.41" height="1.05" fill="#ec98a2"/><rect x="43.50" y="384.44" width="0.97" height="1.05" fill="#f8d8dc" opacity="0.6"/><rect x="41.20" y="385.44" width="4.81" height="1.05" fill="#8e9ee0" opacity="0.55"/><rect x="42.40" y="385.44" width="2.41" height="1.05" fill="#ec99a3"/><rect x="43.12" y="385.44" width="0.96" height="1.05" fill="#f8d8dc" opacity="0.6"/><rect x="40.87" y="386.45" width="5.42" height="1.05" fill="#8e9ee0" opacity="0.55"/><rect x="42.07" y="386.45" width="3.02" height="1.05" fill="#ec9aa4"/><rect x="42.98" y="386.45" width="1.21" height="1.05" fill="#f8d8dc" opacity="0.6"/><rect x="41.45" y="387.45" width="5.21" height="1.05" fill="#8e9ee0" opacity="0.55"/><rect x="42.65" y="387.45" width="2.81" height="1.05" fill="#ec9ba5"/><rect x="43.49" y="387.45" width="1.13" height="1.05" fill="#f8d8dc" opacity="0.6"/><rect x="41.14" y="388.46" width="5.26" height="1.05" fill="#8e9ee0" opacity="0.55"/><rect x="42.34" y="388.46" width="2.86" height="1.05" fill="#ec9ca6"/><rect x="43.19" y="388.46" width="1.15" height="1.05" fill="#f8d8dc" opacity="0.6"/><rect x="41.35" y="389.46" width="4.86" height="1.05" fill="#8e9ee0" opacity="0.55"/><rect x="42.55" y="389.46" width="2.46" height="1.05" fill="#ec9ca8"/><rect x="43.29" y="389.46" width="0.98" height="1.05" fill="#f8d8dc" opacity="0.6"/><rect x="40.90" y="390.47" width="5.33" height="1.05" fill="#8e9ee0" opacity="0.55"/><rect x="42.10" y="390.47" width="2.93" height="1.05" fill="#ec9da9"/><rect x="42.97" y="390.47" width="1.17" height="1.05" fill="#f8d8dc" opacity="0.6"/><rect x="41.32" y="391.47" width="5.02" height="1.05" fill="#8e9ee0" opacity="0.55"/><rect x="42.52" y="391.47" width="2.62" height="1.05" fill="#ed9eaa"/><rect x="43.30" y="391.47" width="1.05" height="1.05" fill="#f8d8dc" opacity="0.6"/><rect x="41.21" y="392.48" width="4.92" height="1.05" fill="#8e9ee0" opacity="0.55"/><rect x="42.41" y="392.48" width="2.52" height="1.05" fill="#ed9fab"/><rect x="43.17" y="392.48" width="1.01" height="1.05" fill="#f8d8dc" opacity="0.6"/><rect x="41.43" y="393.49" width="4.66" height="1.05" fill="#8e9ee0" opacity="0.55"/><rect x="42.63" y="393.49" width="2.26" height="1.05" fill="#eda0ac"/><rect x="43.31" y="393.49" width="0.90" height="1.05" fill="#f8d8dc" opacity="0.6"/><rect x="41.25" y="394.49" width="4.76" height="1.05" fill="#8e9ee0" opacity="0.55"/><rect x="42.45" y="394.49" width="2.36" height="1.05" fill="#eda1ad"/><rect x="43.16" y="394.49" width="0.95" height="1.05" fill="#f8d8dc" opacity="0.6"/><rect x="41.67" y="395.50" width="4.72" height="1.05" fill="#8e9ee0" opacity="0.55"/><rect x="42.87" y="395.50" width="2.32" height="1.05" fill="#eda2ae"/><rect x="43.56" y="395.50" width="0.93" height="1.05" fill="#f8d8dc" opacity="0.6"/><rect x="41.12" y="396.50" width="5.30" height="1.05" fill="#8e9ee0" opacity="0.55"/><rect x="42.32" y="396.50" width="2.90" height="1.05" fill="#eda3af"/><rect x="43.19" y="396.50" width="1.16" height="1.05" fill="#f8d8dc" opacity="0.6"/><rect x="41.25" y="397.51" width="4.73" height="1.05" fill="#8e9ee0" opacity="0.55"/><rect x="42.45" y="397.51" width="2.33" height="1.05" fill="#eda4b0"/><rect x="43.15" y="397.51" width="0.93" height="1.05" fill="#f8d8dc" opacity="0.6"/><rect x="41.17" y="398.51" width="5.28" height="1.05" fill="#8e9ee0" opacity="0.55"/><rect x="42.37" y="398.51" width="2.88" height="1.05" fill="#eda5b1"/><rect x="43.23" y="398.51" width="1.15" height="1.05" fill="#f8d8dc" opacity="0.6"/><rect x="41.39" y="399.52" width="4.92" height="1.05" fill="#8e9ee0" opacity="0.55"/><rect x="42.59" y="399.52" width="2.52" height="1.05" fill="#eda6b2"/><rect x="43.35" y="399.52" width="1.01" height="1.05" fill="#f8d8dc" opacity="0.6"/><rect x="41.54" y="400.52" width="4.96" height="1.05" fill="#8e9ee0" opacity="0.55"/><rect x="42.74" y="400.52" width="2.56" height="1.05" fill="#eda6b3"/><rect x="43.51" y="400.52" width="1.03" height="1.05" fill="#f8d8dc" opacity="0.6"/><rect x="41.38" y="401.53" width="5.10" height="1.05" fill="#8e9ee0" opacity="0.55"/><rect x="42.58" y="401.53" width="2.70" height="1.05" fill="#eea7b4"/><rect x="43.39" y="401.53" width="1.08" height="1.05" fill="#f8d8dc" opacity="0.6"/><rect x="41.33" y="402.54" width="4.62" height="1.05" fill="#8e9ee0" opacity="0.55"/><rect x="42.53" y="402.54" width="2.22" height="1.05" fill="#eea8b5"/><rect x="43.19" y="402.54" width="0.89" height="1.05" fill="#f8d8dc" opacity="0.6"/><rect x="41.49" y="403.54" width="5.02" height="1.05" fill="#8e9ee0" opacity="0.55"/><rect x="42.69" y="403.54" width="2.62" height="1.05" fill="#eea9b6"/><rect x="43.47" y="403.54" width="1.05" height="1.05" fill="#f8d8dc" opacity="0.6"/><rect x="41.13" y="404.55" width="5.15" height="1.05" fill="#8e9ee0" opacity="0.55"/><rect x="42.33" y="404.55" width="2.75" height="1.05" fill="#eeaab7"/><rect x="43.15" y="404.55" width="1.10" height="1.05" fill="#f8d8dc" opacity="0.6"/><rect x="41.37" y="405.55" width="4.92" height="1.05" fill="#8e9ee0" opacity="0.55"/><rect x="42.57" y="405.55" width="2.52" height="1.05" fill="#eeabb8"/><rect x="43.33" y="405.55" width="1.01" height="1.05" fill="#f8d8dc" opacity="0.6"/><rect x="41.12" y="406.56" width="5.03" height="1.05" fill="#8e9ee0" opacity="0.55"/><rect x="42.32" y="406.56" width="2.63" height="1.05" fill="#eeacb9"/><rect x="43.11" y="406.56" width="1.05" height="1.05" fill="#f8d8dc" opacity="0.6"/><rect x="41.18" y="407.56" width="4.68" height="1.05" fill="#8e9ee0" opacity="0.55"/><rect x="42.38" y="407.56" width="2.28" height="1.05" fill="#eeadba"/><rect x="43.06" y="407.56" width="0.91" height="1.05" fill="#f8d8dc" opacity="0.6"/><rect x="41.72" y="408.57" width="4.51" height="1.05" fill="#8e9ee0" opacity="0.55"/><rect x="42.92" y="408.57" width="2.11" height="1.05" fill="#eeaebb"/><rect x="43.55" y="408.57" width="0.84" height="1.05" fill="#f8d8dc" opacity="0.6"/><rect x="41.53" y="409.57" width="4.78" height="1.05" fill="#8e9ee0" opacity="0.55"/><rect x="42.73" y="409.57" width="2.38" height="1.05" fill="#eeafbc"/><rect x="43.44" y="409.57" width="0.95" height="1.05" fill="#f8d8dc" opacity="0.6"/><rect x="41.51" y="410.58" width="4.95" height="1.05" fill="#8e9ee0" opacity="0.55"/><rect x="42.71" y="410.58" width="2.55" height="1.05" fill="#eeb0bd"/><rect x="43.48" y="410.58" width="1.02" height="1.05" fill="#f8d8dc" opacity="0.6"/><rect x="41.35" y="411.58" width="4.45" height="1.05" fill="#8e9ee0" opacity="0.55"/><rect x="42.55" y="411.58" width="2.05" height="1.05" fill="#efb0be"/><rect x="43.16" y="411.58" width="0.82" height="1.05" fill="#f8d8dc" opacity="0.6"/><rect x="41.31" y="412.59" width="4.56" height="1.05" fill="#8e9ee0" opacity="0.55"/><rect x="42.51" y="412.59" width="2.16" height="1.05" fill="#efb1bf"/><rect x="43.16" y="412.59" width="0.86" height="1.05" fill="#f8d8dc" opacity="0.6"/><rect x="41.43" y="413.60" width="5.02" height="1.05" fill="#8e9ee0" opacity="0.55"/><rect x="42.63" y="413.60" width="2.62" height="1.05" fill="#efb2c0"/><rect x="43.42" y="413.60" width="1.05" height="1.05" fill="#f8d8dc" opacity="0.6"/><rect x="41.20" y="414.60" width="4.96" height="1.05" fill="#8e9ee0" opacity="0.55"/><rect x="42.40" y="414.60" width="2.56" height="1.05" fill="#efb3c1"/><rect x="43.17" y="414.60" width="1.02" height="1.05" fill="#f8d8dc" opacity="0.6"/><rect x="41.35" y="415.61" width="4.68" height="1.05" fill="#8e9ee0" opacity="0.55"/><rect x="42.55" y="415.61" width="2.28" height="1.05" fill="#efb4c2"/><rect x="43.24" y="415.61" width="0.91" height="1.05" fill="#f8d8dc" opacity="0.6"/><rect x="41.20" y="416.61" width="4.65" height="1.05" fill="#8e9ee0" opacity="0.55"/><rect x="42.40" y="416.61" width="2.25" height="1.05" fill="#efb5c3"/><rect x="43.07" y="416.61" width="0.90" height="1.05" fill="#f8d8dc" opacity="0.6"/><rect x="41.79" y="417.62" width="4.35" height="1.05" fill="#8e9ee0" opacity="0.55"/><rect x="42.99" y="417.62" width="1.95" height="1.05" fill="#efb6c4"/><rect x="43.57" y="417.62" width="0.78" height="1.05" fill="#f8d8dc" opacity="0.6"/><rect x="41.31" y="418.62" width="4.75" height="1.05" fill="#8e9ee0" opacity="0.55"/><rect x="42.51" y="418.62" width="2.35" height="1.05" fill="#efb7c5"/><rect x="43.22" y="418.62" width="0.94" height="1.05" fill="#f8d8dc" opacity="0.6"/><rect x="41.54" y="419.63" width="4.41" height="1.05" fill="#8e9ee0" opacity="0.55"/><rect x="42.74" y="419.63" width="2.01" height="1.05" fill="#efb8c6"/><rect x="43.34" y="419.63" width="0.80" height="1.05" fill="#f8d8dc" opacity="0.6"/><rect x="41.32" y="420.63" width="4.66" height="1.05" fill="#8e9ee0" opacity="0.55"/><rect x="42.52" y="420.63" width="2.26" height="1.05" fill="#efb9c7"/><rect x="43.19" y="420.63" width="0.90" height="1.05" fill="#f8d8dc" opacity="0.6"/><rect x="41.31" y="421.64" width="4.64" height="1.05" fill="#8e9ee0" opacity="0.55"/><rect x="42.51" y="421.64" width="2.24" height="1.05" fill="#f0bac8"/><rect x="43.18" y="421.64" width="0.89" height="1.05" fill="#f8d8dc" opacity="0.6"/><rect x="41.74" y="422.65" width="4.51" height="1.05" fill="#8e9ee0" opacity="0.55"/><rect x="42.94" y="422.65" width="2.11" height="1.05" fill="#f0bbc9"/><rect x="43.57" y="422.65" width="0.84" height="1.05" fill="#f8d8dc" opacity="0.6"/><rect x="41.23" y="423.65" width="4.62" height="1.05" fill="#8e9ee0" opacity="0.55"/><rect x="42.43" y="423.65" width="2.22" height="1.05" fill="#f0bbca"/><rect x="43.10" y="423.65" width="0.89" height="1.05" fill="#f8d8dc" opacity="0.6"/><rect x="41.32" y="424.66" width="4.44" height="1.05" fill="#8e9ee0" opacity="0.55"/><rect x="42.52" y="424.66" width="2.04" height="1.05" fill="#f0bccb"/><rect x="43.13" y="424.66" width="0.82" height="1.05" fill="#f8d8dc" opacity="0.6"/><rect x="41.27" y="425.66" width="4.55" height="1.05" fill="#8e9ee0" opacity="0.55"/><rect x="42.47" y="425.66" width="2.15" height="1.05" fill="#f0bdcc"/><rect x="43.12" y="425.66" width="0.86" height="1.05" fill="#f8d8dc" opacity="0.6"/><rect x="41.56" y="426.67" width="4.68" height="1.05" fill="#8e9ee0" opacity="0.55"/><rect x="42.76" y="426.67" width="2.28" height="1.05" fill="#f0becd"/><rect x="43.44" y="426.67" width="0.91" height="1.05" fill="#f8d8dc" opacity="0.6"/><rect x="41.64" y="427.67" width="4.52" height="1.05" fill="#8e9ee0" opacity="0.55"/><rect x="42.84" y="427.67" width="2.12" height="1.05" fill="#f0becd"/><rect x="43.47" y="427.67" width="0.85" height="1.05" fill="#f8d8dc" opacity="0.6"/><rect x="41.72" y="428.68" width="4.22" height="1.05" fill="#8e9ee0" opacity="0.55"/><rect x="42.92" y="428.68" width="1.82" height="1.05" fill="#f0becd"/><rect x="43.47" y="428.68" width="0.73" height="1.05" fill="#f8d8dc" opacity="0.6"/><rect x="41.70" y="429.68" width="4.54" height="1.05" fill="#8e9ee0" opacity="0.55"/><rect x="42.90" y="429.68" width="2.14" height="1.05" fill="#f0becd"/><rect x="43.54" y="429.68" width="0.86" height="1.05" fill="#f8d8dc" opacity="0.6"/><rect x="41.27" y="430.69" width="4.66" height="1.05" fill="#8e9ee0" opacity="0.55"/><rect x="42.47" y="430.69" width="2.26" height="1.05" fill="#f0becd"/><rect x="43.15" y="430.69" width="0.90" height="1.05" fill="#f8d8dc" opacity="0.6"/><rect x="41.80" y="431.70" width="4.20" height="1.05" fill="#8e9ee0" opacity="0.55"/><rect x="43.00" y="431.70" width="1.80" height="1.05" fill="#f0becd"/><rect x="43.54" y="431.70" width="0.72" height="1.05" fill="#f8d8dc" opacity="0.6"/><rect x="41.41" y="432.70" width="4.55" height="1.05" fill="#8e9ee0" opacity="0.55"/><rect x="42.61" y="432.70" width="2.15" height="1.05" fill="#f0becd"/><rect x="43.26" y="432.70" width="0.86" height="1.05" fill="#f8d8dc" opacity="0.6"/><rect x="41.45" y="433.71" width="4.54" height="1.05" fill="#8e9ee0" opacity="0.55"/><rect x="42.65" y="433.71" width="2.14" height="1.05" fill="#f0becd"/><rect x="43.30" y="433.71" width="0.86" height="1.05" fill="#f8d8dc" opacity="0.6"/><rect x="41.47" y="434.71" width="4.22" height="1.05" fill="#8e9ee0" opacity="0.55"/><rect x="42.67" y="434.71" width="1.82" height="1.05" fill="#f0becd"/><rect x="43.22" y="434.71" width="0.73" height="1.05" fill="#f8d8dc" opacity="0.6"/><rect x="41.74" y="435.72" width="4.15" height="1.05" fill="#8e9ee0" opacity="0.55"/><rect x="42.94" y="435.72" width="1.75" height="1.05" fill="#f0becd"/><rect x="43.47" y="435.72" width="0.70" height="1.05" fill="#f8d8dc" opacity="0.6"/><rect x="41.29" y="436.72" width="4.49" height="1.05" fill="#8e9ee0" opacity="0.55"/><rect x="42.49" y="436.72" width="2.09" height="1.05" fill="#f0becd"/><rect x="43.12" y="436.72" width="0.83" height="1.05" fill="#f8d8dc" opacity="0.6"/><rect x="41.70" y="437.73" width="4.52" height="1.05" fill="#8e9ee0" opacity="0.55"/><rect x="42.90" y="437.73" width="2.12" height="1.05" fill="#f0becd"/><rect x="43.54" y="437.73" width="0.85" height="1.05" fill="#f8d8dc" opacity="0.6"/><rect x="41.87" y="438.73" width="4.13" height="1.05" fill="#8e9ee0" opacity="0.55"/><rect x="43.07" y="438.73" width="1.73" height="1.05" fill="#f0becd"/><rect x="43.59" y="438.73" width="0.69" height="1.05" fill="#f8d8dc" opacity="0.6"/><rect x="41.32" y="439.74" width="4.46" height="1.05" fill="#8e9ee0" opacity="0.55"/><rect x="42.52" y="439.74" width="2.06" height="1.05" fill="#f0becd"/><rect x="43.14" y="439.74" width="0.83" height="1.05" fill="#f8d8dc" opacity="0.6"/><rect x="41.57" y="440.74" width="4.27" height="1.05" fill="#8e9ee0" opacity="0.55"/><rect x="42.77" y="440.74" width="1.87" height="1.05" fill="#f0becd"/><rect x="43.34" y="440.74" width="0.75" height="1.05" fill="#f8d8dc" opacity="0.6"/><rect x="41.69" y="441.75" width="4.49" height="1.05" fill="#8e9ee0" opacity="0.55"/><rect x="42.89" y="441.75" width="2.09" height="1.05" fill="#f0becd"/><rect x="43.52" y="441.75" width="0.83" height="1.05" fill="#f8d8dc" opacity="0.6"/><rect x="41.68" y="442.76" width="4.32" height="1.05" fill="#8e9ee0" opacity="0.55"/><rect x="42.88" y="442.76" width="1.92" height="1.05" fill="#f0becd"/><rect x="43.46" y="442.76" width="0.77" height="1.05" fill="#f8d8dc" opacity="0.6"/><rect x="41.60" y="443.76" width="4.30" height="1.05" fill="#8e9ee0" opacity="0.55"/><rect x="42.80" y="443.76" width="1.90" height="1.05" fill="#f0becd"/><rect x="43.37" y="443.76" width="0.76" height="1.05" fill="#f8d8dc" opacity="0.6"/><rect x="41.64" y="444.77" width="4.31" height="1.05" fill="#8e9ee0" opacity="0.55"/><rect x="42.84" y="444.77" width="1.91" height="1.05" fill="#f0becd"/><rect x="43.41" y="444.77" width="0.77" height="1.05" fill="#f8d8dc" opacity="0.6"/><rect x="41.51" y="445.77" width="4.06" height="1.05" fill="#8e9ee0" opacity="0.55"/><rect x="42.71" y="445.77" width="1.66" height="1.05" fill="#f0becd"/><rect x="43.21" y="445.77" width="0.66" height="1.05" fill="#f8d8dc" opacity="0.6"/><rect x="41.82" y="446.78" width="4.17" height="1.05" fill="#8e9ee0" opacity="0.55"/><rect x="43.02" y="446.78" width="1.77" height="1.05" fill="#f0becd"/><rect x="43.55" y="446.78" width="0.71" height="1.05" fill="#f8d8dc" opacity="0.6"/><rect x="41.64" y="447.78" width="4.25" height="1.05" fill="#8e9ee0" opacity="0.55"/><rect x="42.84" y="447.78" width="1.85" height="1.05" fill="#f0becd"/><rect x="43.40" y="447.78" width="0.74" height="1.05" fill="#f8d8dc" opacity="0.6"/><rect x="41.85" y="448.79" width="3.99" height="1.05" fill="#8e9ee0" opacity="0.55"/><rect x="43.05" y="448.79" width="1.59" height="1.05" fill="#f0becd"/><rect x="43.52" y="448.79" width="0.64" height="1.05" fill="#f8d8dc" opacity="0.6"/><rect x="41.53" y="449.79" width="4.38" height="1.05" fill="#8e9ee0" opacity="0.55"/><rect x="42.73" y="449.79" width="1.98" height="1.05" fill="#f0becd"/><rect x="43.32" y="449.79" width="0.79" height="1.05" fill="#f8d8dc" opacity="0.6"/><rect x="75.6" y="305" width="48.80000000000001" height="145.8" fill="#27328a"/><g shape-rendering="crispEdges"><rect x="75.6" y="306.6" width="48.80000000000001" height="1.2" fill="#2f3d9c" opacity="0.31"/><rect x="75.6" y="310.5" width="48.80000000000001" height="1.5" fill="#2f3d9c" opacity="0.34"/><rect x="75.6" y="312.0" width="48.80000000000001" height="0.8" fill="#1c2268" opacity="0.22"/><rect x="75.6" y="317.5" width="48.80000000000001" height="1.0" fill="#2f3d9c" opacity="0.16"/><rect x="75.6" y="319.3" width="48.80000000000001" height="1.2" fill="#1c2268" opacity="0.35"/><rect x="75.6" y="320.5" width="48.80000000000001" height="0.8" fill="#1c2268" opacity="0.33"/><rect x="75.6" y="325.5" width="48.80000000000001" height="1.2" fill="#1c2268" opacity="0.25"/><rect x="75.6" y="326.7" width="48.80000000000001" height="1.0" fill="#1c2268" opacity="0.35"/><rect x="75.6" y="327.7" width="48.80000000000001" height="0.8" fill="#2f3d9c" opacity="0.17"/><rect x="75.6" y="328.5" width="48.80000000000001" height="0.8" fill="#1c2268" opacity="0.26"/><rect x="75.6" y="330.8" width="48.80000000000001" height="1.2" fill="#2f3d9c" opacity="0.17"/><rect x="75.6" y="332.0" width="48.80000000000001" height="1.0" fill="#1c2268" opacity="0.24"/><rect x="75.6" y="334.0" width="48.80000000000001" height="1.2" fill="#2f3d9c" opacity="0.27"/><rect x="75.6" y="335.2" width="48.80000000000001" height="1.2" fill="#1c2268" opacity="0.23"/><rect x="75.6" y="336.4" width="48.80000000000001" height="1.0" fill="#2f3d9c" opacity="0.25"/><rect x="75.6" y="337.4" width="48.80000000000001" height="0.8" fill="#2f3d9c" opacity="0.16"/><rect x="75.6" y="338.2" width="48.80000000000001" height="0.8" fill="#1c2268" opacity="0.24"/><rect x="75.6" y="339.0" width="48.80000000000001" height="1.5" fill="#1c2268" opacity="0.25"/><rect x="75.6" y="340.5" width="48.80000000000001" height="1.2" fill="#1c2268" opacity="0.41"/><rect x="75.6" y="343.2" width="48.80000000000001" height="1.5" fill="#1c2268" opacity="0.34"/><rect x="75.6" y="348.9" width="48.80000000000001" height="0.8" fill="#1c2268" opacity="0.44"/><rect x="75.6" y="349.7" width="48.80000000000001" height="1.0" fill="#1c2268" opacity="0.39"/><rect x="75.6" y="353.1" width="48.80000000000001" height="1.2" fill="#2f3d9c" opacity="0.16"/><rect x="75.6" y="356.8" width="48.80000000000001" height="0.8" fill="#1c2268" opacity="0.28"/><rect x="75.6" y="357.6" width="48.80000000000001" height="1.5" fill="#1c2268" opacity="0.21"/><rect x="75.6" y="360.3" width="48.80000000000001" height="0.8" fill="#2f3d9c" opacity="0.34"/><rect x="75.6" y="362.1" width="48.80000000000001" height="1.0" fill="#1c2268" opacity="0.26"/><rect x="75.6" y="365.3" width="48.80000000000001" height="0.8" fill="#1c2268" opacity="0.25"/><rect x="75.6" y="366.9" width="48.80000000000001" height="1.2" fill="#2f3d9c" opacity="0.34"/><rect x="75.6" y="368.1" width="48.80000000000001" height="1.0" fill="#1c2268" opacity="0.36"/><rect x="75.6" y="370.7" width="48.80000000000001" height="1.0" fill="#2f3d9c" opacity="0.27"/><rect x="75.6" y="371.7" width="48.80000000000001" height="0.8" fill="#2f3d9c" opacity="0.25"/><rect x="75.6" y="373.7" width="48.80000000000001" height="0.8" fill="#2f3d9c" opacity="0.26"/><rect x="75.6" y="375.5" width="48.80000000000001" height="1.0" fill="#1c2268" opacity="0.31"/><rect x="75.6" y="376.5" width="48.80000000000001" height="1.2" fill="#1c2268" opacity="0.24"/><rect x="75.6" y="378.7" width="48.80000000000001" height="0.8" fill="#1c2268" opacity="0.32"/><rect x="75.6" y="383.0" width="48.80000000000001" height="0.8" fill="#1c2268" opacity="0.39"/><rect x="75.6" y="383.8" width="48.80000000000001" height="0.8" fill="#2f3d9c" opacity="0.20"/><rect x="75.6" y="385.8" width="48.80000000000001" height="1.2" fill="#2f3d9c" opacity="0.20"/><rect x="75.6" y="389.7" width="48.80000000000001" height="1.5" fill="#2f3d9c" opacity="0.33"/><rect x="75.6" y="393.5" width="48.80000000000001" height="1.0" fill="#1c2268" opacity="0.42"/><rect x="75.6" y="395.7" width="48.80000000000001" height="0.8" fill="#2f3d9c" opacity="0.16"/><rect x="75.6" y="398.0" width="48.80000000000001" height="1.5" fill="#2f3d9c" opacity="0.18"/><rect x="75.6" y="403.5" width="48.80000000000001" height="1.0" fill="#1c2268" opacity="0.29"/><rect x="75.6" y="405.3" width="48.80000000000001" height="0.8" fill="#1c2268" opacity="0.28"/><rect x="75.6" y="406.1" width="48.80000000000001" height="0.8" fill="#1c2268" opacity="0.27"/><rect x="75.6" y="407.7" width="48.80000000000001" height="1.2" fill="#2f3d9c" opacity="0.16"/><rect x="75.6" y="409.9" width="48.80000000000001" height="0.8" fill="#2f3d9c" opacity="0.31"/><rect x="75.6" y="410.7" width="48.80000000000001" height="1.5" fill="#1c2268" opacity="0.31"/><rect x="75.6" y="415.6" width="48.80000000000001" height="1.5" fill="#2f3d9c" opacity="0.33"/><rect x="75.6" y="418.3" width="48.80000000000001" height="1.2" fill="#1c2268" opacity="0.43"/><rect x="75.6" y="419.5" width="48.80000000000001" height="1.5" fill="#2f3d9c" opacity="0.34"/><rect x="75.6" y="422.5" width="48.80000000000001" height="0.8" fill="#1c2268" opacity="0.36"/><rect x="75.6" y="423.3" width="48.80000000000001" height="1.0" fill="#2f3d9c" opacity="0.18"/><rect x="75.6" y="425.1" width="48.80000000000001" height="1.0" fill="#2f3d9c" opacity="0.17"/><rect x="75.6" y="430.9" width="48.80000000000001" height="1.2" fill="#2f3d9c" opacity="0.18"/><rect x="75.6" y="435.4" width="48.80000000000001" height="1.0" fill="#2f3d9c" opacity="0.19"/><rect x="75.6" y="436.4" width="48.80000000000001" height="1.0" fill="#1c2268" opacity="0.21"/><rect x="75.6" y="437.4" width="48.80000000000001" height="0.8" fill="#1c2268" opacity="0.38"/><rect x="75.6" y="439.0" width="48.80000000000001" height="1.0" fill="#1c2268" opacity="0.25"/><rect x="75.6" y="441.2" width="48.80000000000001" height="1.2" fill="#1c2268" opacity="0.44"/><rect x="75.6" y="442.4" width="48.80000000000001" height="1.0" fill="#2f3d9c" opacity="0.16"/><rect x="75.6" y="443.4" width="48.80000000000001" height="0.8" fill="#1c2268" opacity="0.41"/><rect x="75.6" y="444.2" width="48.80000000000001" height="1.2" fill="#2f3d9c" opacity="0.16"/><rect x="75.6" y="446.6" width="48.80000000000001" height="1.5" fill="#1c2268" opacity="0.33"/><rect x="75.6" y="448.1" width="48.80000000000001" height="1.2" fill="#2f3d9c" opacity="0.30"/><rect x="75.6" y="449.3" width="48.80000000000001" height="1.5" fill="#2f3d9c" opacity="0.20"/></g><rect x="96.30" y="305" width="10" height="145.8" fill="#3d58bd" opacity="0.35"/><rect x="86.03" y="305.00" width="30.45" height="1.05" fill="#4a66c8" opacity="0.60"/><rect x="89.03" y="305.00" width="24.45" height="1.05" fill="#f2d4dc" opacity="0.80"/><rect x="93.03" y="305.00" width="16.45" height="1.05" fill="#e6251b"/><rect x="88.49" y="306.01" width="26.38" height="1.05" fill="#4a66c8" opacity="0.60"/><rect x="91.49" y="306.01" width="20.38" height="1.05" fill="#f2d4dc" opacity="0.80"/><rect x="95.14" y="306.01" width="13.07" height="1.05" fill="#e6251b"/><rect x="88.40" y="307.01" width="25.75" height="1.05" fill="#4a66c8" opacity="0.60"/><rect x="91.40" y="307.01" width="19.75" height="1.05" fill="#f2d4dc" opacity="0.80"/><rect x="94.71" y="307.01" width="13.13" height="1.05" fill="#e6251b"/><rect x="87.44" y="308.02" width="27.75" height="1.05" fill="#4a66c8" opacity="0.60"/><rect x="90.44" y="308.02" width="21.75" height="1.05" fill="#f2d4dc" opacity="0.79"/><rect x="93.40" y="308.02" width="15.82" height="1.05" fill="#e6251b"/><rect x="89.68" y="309.02" width="22.90" height="1.05" fill="#4a66c8" opacity="0.59"/><rect x="92.68" y="309.02" width="16.90" height="1.05" fill="#f2d4dc" opacity="0.79"/><rect x="95.30" y="309.02" width="11.66" height="1.05" fill="#e6251b"/><rect x="88.79" y="310.03" width="24.88" height="1.05" fill="#4a66c8" opacity="0.59"/><rect x="91.79" y="310.03" width="18.88" height="1.05" fill="#f2d4dc" opacity="0.79"/><rect x="94.07" y="310.03" width="14.33" height="1.05" fill="#e6251b"/><rect x="106.04" y="310.03" width="1" height="1.05" fill="#f6c0c0" opacity="0.8"/><rect x="89.49" y="311.03" width="22.74" height="1.05" fill="#4a66c8" opacity="0.59"/><rect x="92.49" y="311.03" width="16.74" height="1.05" fill="#f2d4dc" opacity="0.79"/><rect x="94.48" y="311.03" width="12.77" height="1.05" fill="#e6251b"/><rect x="89.68" y="312.04" width="23.46" height="1.05" fill="#4a66c8" opacity="0.59"/><rect x="92.68" y="312.04" width="17.46" height="1.05" fill="#f2d4dc" opacity="0.79"/><rect x="94.61" y="312.04" width="13.61" height="1.05" fill="#e6251b"/><rect x="101.72" y="312.04" width="1" height="1.05" fill="#f6c0c0" opacity="0.8"/><rect x="89.83" y="313.04" width="22.65" height="1.05" fill="#4a66c8" opacity="0.59"/><rect x="92.83" y="313.04" width="16.65" height="1.05" fill="#f2d4dc" opacity="0.78"/><rect x="94.69" y="313.04" width="12.93" height="1.05" fill="#e6251b"/><rect x="91.42" y="314.05" width="20.69" height="1.05" fill="#4a66c8" opacity="0.59"/><rect x="94.42" y="314.05" width="14.69" height="1.05" fill="#f2d4dc" opacity="0.78"/><rect x="96.22" y="314.05" width="11.09" height="1.05" fill="#e6251b"/><rect x="89.58" y="315.06" width="23.02" height="1.05" fill="#4a66c8" opacity="0.58"/><rect x="92.58" y="315.06" width="17.02" height="1.05" fill="#f2d4dc" opacity="0.78"/><rect x="94.31" y="315.06" width="13.54" height="1.05" fill="#e6251b"/><rect x="90.14" y="316.06" width="21.98" height="1.05" fill="#4a66c8" opacity="0.58"/><rect x="93.14" y="316.06" width="15.98" height="1.05" fill="#f2d4dc" opacity="0.78"/><rect x="94.81" y="316.06" width="12.63" height="1.05" fill="#e6251b"/><rect x="90.08" y="317.07" width="22.35" height="1.05" fill="#4a66c8" opacity="0.58"/><rect x="93.08" y="317.07" width="16.35" height="1.05" fill="#f2d4dc" opacity="0.78"/><rect x="94.69" y="317.07" width="13.12" height="1.05" fill="#e6251b"/><rect x="91.72" y="318.07" width="19.79" height="1.05" fill="#4a66c8" opacity="0.58"/><rect x="94.72" y="318.07" width="13.79" height="1.05" fill="#f2d4dc" opacity="0.77"/><rect x="96.27" y="318.07" width="10.69" height="1.05" fill="#e6251b"/><rect x="90.94" y="319.08" width="20.87" height="1.05" fill="#4a66c8" opacity="0.58"/><rect x="93.94" y="319.08" width="14.87" height="1.05" fill="#f2d4dc" opacity="0.77"/><rect x="95.43" y="319.08" width="11.90" height="1.05" fill="#e6251b"/><rect x="91.87" y="320.08" width="19.36" height="1.05" fill="#4a66c8" opacity="0.58"/><rect x="94.87" y="320.08" width="13.36" height="1.05" fill="#f2d4dc" opacity="0.77"/><rect x="96.30" y="320.08" width="10.52" height="1.05" fill="#e6251b"/><rect x="100.36" y="320.08" width="1" height="1.05" fill="#f6c0c0" opacity="0.8"/><rect x="90.85" y="321.09" width="21.17" height="1.05" fill="#4a66c8" opacity="0.57"/><rect x="93.85" y="321.09" width="15.17" height="1.05" fill="#f2d4dc" opacity="0.77"/><rect x="95.21" y="321.09" width="12.45" height="1.05" fill="#e6251b"/><rect x="91.90" y="322.09" width="18.95" height="1.05" fill="#4a66c8" opacity="0.57"/><rect x="94.90" y="322.09" width="12.95" height="1.05" fill="#f2d4dc" opacity="0.76"/><rect x="96.20" y="322.09" width="10.35" height="1.05" fill="#e6251b"/><rect x="100.44" y="322.09" width="1" height="1.05" fill="#f6c0c0" opacity="0.8"/><rect x="90.36" y="323.10" width="21.23" height="1.05" fill="#4a66c8" opacity="0.57"/><rect x="93.36" y="323.10" width="15.23" height="1.05" fill="#f2d4dc" opacity="0.76"/><rect x="94.59" y="323.10" width="12.76" height="1.05" fill="#e6251b"/><rect x="91.71" y="324.10" width="19.80" height="1.05" fill="#4a66c8" opacity="0.57"/><rect x="94.71" y="324.10" width="13.80" height="1.05" fill="#f2d4dc" opacity="0.76"/><rect x="95.88" y="324.10" width="11.46" height="1.05" fill="#e6251b"/><rect x="92.13" y="325.11" width="18.08" height="1.05" fill="#4a66c8" opacity="0.57"/><rect x="95.13" y="325.11" width="12.08" height="1.05" fill="#f2d4dc" opacity="0.76"/><rect x="96.24" y="325.11" width="9.86" height="1.05" fill="#e6251b"/><rect x="91.48" y="326.12" width="19.37" height="1.05" fill="#4a66c8" opacity="0.57"/><rect x="94.48" y="326.12" width="13.37" height="1.05" fill="#f2d4dc" opacity="0.76"/><rect x="95.53" y="326.12" width="11.27" height="1.05" fill="#e6251b"/><rect x="92.48" y="327.12" width="17.92" height="1.05" fill="#4a66c8" opacity="0.56"/><rect x="95.48" y="327.12" width="11.92" height="1.05" fill="#f2d4dc" opacity="0.75"/><rect x="96.48" y="327.12" width="9.93" height="1.05" fill="#e6251b"/><rect x="91.97" y="328.13" width="18.06" height="1.05" fill="#4a66c8" opacity="0.56"/><rect x="94.97" y="328.13" width="12.06" height="1.05" fill="#f2d4dc" opacity="0.75"/><rect x="95.97" y="328.13" width="10.07" height="1.05" fill="#e6251b"/><rect x="92.75" y="329.13" width="16.72" height="1.05" fill="#4a66c8" opacity="0.56"/><rect x="95.75" y="329.13" width="10.72" height="1.05" fill="#f2d4dc" opacity="0.75"/><rect x="96.75" y="329.13" width="8.74" height="1.05" fill="#e6251b"/><rect x="92.87" y="330.14" width="17.33" height="1.05" fill="#4a66c8" opacity="0.56"/><rect x="95.87" y="330.14" width="11.33" height="1.05" fill="#f2d4dc" opacity="0.75"/><rect x="96.86" y="330.14" width="9.36" height="1.05" fill="#e6251b"/><rect x="99.50" y="330.14" width="1" height="1.05" fill="#f6c0c0" opacity="0.8"/><rect x="92.30" y="331.14" width="18.53" height="1.05" fill="#4a66c8" opacity="0.56"/><rect x="95.30" y="331.14" width="12.53" height="1.05" fill="#f2d4dc" opacity="0.75"/><rect x="96.28" y="331.14" width="10.57" height="1.05" fill="#e6251b"/><rect x="101.54" y="331.14" width="1" height="1.05" fill="#f6c0c0" opacity="0.8"/><rect x="92.52" y="332.15" width="16.92" height="1.05" fill="#4a66c8" opacity="0.56"/><rect x="95.52" y="332.15" width="10.92" height="1.05" fill="#f2d4dc" opacity="0.74"/><rect x="96.50" y="332.15" width="8.97" height="1.05" fill="#e6251b"/><rect x="92.43" y="333.15" width="16.88" height="1.05" fill="#4a66c8" opacity="0.55"/><rect x="95.43" y="333.15" width="10.88" height="1.05" fill="#f2d4dc" opacity="0.74"/><rect x="96.41" y="333.15" width="8.93" height="1.05" fill="#e6251b"/><rect x="98.89" y="333.15" width="1" height="1.05" fill="#f6c0c0" opacity="0.8"/><rect x="93.09" y="334.16" width="16.98" height="1.05" fill="#4a66c8" opacity="0.55"/><rect x="96.09" y="334.16" width="10.98" height="1.05" fill="#f2d4dc" opacity="0.74"/><rect x="97.06" y="334.16" width="9.04" height="1.05" fill="#e6251b"/><rect x="97.10" y="334.16" width="1" height="1.05" fill="#f6c0c0" opacity="0.8"/><rect x="91.62" y="335.17" width="18.37" height="1.05" fill="#4a66c8" opacity="0.55"/><rect x="94.62" y="335.17" width="12.37" height="1.05" fill="#f2d4dc" opacity="0.74"/><rect x="95.59" y="335.17" width="10.43" height="1.05" fill="#e6251b"/><rect x="93.18" y="336.17" width="16.39" height="1.05" fill="#4a66c8" opacity="0.55"/><rect x="96.18" y="336.17" width="10.39" height="1.05" fill="#f2d4dc" opacity="0.74"/><rect x="97.14" y="336.17" width="8.46" height="1.05" fill="#e6251b"/><rect x="92.03" y="337.18" width="18.33" height="1.05" fill="#4a66c8" opacity="0.55"/><rect x="95.03" y="337.18" width="12.33" height="1.05" fill="#f2d4dc" opacity="0.73"/><rect x="95.98" y="337.18" width="10.41" height="1.05" fill="#e6251b"/><rect x="92.97" y="338.18" width="16.85" height="1.05" fill="#4a66c8" opacity="0.55"/><rect x="95.97" y="338.18" width="10.85" height="1.05" fill="#f2d4dc" opacity="0.73"/><rect x="96.93" y="338.18" width="8.94" height="1.05" fill="#e6251b"/><rect x="100.25" y="338.18" width="1" height="1.05" fill="#f6c0c0" opacity="0.8"/><rect x="93.27" y="339.19" width="16.07" height="1.05" fill="#4a66c8" opacity="0.54"/><rect x="96.27" y="339.19" width="10.07" height="1.05" fill="#f2d4dc" opacity="0.73"/><rect x="97.22" y="339.19" width="8.16" height="1.05" fill="#e6251b"/><rect x="92.15" y="340.19" width="18.46" height="1.05" fill="#4a66c8" opacity="0.54"/><rect x="95.15" y="340.19" width="12.46" height="1.05" fill="#f2d4dc" opacity="0.73"/><rect x="96.10" y="340.19" width="10.56" height="1.05" fill="#e6251b"/><rect x="92.92" y="341.20" width="16.40" height="1.05" fill="#4a66c8" opacity="0.54"/><rect x="95.92" y="341.20" width="10.40" height="1.05" fill="#f2d4dc" opacity="0.73"/><rect x="96.86" y="341.20" width="8.51" height="1.05" fill="#e6251b"/><rect x="92.73" y="342.20" width="17.09" height="1.05" fill="#4a66c8" opacity="0.54"/><rect x="95.73" y="342.20" width="11.09" height="1.05" fill="#f2d4dc" opacity="0.72"/><rect x="96.67" y="342.20" width="9.21" height="1.05" fill="#e6251b"/><rect x="92.29" y="343.21" width="18.24" height="1.05" fill="#4a66c8" opacity="0.54"/><rect x="95.29" y="343.21" width="12.24" height="1.05" fill="#f2d4dc" opacity="0.72"/><rect x="96.22" y="343.21" width="10.37" height="1.05" fill="#e6251b"/><rect x="92.75" y="344.22" width="16.84" height="1.05" fill="#4a66c8" opacity="0.54"/><rect x="95.75" y="344.22" width="10.84" height="1.05" fill="#f2d4dc" opacity="0.72"/><rect x="96.69" y="344.22" width="8.98" height="1.05" fill="#e6251b"/><rect x="92.76" y="345.22" width="16.80" height="1.05" fill="#4a66c8" opacity="0.53"/><rect x="95.76" y="345.22" width="10.80" height="1.05" fill="#f2d4dc" opacity="0.72"/><rect x="96.69" y="345.22" width="8.95" height="1.05" fill="#e6251b"/><rect x="93.97" y="346.23" width="15.61" height="1.05" fill="#4a66c8" opacity="0.53"/><rect x="96.97" y="346.23" width="9.61" height="1.05" fill="#f2d4dc" opacity="0.72"/><rect x="97.90" y="346.23" width="7.77" height="1.05" fill="#e6251b"/><rect x="93.51" y="347.23" width="16.45" height="1.05" fill="#4a66c8" opacity="0.53"/><rect x="96.51" y="347.23" width="10.45" height="1.05" fill="#f2d4dc" opacity="0.71"/><rect x="97.43" y="347.23" width="8.61" height="1.05" fill="#e6251b"/><rect x="91.83" y="348.24" width="18.02" height="1.05" fill="#4a66c8" opacity="0.53"/><rect x="94.83" y="348.24" width="12.02" height="1.05" fill="#f2d4dc" opacity="0.71"/><rect x="95.74" y="348.24" width="10.18" height="1.05" fill="#e6251b"/><rect x="101.79" y="348.24" width="1" height="1.05" fill="#f6c0c0" opacity="0.8"/><rect x="93.51" y="349.24" width="16.31" height="1.05" fill="#4a66c8" opacity="0.53"/><rect x="96.51" y="349.24" width="10.31" height="1.05" fill="#f2d4dc" opacity="0.71"/><rect x="97.42" y="349.24" width="8.49" height="1.05" fill="#e6251b"/><rect x="102.36" y="349.24" width="1" height="1.05" fill="#f6c0c0" opacity="0.8"/><rect x="93.09" y="350.25" width="15.55" height="1.05" fill="#4a66c8" opacity="0.53"/><rect x="96.09" y="350.25" width="9.55" height="1.05" fill="#f2d4dc" opacity="0.71"/><rect x="97.00" y="350.25" width="7.73" height="1.05" fill="#e6251b"/><rect x="97.96" y="350.25" width="1" height="1.05" fill="#f6c0c0" opacity="0.8"/><rect x="92.73" y="351.25" width="16.36" height="1.05" fill="#4a66c8" opacity="0.52"/><rect x="95.73" y="351.25" width="10.36" height="1.05" fill="#f2d4dc" opacity="0.70"/><rect x="96.64" y="351.25" width="8.55" height="1.05" fill="#e6251b"/><rect x="92.92" y="352.26" width="16.46" height="1.05" fill="#4a66c8" opacity="0.52"/><rect x="95.92" y="352.26" width="10.46" height="1.05" fill="#f2d4dc" opacity="0.70"/><rect x="96.82" y="352.26" width="8.66" height="1.05" fill="#e6251b"/><rect x="93.57" y="353.26" width="15.87" height="1.05" fill="#4a66c8" opacity="0.52"/><rect x="96.57" y="353.26" width="9.87" height="1.05" fill="#f2d4dc" opacity="0.70"/><rect x="97.46" y="353.26" width="8.08" height="1.05" fill="#e6251b"/><rect x="93.03" y="354.27" width="16.42" height="1.05" fill="#4a66c8" opacity="0.52"/><rect x="96.03" y="354.27" width="10.42" height="1.05" fill="#f2d4dc" opacity="0.70"/><rect x="96.92" y="354.27" width="8.64" height="1.05" fill="#e6251b"/><rect x="99.31" y="354.27" width="1" height="1.05" fill="#f6c0c0" opacity="0.8"/><rect x="93.43" y="355.28" width="15.83" height="1.05" fill="#4a66c8" opacity="0.52"/><rect x="96.43" y="355.28" width="9.83" height="1.05" fill="#f2d4dc" opacity="0.70"/><rect x="97.32" y="355.28" width="8.05" height="1.05" fill="#e6251b"/><rect x="103.78" y="355.28" width="1" height="1.05" fill="#f6c0c0" opacity="0.8"/><rect x="93.79" y="356.28" width="15.26" height="1.05" fill="#4a66c8" opacity="0.52"/><rect x="96.79" y="356.28" width="9.26" height="1.05" fill="#f2d4dc" opacity="0.69"/><rect x="97.67" y="356.28" width="7.49" height="1.05" fill="#e6251b"/><rect x="92.26" y="357.29" width="17.25" height="1.05" fill="#4a66c8" opacity="0.51"/><rect x="95.26" y="357.29" width="11.25" height="1.05" fill="#f2d4dc" opacity="0.69"/><rect x="96.14" y="357.29" width="9.49" height="1.05" fill="#e6251b"/><rect x="104.36" y="357.29" width="1" height="1.05" fill="#f6c0c0" opacity="0.8"/><rect x="93.74" y="358.29" width="15.40" height="1.05" fill="#4a66c8" opacity="0.51"/><rect x="96.74" y="358.29" width="9.40" height="1.05" fill="#f2d4dc" opacity="0.69"/><rect x="97.62" y="358.29" width="7.64" height="1.05" fill="#e6251b"/><rect x="93.69" y="359.30" width="15.20" height="1.05" fill="#4a66c8" opacity="0.51"/><rect x="96.69" y="359.30" width="9.20" height="1.05" fill="#f2d4dc" opacity="0.69"/><rect x="97.56" y="359.30" width="7.46" height="1.05" fill="#e6251b"/><rect x="100.97" y="359.30" width="1" height="1.05" fill="#f6c0c0" opacity="0.8"/><rect x="93.64" y="360.30" width="15.36" height="1.05" fill="#4a66c8" opacity="0.51"/><rect x="96.64" y="360.30" width="9.36" height="1.05" fill="#f2d4dc" opacity="0.69"/><rect x="97.51" y="360.30" width="7.62" height="1.05" fill="#e6251b"/><rect x="93.28" y="361.31" width="15.33" height="1.05" fill="#4a66c8" opacity="0.51"/><rect x="96.28" y="361.31" width="9.33" height="1.05" fill="#f2d4dc" opacity="0.68"/><rect x="97.15" y="361.31" width="7.60" height="1.05" fill="#e6251b"/><rect x="93.32" y="362.31" width="15.80" height="1.05" fill="#4a66c8" opacity="0.51"/><rect x="96.32" y="362.31" width="9.80" height="1.05" fill="#f2d4dc" opacity="0.68"/><rect x="97.18" y="362.31" width="8.08" height="1.05" fill="#e6251b"/><rect x="92.58" y="363.32" width="16.93" height="1.05" fill="#4a66c8" opacity="0.50"/><rect x="95.58" y="363.32" width="10.93" height="1.05" fill="#f2d4dc" opacity="0.68"/><rect x="96.44" y="363.32" width="9.22" height="1.05" fill="#e6251b"/><rect x="99.66" y="363.32" width="1" height="1.05" fill="#f6c0c0" opacity="0.8"/><rect x="93.80" y="364.33" width="15.12" height="1.05" fill="#4a66c8" opacity="0.50"/><rect x="96.80" y="364.33" width="9.12" height="1.05" fill="#f2d4dc" opacity="0.68"/><rect x="97.65" y="364.33" width="7.42" height="1.05" fill="#e6251b"/><rect x="93.72" y="365.33" width="15.14" height="1.05" fill="#4a66c8" opacity="0.50"/><rect x="96.72" y="365.33" width="9.14" height="1.05" fill="#f2d4dc" opacity="0.68"/><rect x="97.57" y="365.33" width="7.44" height="1.05" fill="#e6251b"/><rect x="92.69" y="366.34" width="16.82" height="1.05" fill="#4a66c8" opacity="0.50"/><rect x="95.69" y="366.34" width="10.82" height="1.05" fill="#f2d4dc" opacity="0.67"/><rect x="96.54" y="366.34" width="9.13" height="1.05" fill="#e6251b"/><rect x="94.35" y="367.34" width="14.90" height="1.05" fill="#4a66c8" opacity="0.50"/><rect x="97.35" y="367.34" width="8.90" height="1.05" fill="#f2d4dc" opacity="0.67"/><rect x="98.19" y="367.34" width="7.22" height="1.05" fill="#e6251b"/><rect x="94.40" y="368.35" width="14.72" height="1.05" fill="#4a66c8" opacity="0.50"/><rect x="97.40" y="368.35" width="8.72" height="1.05" fill="#f2d4dc" opacity="0.67"/><rect x="98.24" y="368.35" width="7.05" height="1.05" fill="#e6251b"/><rect x="94.04" y="369.35" width="15.39" height="1.05" fill="#4a66c8" opacity="0.49"/><rect x="97.04" y="369.35" width="9.39" height="1.05" fill="#f2d4dc" opacity="0.67"/><rect x="97.87" y="369.35" width="7.73" height="1.05" fill="#e6251b"/><rect x="99.77" y="369.35" width="1" height="1.05" fill="#f6c0c0" opacity="0.8"/><rect x="94.24" y="370.36" width="14.70" height="1.05" fill="#4a66c8" opacity="0.49"/><rect x="97.24" y="370.36" width="8.70" height="1.05" fill="#f2d4dc" opacity="0.67"/><rect x="98.07" y="370.36" width="7.05" height="1.05" fill="#e6251b"/><rect x="100.13" y="370.36" width="1" height="1.05" fill="#f6c0c0" opacity="0.8"/><rect x="93.76" y="371.36" width="14.74" height="1.05" fill="#4a66c8" opacity="0.49"/><rect x="96.76" y="371.36" width="8.74" height="1.05" fill="#f2d4dc" opacity="0.66"/><rect x="97.59" y="371.36" width="7.09" height="1.05" fill="#e6251b"/><rect x="93.52" y="372.37" width="15.92" height="1.05" fill="#4a66c8" opacity="0.49"/><rect x="96.52" y="372.37" width="9.92" height="1.05" fill="#f2d4dc" opacity="0.66"/><rect x="97.34" y="372.37" width="8.27" height="1.05" fill="#e6251b"/><rect x="100.42" y="372.37" width="1" height="1.05" fill="#f6c0c0" opacity="0.8"/><rect x="93.04" y="373.38" width="15.61" height="1.05" fill="#4a66c8" opacity="0.49"/><rect x="96.04" y="373.38" width="9.61" height="1.05" fill="#f2d4dc" opacity="0.66"/><rect x="96.86" y="373.38" width="7.98" height="1.05" fill="#e6251b"/><rect x="100.31" y="373.38" width="1" height="1.05" fill="#f6c0c0" opacity="0.8"/><rect x="93.77" y="374.38" width="15.48" height="1.05" fill="#4a66c8" opacity="0.49"/><rect x="96.77" y="374.38" width="9.48" height="1.05" fill="#f2d4dc" opacity="0.66"/><rect x="97.59" y="374.38" width="7.85" height="1.05" fill="#e6251b"/><rect x="98.13" y="374.38" width="1" height="1.05" fill="#f6c0c0" opacity="0.8"/><rect x="94.19" y="375.39" width="15.20" height="1.05" fill="#4a66c8" opacity="0.48"/><rect x="97.19" y="375.39" width="9.20" height="1.05" fill="#f2d4dc" opacity="0.66"/><rect x="98.00" y="375.39" width="7.58" height="1.05" fill="#e6251b"/><rect x="94.39" y="376.39" width="14.69" height="1.05" fill="#4a66c8" opacity="0.48"/><rect x="97.39" y="376.39" width="8.69" height="1.05" fill="#f2d4dc" opacity="0.65"/><rect x="98.20" y="376.39" width="7.08" height="1.05" fill="#e6251b"/><rect x="100.59" y="376.39" width="1" height="1.05" fill="#f6c0c0" opacity="0.8"/><rect x="94.22" y="377.40" width="14.97" height="1.05" fill="#4a66c8" opacity="0.48"/><rect x="97.22" y="377.40" width="8.97" height="1.05" fill="#f2d4dc" opacity="0.65"/><rect x="98.03" y="377.40" width="7.37" height="1.05" fill="#e6251b"/><rect x="93.93" y="378.40" width="14.92" height="1.05" fill="#4a66c8" opacity="0.48"/><rect x="96.93" y="378.40" width="8.92" height="1.05" fill="#f2d4dc" opacity="0.65"/><rect x="97.73" y="378.40" width="7.32" height="1.05" fill="#e6251b"/><rect x="93.33" y="379.41" width="15.47" height="1.05" fill="#4a66c8" opacity="0.48"/><rect x="96.33" y="379.41" width="9.47" height="1.05" fill="#f2d4dc" opacity="0.65"/><rect x="97.13" y="379.41" width="7.88" height="1.05" fill="#e6251b"/><rect x="99.38" y="379.41" width="1" height="1.05" fill="#f6c0c0" opacity="0.8"/><rect x="93.13" y="380.41" width="15.96" height="1.05" fill="#4a66c8" opacity="0.48"/><rect x="96.13" y="380.41" width="9.96" height="1.05" fill="#f2d4dc" opacity="0.64"/><rect x="96.93" y="380.41" width="8.37" height="1.05" fill="#e6251b"/><rect x="94.50" y="381.42" width="14.54" height="1.05" fill="#4a66c8" opacity="0.47"/><rect x="97.50" y="381.42" width="8.54" height="1.05" fill="#f2d4dc" opacity="0.64"/><rect x="98.30" y="381.42" width="6.95" height="1.05" fill="#e6251b"/><rect x="93.70" y="382.42" width="15.52" height="1.05" fill="#4a66c8" opacity="0.47"/><rect x="96.70" y="382.42" width="9.52" height="1.05" fill="#f2d4dc" opacity="0.64"/><rect x="97.49" y="382.42" width="7.93" height="1.05" fill="#e6251b"/><rect x="105.31" y="382.42" width="1" height="1.05" fill="#f6c0c0" opacity="0.8"/><rect x="93.18" y="383.43" width="15.34" height="1.05" fill="#4a66c8" opacity="0.47"/><rect x="96.18" y="383.43" width="9.34" height="1.05" fill="#f2d4dc" opacity="0.64"/><rect x="96.97" y="383.43" width="7.76" height="1.05" fill="#e6251b"/><rect x="94.27" y="384.44" width="14.10" height="1.05" fill="#4a66c8" opacity="0.47"/><rect x="97.27" y="384.44" width="8.10" height="1.05" fill="#f2d4dc" opacity="0.64"/><rect x="98.06" y="384.44" width="6.52" height="1.05" fill="#e6251b"/><rect x="94.45" y="385.44" width="14.31" height="1.05" fill="#4a66c8" opacity="0.47"/><rect x="97.45" y="385.44" width="8.31" height="1.05" fill="#f2d4dc" opacity="0.63"/><rect x="98.24" y="385.44" width="6.73" height="1.05" fill="#e6251b"/><rect x="101.10" y="385.44" width="1" height="1.05" fill="#f6c0c0" opacity="0.8"/><rect x="94.54" y="386.45" width="13.57" height="1.05" fill="#4a66c8" opacity="0.47"/><rect x="97.54" y="386.45" width="7.57" height="1.05" fill="#f2d4dc" opacity="0.63"/><rect x="98.33" y="386.45" width="5.99" height="1.05" fill="#e6251b"/><rect x="100.82" y="386.45" width="1" height="1.05" fill="#f6c0c0" opacity="0.8"/><rect x="94.17" y="387.45" width="13.59" height="1.05" fill="#4a66c8" opacity="0.46"/><rect x="97.17" y="387.45" width="7.59" height="1.05" fill="#f2d4dc" opacity="0.63"/><rect x="97.96" y="387.45" width="6.01" height="1.05" fill="#e6251b"/><rect x="94.27" y="388.46" width="14.27" height="1.05" fill="#4a66c8" opacity="0.46"/><rect x="97.27" y="388.46" width="8.27" height="1.05" fill="#f2d4dc" opacity="0.63"/><rect x="98.05" y="388.46" width="6.70" height="1.05" fill="#e6251b"/><rect x="94.10" y="389.46" width="14.36" height="1.05" fill="#4a66c8" opacity="0.46"/><rect x="97.10" y="389.46" width="8.36" height="1.05" fill="#f2d4dc" opacity="0.63"/><rect x="97.88" y="389.46" width="6.79" height="1.05" fill="#e6251b"/><rect x="94.34" y="390.47" width="14.43" height="1.05" fill="#4a66c8" opacity="0.46"/><rect x="97.34" y="390.47" width="8.43" height="1.05" fill="#f2d4dc" opacity="0.62"/><rect x="98.12" y="390.47" width="6.87" height="1.05" fill="#e6251b"/><rect x="94.51" y="391.47" width="13.85" height="1.05" fill="#4a66c8" opacity="0.46"/><rect x="97.51" y="391.47" width="7.85" height="1.05" fill="#f2d4dc" opacity="0.62"/><rect x="98.30" y="391.47" width="6.29" height="1.05" fill="#e6251b"/><rect x="95.13" y="392.48" width="13.25" height="1.05" fill="#4a66c8" opacity="0.46"/><rect x="98.13" y="392.48" width="7.25" height="1.05" fill="#f2d4dc" opacity="0.62"/><rect x="98.91" y="392.48" width="5.69" height="1.05" fill="#e6251b"/><rect x="93.92" y="393.49" width="14.77" height="1.05" fill="#4a66c8" opacity="0.45"/><rect x="96.92" y="393.49" width="8.77" height="1.05" fill="#f2d4dc" opacity="0.62"/><rect x="97.70" y="393.49" width="7.22" height="1.05" fill="#e6251b"/><rect x="101.03" y="393.49" width="1" height="1.05" fill="#f6c0c0" opacity="0.8"/><rect x="94.52" y="394.49" width="14.27" height="1.05" fill="#4a66c8" opacity="0.45"/><rect x="97.52" y="394.49" width="8.27" height="1.05" fill="#f2d4dc" opacity="0.62"/><rect x="98.30" y="394.49" width="6.72" height="1.05" fill="#e6251b"/><rect x="94.47" y="395.50" width="13.16" height="1.05" fill="#4a66c8" opacity="0.45"/><rect x="97.47" y="395.50" width="7.16" height="1.05" fill="#f2d4dc" opacity="0.61"/><rect x="98.24" y="395.50" width="5.61" height="1.05" fill="#e6251b"/><rect x="99.97" y="395.50" width="1" height="1.05" fill="#f6c0c0" opacity="0.8"/><rect x="94.28" y="396.50" width="14.09" height="1.05" fill="#4a66c8" opacity="0.45"/><rect x="97.28" y="396.50" width="8.09" height="1.05" fill="#f2d4dc" opacity="0.61"/><rect x="98.05" y="396.50" width="6.54" height="1.05" fill="#e6251b"/><rect x="94.50" y="397.51" width="13.34" height="1.05" fill="#4a66c8" opacity="0.45"/><rect x="97.50" y="397.51" width="7.34" height="1.05" fill="#f2d4dc" opacity="0.61"/><rect x="98.28" y="397.51" width="5.80" height="1.05" fill="#e6251b"/><rect x="94.14" y="398.51" width="13.62" height="1.05" fill="#4a66c8" opacity="0.45"/><rect x="97.14" y="398.51" width="7.62" height="1.05" fill="#f2d4dc" opacity="0.61"/><rect x="97.91" y="398.51" width="6.08" height="1.05" fill="#e6251b"/><rect x="93.75" y="399.52" width="14.31" height="1.05" fill="#4a66c8" opacity="0.44"/><rect x="96.75" y="399.52" width="8.31" height="1.05" fill="#f2d4dc" opacity="0.61"/><rect x="97.52" y="399.52" width="6.77" height="1.05" fill="#e6251b"/><rect x="94.90" y="400.52" width="12.98" height="1.05" fill="#4a66c8" opacity="0.44"/><rect x="97.90" y="400.52" width="6.98" height="1.05" fill="#f2d4dc" opacity="0.60"/><rect x="98.67" y="400.52" width="5.44" height="1.05" fill="#e8463c"/><rect x="101.90" y="400.52" width="1" height="1.05" fill="#f6c0c0" opacity="0.8"/><rect x="94.56" y="401.53" width="13.15" height="1.05" fill="#4a66c8" opacity="0.44"/><rect x="97.56" y="401.53" width="7.15" height="1.05" fill="#f2d4dc" opacity="0.60"/><rect x="98.33" y="401.53" width="5.62" height="1.05" fill="#e8463c"/><rect x="95.11" y="402.54" width="13.00" height="1.05" fill="#4a66c8" opacity="0.44"/><rect x="98.11" y="402.54" width="7.00" height="1.05" fill="#f2d4dc" opacity="0.60"/><rect x="98.88" y="402.54" width="5.47" height="1.05" fill="#e8463c"/><rect x="94.63" y="403.54" width="13.25" height="1.05" fill="#4a66c8" opacity="0.44"/><rect x="97.63" y="403.54" width="7.25" height="1.05" fill="#f2d4dc" opacity="0.60"/><rect x="98.40" y="403.54" width="5.72" height="1.05" fill="#e8463c"/><rect x="94.16" y="404.55" width="13.85" height="1.05" fill="#4a66c8" opacity="0.44"/><rect x="97.16" y="404.55" width="7.85" height="1.05" fill="#f2d4dc" opacity="0.60"/><rect x="97.92" y="404.55" width="6.33" height="1.05" fill="#e8463c"/><rect x="102.19" y="404.55" width="1" height="1.05" fill="#f6c0c0" opacity="0.8"/><rect x="95.36" y="405.55" width="12.84" height="1.05" fill="#4a66c8" opacity="0.43"/><rect x="98.36" y="405.55" width="6.84" height="1.05" fill="#f2d4dc" opacity="0.59"/><rect x="99.13" y="405.55" width="5.32" height="1.05" fill="#e8463c"/><rect x="94.13" y="406.56" width="13.46" height="1.05" fill="#4a66c8" opacity="0.43"/><rect x="97.13" y="406.56" width="7.46" height="1.05" fill="#f2d4dc" opacity="0.59"/><rect x="97.89" y="406.56" width="5.94" height="1.05" fill="#e8463c"/><rect x="94.65" y="407.56" width="12.85" height="1.05" fill="#4a66c8" opacity="0.43"/><rect x="97.65" y="407.56" width="6.85" height="1.05" fill="#f2d4dc" opacity="0.59"/><rect x="98.41" y="407.56" width="5.33" height="1.05" fill="#e8463c"/><rect x="99.89" y="407.56" width="1" height="1.05" fill="#f6c0c0" opacity="0.8"/><rect x="94.82" y="408.57" width="12.17" height="1.05" fill="#4a66c8" opacity="0.43"/><rect x="97.82" y="408.57" width="6.17" height="1.05" fill="#f2d4dc" opacity="0.59"/><rect x="98.58" y="408.57" width="4.65" height="1.05" fill="#e8463c"/><rect x="94.09" y="409.57" width="13.44" height="1.05" fill="#4a66c8" opacity="0.43"/><rect x="97.09" y="409.57" width="7.44" height="1.05" fill="#f2d4dc" opacity="0.58"/><rect x="97.85" y="409.57" width="5.92" height="1.05" fill="#e8463c"/><rect x="99.66" y="409.57" width="1" height="1.05" fill="#f6c0c0" opacity="0.8"/><rect x="95.36" y="410.58" width="12.23" height="1.05" fill="#4a66c8" opacity="0.43"/><rect x="98.36" y="410.58" width="6.23" height="1.05" fill="#f2d4dc" opacity="0.58"/><rect x="99.11" y="410.58" width="4.72" height="1.05" fill="#e8463c"/><rect x="95.66" y="411.58" width="12.19" height="1.05" fill="#4a66c8" opacity="0.42"/><rect x="98.66" y="411.58" width="6.19" height="1.05" fill="#f2d4dc" opacity="0.58"/><rect x="99.41" y="411.58" width="4.68" height="1.05" fill="#e8463c"/><rect x="95.26" y="412.59" width="11.95" height="1.05" fill="#4a66c8" opacity="0.42"/><rect x="98.26" y="412.59" width="5.95" height="1.05" fill="#f2d4dc" opacity="0.58"/><rect x="99.01" y="412.59" width="4.44" height="1.05" fill="#e8463c"/><rect x="100.76" y="412.59" width="1" height="1.05" fill="#f6c0c0" opacity="0.8"/><rect x="94.85" y="413.60" width="12.17" height="1.05" fill="#4a66c8" opacity="0.42"/><rect x="97.85" y="413.60" width="6.17" height="1.05" fill="#f2d4dc" opacity="0.58"/><rect x="98.60" y="413.60" width="4.67" height="1.05" fill="#e8463c"/><rect x="95.56" y="414.60" width="12.01" height="1.05" fill="#4a66c8" opacity="0.42"/><rect x="98.56" y="414.60" width="6.01" height="1.05" fill="#f2d4dc" opacity="0.57"/><rect x="99.31" y="414.60" width="4.51" height="1.05" fill="#e8463c"/><rect x="95.18" y="415.61" width="11.68" height="1.05" fill="#4a66c8" opacity="0.42"/><rect x="98.18" y="415.61" width="5.68" height="1.05" fill="#f2d4dc" opacity="0.57"/><rect x="98.92" y="415.61" width="4.18" height="1.05" fill="#e8463c"/><rect x="95.70" y="416.61" width="11.58" height="1.05" fill="#4a66c8" opacity="0.42"/><rect x="98.70" y="416.61" width="5.58" height="1.05" fill="#f2d4dc" opacity="0.57"/><rect x="99.45" y="416.61" width="4.08" height="1.05" fill="#e8463c"/><rect x="95.09" y="417.62" width="11.54" height="1.05" fill="#4a66c8" opacity="0.41"/><rect x="98.09" y="417.62" width="5.54" height="1.05" fill="#f2d4dc" opacity="0.57"/><rect x="98.84" y="417.62" width="4.05" height="1.05" fill="#e8463c"/><rect x="95.06" y="418.62" width="12.60" height="1.05" fill="#4a66c8" opacity="0.41"/><rect x="98.06" y="418.62" width="6.60" height="1.05" fill="#f2d4dc" opacity="0.57"/><rect x="98.80" y="418.62" width="5.11" height="1.05" fill="#e8463c"/><rect x="94.97" y="419.63" width="11.67" height="1.05" fill="#4a66c8" opacity="0.41"/><rect x="97.97" y="419.63" width="5.67" height="1.05" fill="#f2d4dc" opacity="0.56"/><rect x="98.71" y="419.63" width="4.18" height="1.05" fill="#e8463c"/><rect x="94.84" y="420.63" width="11.98" height="1.05" fill="#4a66c8" opacity="0.41"/><rect x="97.84" y="420.63" width="5.98" height="1.05" fill="#f2d4dc" opacity="0.56"/><rect x="98.58" y="420.63" width="4.50" height="1.05" fill="#e8463c"/><rect x="95.91" y="421.64" width="11.26" height="1.05" fill="#4a66c8" opacity="0.41"/><rect x="98.91" y="421.64" width="5.26" height="1.05" fill="#f2d4dc" opacity="0.56"/><rect x="99.65" y="421.64" width="3.78" height="1.05" fill="#ee8a86"/><rect x="96.16" y="422.65" width="11.13" height="1.05" fill="#4a66c8" opacity="0.41"/><rect x="99.16" y="422.65" width="5.13" height="1.05" fill="#f2d4dc" opacity="0.56"/><rect x="99.90" y="422.65" width="3.65" height="1.05" fill="#ee8a86"/><rect x="102.06" y="422.65" width="1" height="1.05" fill="#f6c0c0" opacity="0.8"/><rect x="94.91" y="423.65" width="12.04" height="1.05" fill="#4a66c8" opacity="0.40"/><rect x="97.91" y="423.65" width="6.04" height="1.05" fill="#f2d4dc" opacity="0.56"/><rect x="98.64" y="423.65" width="4.57" height="1.05" fill="#ee8a86"/><rect x="95.91" y="424.66" width="11.32" height="1.05" fill="#4a66c8" opacity="0.40"/><rect x="98.91" y="424.66" width="5.32" height="1.05" fill="#f2d4dc" opacity="0.55"/><rect x="99.64" y="424.66" width="3.84" height="1.05" fill="#ee8a86"/><rect x="95.51" y="425.66" width="11.04" height="1.05" fill="#4a66c8" opacity="0.40"/><rect x="98.51" y="425.66" width="5.04" height="1.05" fill="#f2d4dc" opacity="0.55"/><rect x="99.24" y="425.66" width="3.57" height="1.05" fill="#ee8a86"/><rect x="101.95" y="425.66" width="1" height="1.05" fill="#f6c0c0" opacity="0.8"/><rect x="95.85" y="426.67" width="11.64" height="1.05" fill="#4a66c8" opacity="0.40"/><rect x="98.85" y="426.67" width="5.64" height="1.05" fill="#f2d4dc" opacity="0.55"/><rect x="99.59" y="426.67" width="4.17" height="1.05" fill="#ee8a86"/><rect x="95.77" y="427.67" width="11.22" height="1.05" fill="#4a66c8" opacity="0.40"/><rect x="98.77" y="427.67" width="5.22" height="1.05" fill="#f2d4dc" opacity="0.55"/><rect x="99.50" y="427.67" width="3.76" height="1.05" fill="#ee8a86"/><rect x="102.81" y="427.67" width="1" height="1.05" fill="#f6c0c0" opacity="0.8"/><rect x="96.11" y="428.68" width="11.35" height="1.05" fill="#4a66c8" opacity="0.40"/><rect x="99.11" y="428.68" width="5.35" height="1.05" fill="#f2d4dc" opacity="0.55"/><rect x="99.84" y="428.68" width="3.89" height="1.05" fill="#ee8a86"/><rect x="96.18" y="429.68" width="10.72" height="1.05" fill="#4a66c8" opacity="0.39"/><rect x="99.18" y="429.68" width="4.72" height="1.05" fill="#f2d4dc" opacity="0.54"/><rect x="99.91" y="429.68" width="3.26" height="1.05" fill="#ee8a86"/><rect x="96.27" y="430.69" width="10.70" height="1.05" fill="#4a66c8" opacity="0.39"/><rect x="99.27" y="430.69" width="4.70" height="1.05" fill="#f2d4dc" opacity="0.54"/><rect x="100.00" y="430.69" width="3.25" height="1.05" fill="#ee8a86"/><rect x="103.07" y="430.69" width="1" height="1.05" fill="#f6c0c0" opacity="0.8"/><rect x="95.92" y="431.70" width="10.45" height="1.05" fill="#4a66c8" opacity="0.39"/><rect x="98.92" y="431.70" width="4.45" height="1.05" fill="#f2d4dc" opacity="0.54"/><rect x="99.65" y="431.70" width="3.00" height="1.05" fill="#ee8a86"/><rect x="102.08" y="431.70" width="1" height="1.05" fill="#f6c0c0" opacity="0.8"/><rect x="95.95" y="432.70" width="10.21" height="1.05" fill="#4a66c8" opacity="0.39"/><rect x="98.95" y="432.70" width="4.21" height="1.05" fill="#f2d4dc" opacity="0.54"/><rect x="99.68" y="432.70" width="2.76" height="1.05" fill="#ee8a86"/><rect x="95.54" y="433.71" width="10.63" height="1.05" fill="#4a66c8" opacity="0.39"/><rect x="98.54" y="433.71" width="4.63" height="1.05" fill="#f2d4dc" opacity="0.54"/><rect x="96.66" y="434.71" width="10.15" height="1.05" fill="#4a66c8" opacity="0.39"/><rect x="99.66" y="434.71" width="4.15" height="1.05" fill="#f2d4dc" opacity="0.53"/><rect x="96.32" y="435.72" width="10.46" height="1.05" fill="#4a66c8" opacity="0.38"/><rect x="99.32" y="435.72" width="4.46" height="1.05" fill="#f2d4dc" opacity="0.53"/><rect x="96.13" y="436.72" width="10.13" height="1.05" fill="#4a66c8" opacity="0.38"/><rect x="99.13" y="436.72" width="4.13" height="1.05" fill="#f2d4dc" opacity="0.53"/><rect x="96.34" y="437.73" width="9.86" height="1.05" fill="#4a66c8" opacity="0.38"/><rect x="99.34" y="437.73" width="3.86" height="1.05" fill="#f2d4dc" opacity="0.53"/><rect x="95.98" y="438.73" width="9.96" height="1.05" fill="#4a66c8" opacity="0.38"/><rect x="98.98" y="438.73" width="3.96" height="1.05" fill="#f2d4dc" opacity="0.52"/><rect x="96.12" y="439.74" width="9.50" height="1.05" fill="#4a66c8" opacity="0.38"/><rect x="99.12" y="439.74" width="3.50" height="1.05" fill="#f2d4dc" opacity="0.52"/><rect x="99.30" y="440.74" width="4" height="1.05" fill="#6f86d8" opacity="0.50"/><rect x="99.30" y="441.75" width="4" height="1.05" fill="#6f86d8" opacity="0.50"/><rect x="99.30" y="442.76" width="4" height="1.05" fill="#6f86d8" opacity="0.50"/><rect x="99.30" y="443.76" width="4" height="1.05" fill="#6f86d8" opacity="0.50"/><rect x="99.30" y="444.77" width="4" height="1.05" fill="#6f86d8" opacity="0.50"/><rect x="99.30" y="445.77" width="4" height="1.05" fill="#6f86d8" opacity="0.50"/><rect x="99.30" y="446.78" width="4" height="1.05" fill="#6f86d8" opacity="0.50"/><rect x="99.30" y="447.78" width="4" height="1.05" fill="#6f86d8" opacity="0.50"/><rect x="99.30" y="448.79" width="4" height="1.05" fill="#6f86d8" opacity="0.50"/><rect x="99.30" y="449.79" width="4" height="1.05" fill="#6f86d8" opacity="0.50"/><rect x="129.2" y="305" width="49.80000000000001" height="145.8" fill="#27328a"/><g shape-rendering="crispEdges"><rect x="129.2" y="307.7" width="49.80000000000001" height="0.8" fill="#2f3d9c" opacity="0.29"/><rect x="129.2" y="309.7" width="49.80000000000001" height="1.0" fill="#1c2268" opacity="0.44"/><rect x="129.2" y="311.7" width="49.80000000000001" height="1.5" fill="#2f3d9c" opacity="0.28"/><rect x="129.2" y="313.2" width="49.80000000000001" height="1.0" fill="#1c2268" opacity="0.23"/><rect x="129.2" y="314.2" width="49.80000000000001" height="1.2" fill="#1c2268" opacity="0.43"/><rect x="129.2" y="315.4" width="49.80000000000001" height="1.0" fill="#2f3d9c" opacity="0.19"/><rect x="129.2" y="320.7" width="49.80000000000001" height="1.5" fill="#2f3d9c" opacity="0.24"/><rect x="129.2" y="322.2" width="49.80000000000001" height="0.8" fill="#2f3d9c" opacity="0.23"/><rect x="129.2" y="323.0" width="49.80000000000001" height="1.0" fill="#1c2268" opacity="0.42"/><rect x="129.2" y="325.6" width="49.80000000000001" height="0.8" fill="#2f3d9c" opacity="0.22"/><rect x="129.2" y="327.4" width="49.80000000000001" height="1.2" fill="#2f3d9c" opacity="0.32"/><rect x="129.2" y="329.8" width="49.80000000000001" height="1.5" fill="#1c2268" opacity="0.28"/><rect x="129.2" y="331.3" width="49.80000000000001" height="1.5" fill="#2f3d9c" opacity="0.26"/><rect x="129.2" y="332.8" width="49.80000000000001" height="1.2" fill="#2f3d9c" opacity="0.16"/><rect x="129.2" y="336.2" width="49.80000000000001" height="1.2" fill="#1c2268" opacity="0.28"/><rect x="129.2" y="337.4" width="49.80000000000001" height="1.0" fill="#2f3d9c" opacity="0.29"/><rect x="129.2" y="338.4" width="49.80000000000001" height="1.2" fill="#1c2268" opacity="0.21"/><rect x="129.2" y="339.6" width="49.80000000000001" height="1.2" fill="#1c2268" opacity="0.29"/><rect x="129.2" y="347.1" width="49.80000000000001" height="1.5" fill="#1c2268" opacity="0.35"/><rect x="129.2" y="348.6" width="49.80000000000001" height="1.2" fill="#1c2268" opacity="0.37"/><rect x="129.2" y="349.8" width="49.80000000000001" height="1.5" fill="#1c2268" opacity="0.39"/><rect x="129.2" y="352.1" width="49.80000000000001" height="1.0" fill="#1c2268" opacity="0.30"/><rect x="129.2" y="353.1" width="49.80000000000001" height="1.0" fill="#2f3d9c" opacity="0.30"/><rect x="129.2" y="354.1" width="49.80000000000001" height="1.5" fill="#1c2268" opacity="0.42"/><rect x="129.2" y="355.6" width="49.80000000000001" height="0.8" fill="#1c2268" opacity="0.45"/><rect x="129.2" y="357.6" width="49.80000000000001" height="1.5" fill="#2f3d9c" opacity="0.24"/><rect x="129.2" y="361.8" width="49.80000000000001" height="1.0" fill="#1c2268" opacity="0.29"/><rect x="129.2" y="363.8" width="49.80000000000001" height="1.5" fill="#1c2268" opacity="0.44"/><rect x="129.2" y="365.3" width="49.80000000000001" height="1.5" fill="#1c2268" opacity="0.41"/><rect x="129.2" y="366.8" width="49.80000000000001" height="1.0" fill="#1c2268" opacity="0.44"/><rect x="129.2" y="367.8" width="49.80000000000001" height="1.5" fill="#2f3d9c" opacity="0.21"/><rect x="129.2" y="369.3" width="49.80000000000001" height="1.2" fill="#2f3d9c" opacity="0.18"/><rect x="129.2" y="370.5" width="49.80000000000001" height="1.0" fill="#1c2268" opacity="0.40"/><rect x="129.2" y="373.5" width="49.80000000000001" height="0.8" fill="#1c2268" opacity="0.24"/><rect x="129.2" y="374.3" width="49.80000000000001" height="1.0" fill="#1c2268" opacity="0.34"/><rect x="129.2" y="375.3" width="49.80000000000001" height="1.5" fill="#1c2268" opacity="0.28"/><rect x="129.2" y="379.3" width="49.80000000000001" height="0.8" fill="#1c2268" opacity="0.26"/><rect x="129.2" y="381.1" width="49.80000000000001" height="1.5" fill="#1c2268" opacity="0.22"/><rect x="129.2" y="382.6" width="49.80000000000001" height="1.0" fill="#1c2268" opacity="0.25"/><rect x="129.2" y="383.6" width="49.80000000000001" height="1.2" fill="#2f3d9c" opacity="0.30"/><rect x="129.2" y="386.3" width="49.80000000000001" height="0.8" fill="#1c2268" opacity="0.30"/><rect x="129.2" y="389.6" width="49.80000000000001" height="1.2" fill="#1c2268" opacity="0.28"/><rect x="129.2" y="390.8" width="49.80000000000001" height="0.8" fill="#1c2268" opacity="0.40"/><rect x="129.2" y="394.3" width="49.80000000000001" height="0.8" fill="#2f3d9c" opacity="0.19"/><rect x="129.2" y="395.1" width="49.80000000000001" height="1.0" fill="#2f3d9c" opacity="0.23"/><rect x="129.2" y="396.1" width="49.80000000000001" height="1.5" fill="#1c2268" opacity="0.27"/><rect x="129.2" y="402.3" width="49.80000000000001" height="1.5" fill="#1c2268" opacity="0.20"/><rect x="129.2" y="403.8" width="49.80000000000001" height="1.2" fill="#1c2268" opacity="0.35"/><rect x="129.2" y="406.2" width="49.80000000000001" height="1.2" fill="#1c2268" opacity="0.29"/><rect x="129.2" y="409.6" width="49.80000000000001" height="1.0" fill="#1c2268" opacity="0.22"/><rect x="129.2" y="410.6" width="49.80000000000001" height="1.5" fill="#1c2268" opacity="0.34"/><rect x="129.2" y="412.1" width="49.80000000000001" height="1.0" fill="#1c2268" opacity="0.28"/><rect x="129.2" y="414.3" width="49.80000000000001" height="1.5" fill="#1c2268" opacity="0.26"/><rect x="129.2" y="415.8" width="49.80000000000001" height="1.2" fill="#1c2268" opacity="0.41"/><rect x="129.2" y="417.0" width="49.80000000000001" height="1.0" fill="#1c2268" opacity="0.32"/><rect x="129.2" y="418.0" width="49.80000000000001" height="1.2" fill="#2f3d9c" opacity="0.16"/><rect x="129.2" y="419.2" width="49.80000000000001" height="1.0" fill="#1c2268" opacity="0.29"/><rect x="129.2" y="421.4" width="49.80000000000001" height="1.5" fill="#2f3d9c" opacity="0.17"/><rect x="129.2" y="423.7" width="49.80000000000001" height="1.0" fill="#1c2268" opacity="0.26"/><rect x="129.2" y="426.2" width="49.80000000000001" height="1.5" fill="#1c2268" opacity="0.32"/><rect x="129.2" y="427.7" width="49.80000000000001" height="0.8" fill="#1c2268" opacity="0.37"/><rect x="129.2" y="432.5" width="49.80000000000001" height="1.0" fill="#1c2268" opacity="0.25"/><rect x="129.2" y="435.5" width="49.80000000000001" height="1.5" fill="#2f3d9c" opacity="0.24"/><rect x="129.2" y="437.0" width="49.80000000000001" height="1.2" fill="#1c2268" opacity="0.25"/><rect x="129.2" y="438.2" width="49.80000000000001" height="1.5" fill="#2f3d9c" opacity="0.25"/><rect x="129.2" y="439.7" width="49.80000000000001" height="1.5" fill="#2f3d9c" opacity="0.20"/><rect x="129.2" y="441.2" width="49.80000000000001" height="0.8" fill="#2f3d9c" opacity="0.18"/><rect x="129.2" y="442.0" width="49.80000000000001" height="1.5" fill="#1c2268" opacity="0.32"/><rect x="129.2" y="444.5" width="49.80000000000001" height="1.2" fill="#2f3d9c" opacity="0.33"/><rect x="129.2" y="445.7" width="49.80000000000001" height="1.2" fill="#2f3d9c" opacity="0.16"/><rect x="129.2" y="447.9" width="49.80000000000001" height="1.0" fill="#2f3d9c" opacity="0.27"/><rect x="129.2" y="448.9" width="49.80000000000001" height="1.5" fill="#2f3d9c" opacity="0.20"/></g><rect x="148.90" y="305" width="10" height="145.8" fill="#3d58bd" opacity="0.35"/><rect x="145.55" y="305.00" width="16.83" height="1.05" fill="#5d75d2" opacity="0.50"/><rect x="147.75" y="305.00" width="12.43" height="1.05" fill="#f1e4f0" opacity="0.96"/><rect x="150.48" y="305.00" width="6.83" height="1.05" fill="#e4484c" opacity="0.85"/><rect x="146.30" y="306.01" width="15.98" height="1.05" fill="#5d75d2" opacity="0.50"/><rect x="148.50" y="306.01" width="11.58" height="1.05" fill="#f1e4f0" opacity="0.52"/><rect x="150.72" y="306.01" width="6.37" height="1.05" fill="#e4484c" opacity="0.80"/><rect x="146.57" y="307.01" width="15.04" height="1.05" fill="#5d75d2" opacity="0.50"/><rect x="148.77" y="307.01" width="10.64" height="1.05" fill="#f1e4f0" opacity="0.59"/><rect x="150.97" y="307.01" width="5.85" height="1.05" fill="#e4484c" opacity="0.76"/><rect x="146.27" y="308.02" width="14.15" height="1.05" fill="#5d75d2" opacity="0.50"/><rect x="148.47" y="308.02" width="9.75" height="1.05" fill="#f1e4f0" opacity="0.90"/><rect x="151.22" y="308.02" width="5.36" height="1.05" fill="#e4484c" opacity="0.71"/><rect x="146.70" y="309.02" width="13.81" height="1.05" fill="#5d75d2" opacity="0.50"/><rect x="148.90" y="309.02" width="9.41" height="1.05" fill="#f1e4f0" opacity="0.51"/><rect x="151.31" y="309.02" width="5.18" height="1.05" fill="#e4484c" opacity="0.67"/><rect x="146.36" y="310.03" width="14.94" height="1.05" fill="#5d75d2" opacity="0.50"/><rect x="148.56" y="310.03" width="10.54" height="1.05" fill="#f1e4f0" opacity="0.87"/><rect x="151.00" y="310.03" width="5.80" height="1.05" fill="#e4484c" opacity="0.62"/><rect x="147.72" y="311.03" width="12.85" height="1.05" fill="#5d75d2" opacity="0.50"/><rect x="149.92" y="311.03" width="8.45" height="1.05" fill="#f1e4f0" opacity="0.58"/><rect x="151.58" y="311.03" width="4.65" height="1.05" fill="#e4484c" opacity="0.58"/><rect x="146.81" y="312.04" width="13.38" height="1.05" fill="#5d75d2" opacity="0.50"/><rect x="149.01" y="312.04" width="8.98" height="1.05" fill="#f1e4f0" opacity="0.61"/><rect x="151.43" y="312.04" width="4.94" height="1.05" fill="#e4484c" opacity="0.53"/><rect x="147.88" y="313.04" width="12.13" height="1.05" fill="#5d75d2" opacity="0.50"/><rect x="150.08" y="313.04" width="7.73" height="1.05" fill="#f1e4f0" opacity="0.65"/><rect x="151.77" y="313.04" width="4.25" height="1.05" fill="#e4484c" opacity="0.49"/><rect x="147.55" y="314.05" width="12.03" height="1.05" fill="#5d75d2" opacity="0.50"/><rect x="149.75" y="314.05" width="7.63" height="1.05" fill="#f1e4f0" opacity="0.87"/><rect x="151.80" y="314.05" width="4.20" height="1.05" fill="#e4484c" opacity="0.44"/><rect x="147.82" y="315.06" width="11.90" height="1.05" fill="#5d75d2" opacity="0.50"/><rect x="150.02" y="315.06" width="7.50" height="1.05" fill="#f1e4f0" opacity="0.95"/><rect x="151.84" y="315.06" width="4.13" height="1.05" fill="#e4484c" opacity="0.40"/><rect x="147.71" y="316.06" width="13.01" height="1.05" fill="#5d75d2" opacity="0.50"/><rect x="149.91" y="316.06" width="8.61" height="1.05" fill="#f1e4f0" opacity="0.69"/><rect x="151.53" y="316.06" width="4.74" height="1.05" fill="#e4484c" opacity="0.35"/><rect x="147.71" y="317.07" width="13.12" height="1.05" fill="#5d75d2" opacity="0.50"/><rect x="149.91" y="317.07" width="8.72" height="1.05" fill="#f1e4f0" opacity="0.49"/><rect x="151.50" y="317.07" width="4.80" height="1.05" fill="#e4484c" opacity="0.31"/><rect x="147.40" y="318.07" width="12.53" height="1.05" fill="#5d75d2" opacity="0.50"/><rect x="149.60" y="318.07" width="8.13" height="1.05" fill="#f1e4f0" opacity="0.74"/><rect x="151.66" y="318.07" width="4.47" height="1.05" fill="#e4484c" opacity="0.26"/><rect x="147.86" y="319.08" width="12.00" height="1.05" fill="#5d75d2" opacity="0.50"/><rect x="150.06" y="319.08" width="7.60" height="1.05" fill="#f1e4f0" opacity="0.74"/><rect x="151.81" y="319.08" width="4.18" height="1.05" fill="#e4484c" opacity="0.22"/><rect x="147.88" y="320.08" width="12.88" height="1.05" fill="#5d75d2" opacity="0.50"/><rect x="150.08" y="320.08" width="8.48" height="1.05" fill="#f1e4f0" opacity="0.84"/><rect x="151.57" y="320.08" width="4.67" height="1.05" fill="#e4484c" opacity="0.17"/><rect x="148.65" y="321.09" width="11.64" height="1.05" fill="#5d75d2" opacity="0.50"/><rect x="150.85" y="321.09" width="7.24" height="1.05" fill="#f1e4f0" opacity="0.61"/><rect x="151.91" y="321.09" width="3.98" height="1.05" fill="#e4484c" opacity="0.13"/><rect x="148.17" y="322.09" width="11.38" height="1.05" fill="#5d75d2" opacity="0.50"/><rect x="150.37" y="322.09" width="6.98" height="1.05" fill="#f1e4f0" opacity="0.87"/><rect x="151.98" y="322.09" width="3.84" height="1.05" fill="#e4484c" opacity="0.08"/><rect x="148.58" y="323.10" width="10.78" height="1.05" fill="#5d75d2" opacity="0.50"/><rect x="150.78" y="323.10" width="6.38" height="1.05" fill="#f1e4f0" opacity="0.94"/><rect x="152.15" y="323.10" width="3.51" height="1.05" fill="#e4484c" opacity="0.04"/><rect x="148.41" y="324.10" width="10.47" height="1.05" fill="#5d75d2" opacity="0.50"/><rect x="150.61" y="324.10" width="6.07" height="1.05" fill="#f1e4f0" opacity="0.75"/><rect x="148.41" y="325.11" width="10.91" height="1.05" fill="#5d75d2" opacity="0.50"/><rect x="150.61" y="325.11" width="6.51" height="1.05" fill="#f1e4f0" opacity="0.80"/><rect x="148.29" y="326.12" width="10.88" height="1.05" fill="#5d75d2" opacity="0.50"/><rect x="150.49" y="326.12" width="6.48" height="1.05" fill="#f1e4f0" opacity="0.74"/><rect x="147.96" y="327.12" width="11.66" height="1.05" fill="#5d75d2" opacity="0.50"/><rect x="150.16" y="327.12" width="7.26" height="1.05" fill="#f1e4f0" opacity="0.51"/><rect x="148.09" y="328.13" width="11.46" height="1.05" fill="#5d75d2" opacity="0.50"/><rect x="150.29" y="328.13" width="7.06" height="1.05" fill="#f1e4f0" opacity="0.66"/><rect x="148.26" y="329.13" width="10.35" height="1.05" fill="#5d75d2" opacity="0.50"/><rect x="150.46" y="329.13" width="5.95" height="1.05" fill="#f1e4f0" opacity="0.94"/><rect x="148.08" y="330.14" width="11.57" height="1.05" fill="#5d75d2" opacity="0.50"/><rect x="150.28" y="330.14" width="7.17" height="1.05" fill="#f1e4f0" opacity="0.67"/><rect x="148.07" y="331.14" width="11.73" height="1.05" fill="#5d75d2" opacity="0.50"/><rect x="150.27" y="331.14" width="7.33" height="1.05" fill="#f1e4f0" opacity="0.69"/><rect x="148.28" y="332.15" width="11.81" height="1.05" fill="#5d75d2" opacity="0.50"/><rect x="150.48" y="332.15" width="7.41" height="1.05" fill="#f1e4f0" opacity="0.73"/><rect x="148.52" y="333.15" width="11.57" height="1.05" fill="#5d75d2" opacity="0.50"/><rect x="150.72" y="333.15" width="7.17" height="1.05" fill="#f1e4f0" opacity="0.72"/><rect x="148.25" y="334.16" width="10.25" height="1.05" fill="#5d75d2" opacity="0.50"/><rect x="150.45" y="334.16" width="5.85" height="1.05" fill="#f1e4f0" opacity="0.71"/><rect x="148.93" y="335.17" width="10.72" height="1.05" fill="#5d75d2" opacity="0.50"/><rect x="151.13" y="335.17" width="6.32" height="1.05" fill="#f1e4f0" opacity="0.62"/><rect x="148.57" y="336.17" width="9.97" height="1.05" fill="#5d75d2" opacity="0.50"/><rect x="150.77" y="336.17" width="5.57" height="1.05" fill="#f1e4f0" opacity="0.51"/><rect x="148.18" y="337.18" width="11.12" height="1.05" fill="#5d75d2" opacity="0.50"/><rect x="150.38" y="337.18" width="6.72" height="1.05" fill="#f1e4f0" opacity="0.51"/><rect x="148.08" y="338.18" width="10.82" height="1.05" fill="#5d75d2" opacity="0.50"/><rect x="150.28" y="338.18" width="6.42" height="1.05" fill="#f1e4f0" opacity="0.73"/><rect x="149.38" y="339.19" width="10.05" height="1.05" fill="#5d75d2" opacity="0.50"/><rect x="151.58" y="339.19" width="5.65" height="1.05" fill="#f1e4f0" opacity="0.91"/><rect x="148.74" y="340.19" width="10.21" height="1.05" fill="#5d75d2" opacity="0.50"/><rect x="150.94" y="340.19" width="5.81" height="1.05" fill="#f1e4f0" opacity="0.60"/><rect x="148.96" y="341.20" width="11.03" height="1.05" fill="#5d75d2" opacity="0.50"/><rect x="151.16" y="341.20" width="6.63" height="1.05" fill="#f1e4f0" opacity="0.50"/><rect x="148.47" y="342.20" width="10.98" height="1.05" fill="#5d75d2" opacity="0.50"/><rect x="150.67" y="342.20" width="6.58" height="1.05" fill="#f1e4f0" opacity="0.90"/><rect x="148.32" y="343.21" width="10.24" height="1.05" fill="#5d75d2" opacity="0.50"/><rect x="150.52" y="343.21" width="5.84" height="1.05" fill="#f1e4f0" opacity="0.52"/><rect x="148.70" y="344.22" width="10.35" height="1.05" fill="#5d75d2" opacity="0.50"/><rect x="150.90" y="344.22" width="5.95" height="1.05" fill="#f1e4f0" opacity="0.58"/><rect x="148.84" y="345.22" width="10.61" height="1.05" fill="#5d75d2" opacity="0.50"/><rect x="151.04" y="345.22" width="6.21" height="1.05" fill="#f1e4f0" opacity="0.73"/><rect x="149.47" y="346.23" width="9.41" height="1.05" fill="#5d75d2" opacity="0.50"/><rect x="151.67" y="346.23" width="5.01" height="1.05" fill="#f1e4f0" opacity="0.71"/><rect x="149.15" y="347.23" width="10.41" height="1.05" fill="#5d75d2" opacity="0.50"/><rect x="151.35" y="347.23" width="6.01" height="1.05" fill="#f1e4f0" opacity="0.55"/><rect x="148.92" y="348.24" width="9.96" height="1.05" fill="#5d75d2" opacity="0.50"/><rect x="151.12" y="348.24" width="5.56" height="1.05" fill="#f1e4f0" opacity="0.88"/><rect x="148.70" y="349.24" width="10.43" height="1.05" fill="#5d75d2" opacity="0.50"/><rect x="150.90" y="349.24" width="6.03" height="1.05" fill="#f1e4f0" opacity="0.70"/><rect x="149.16" y="350.25" width="9.55" height="1.05" fill="#5d75d2" opacity="0.50"/><rect x="151.36" y="350.25" width="5.15" height="1.05" fill="#f1e4f0" opacity="0.56"/><rect x="149.45" y="351.25" width="9.51" height="1.05" fill="#5d75d2" opacity="0.50"/><rect x="151.65" y="351.25" width="5.11" height="1.05" fill="#f1e4f0" opacity="0.45"/><rect x="148.24" y="352.26" width="10.39" height="1.05" fill="#5d75d2" opacity="0.50"/><rect x="150.44" y="352.26" width="5.99" height="1.05" fill="#f1e4f0" opacity="0.47"/><rect x="149.08" y="353.26" width="9.54" height="1.05" fill="#5d75d2" opacity="0.50"/><rect x="151.28" y="353.26" width="5.14" height="1.05" fill="#f1e4f0" opacity="0.69"/><rect x="149.19" y="354.27" width="9.97" height="1.05" fill="#5d75d2" opacity="0.50"/><rect x="151.39" y="354.27" width="5.57" height="1.05" fill="#f1e4f0" opacity="0.77"/><rect x="149.03" y="355.28" width="9.51" height="1.05" fill="#5d75d2" opacity="0.50"/><rect x="151.23" y="355.28" width="5.11" height="1.05" fill="#f1e4f0" opacity="0.62"/><rect x="148.82" y="356.28" width="9.60" height="1.05" fill="#5d75d2" opacity="0.50"/><rect x="151.02" y="356.28" width="5.20" height="1.05" fill="#f1e4f0" opacity="0.53"/><rect x="149.48" y="357.29" width="8.97" height="1.05" fill="#5d75d2" opacity="0.50"/><rect x="151.68" y="357.29" width="4.57" height="1.05" fill="#f1e4f0" opacity="0.66"/><rect x="148.39" y="358.29" width="9.85" height="1.05" fill="#5d75d2" opacity="0.50"/><rect x="150.59" y="358.29" width="5.45" height="1.05" fill="#f1e4f0" opacity="0.59"/><rect x="148.53" y="359.30" width="9.72" height="1.05" fill="#5d75d2" opacity="0.50"/><rect x="150.73" y="359.30" width="5.32" height="1.05" fill="#f1e4f0" opacity="0.62"/><rect x="149.59" y="360.30" width="9.37" height="1.05" fill="#5d75d2" opacity="0.50"/><rect x="151.79" y="360.30" width="4.97" height="1.05" fill="#f1e4f0" opacity="0.77"/><rect x="149.77" y="361.31" width="8.90" height="1.05" fill="#5d75d2" opacity="0.50"/><rect x="151.97" y="361.31" width="4.50" height="1.05" fill="#f1e4f0" opacity="0.55"/><rect x="149.45" y="362.31" width="9.84" height="1.05" fill="#5d75d2" opacity="0.50"/><rect x="151.65" y="362.31" width="5.44" height="1.05" fill="#f1e4f0" opacity="0.42"/><rect x="149.08" y="363.32" width="9.69" height="1.05" fill="#5d75d2" opacity="0.50"/><rect x="151.28" y="363.32" width="5.29" height="1.05" fill="#f1e4f0" opacity="0.54"/><rect x="149.21" y="364.33" width="8.66" height="1.05" fill="#5d75d2" opacity="0.50"/><rect x="151.41" y="364.33" width="4.26" height="1.05" fill="#f1e4f0" opacity="0.74"/><rect x="149.02" y="365.33" width="9.10" height="1.05" fill="#5d75d2" opacity="0.50"/><rect x="151.22" y="365.33" width="4.70" height="1.05" fill="#f1e4f0" opacity="0.46"/><rect x="149.11" y="366.34" width="9.83" height="1.05" fill="#5d75d2" opacity="0.50"/><rect x="151.31" y="366.34" width="5.43" height="1.05" fill="#f1e4f0" opacity="0.48"/><rect x="148.85" y="367.34" width="8.92" height="1.05" fill="#5d75d2" opacity="0.50"/><rect x="151.05" y="367.34" width="4.52" height="1.05" fill="#f1e4f0" opacity="0.72"/><rect x="149.03" y="368.35" width="9.78" height="1.05" fill="#5d75d2" opacity="0.50"/><rect x="151.23" y="368.35" width="5.38" height="1.05" fill="#f1e4f0" opacity="0.47"/><rect x="149.50" y="369.35" width="9.68" height="1.05" fill="#5d75d2" opacity="0.50"/><rect x="151.70" y="369.35" width="5.28" height="1.05" fill="#f1e4f0" opacity="0.61"/><rect x="150.07" y="370.36" width="8.48" height="1.05" fill="#5d75d2" opacity="0.50"/><rect x="152.27" y="370.36" width="4.08" height="1.05" fill="#f1e4f0" opacity="0.44"/><rect x="149.59" y="371.36" width="8.78" height="1.05" fill="#5d75d2" opacity="0.50"/><rect x="151.79" y="371.36" width="4.38" height="1.05" fill="#f1e4f0" opacity="0.50"/><rect x="149.54" y="372.37" width="9.18" height="1.05" fill="#5d75d2" opacity="0.50"/><rect x="151.74" y="372.37" width="4.78" height="1.05" fill="#f1e4f0" opacity="0.50"/><rect x="149.01" y="373.38" width="8.88" height="1.05" fill="#5d75d2" opacity="0.50"/><rect x="151.21" y="373.38" width="4.48" height="1.05" fill="#f1e4f0" opacity="0.47"/><rect x="149.60" y="374.38" width="8.36" height="1.05" fill="#5d75d2" opacity="0.50"/><rect x="151.80" y="374.38" width="3.96" height="1.05" fill="#f1e4f0" opacity="0.69"/><rect x="149.20" y="375.39" width="8.45" height="1.05" fill="#5d75d2" opacity="0.50"/><rect x="151.40" y="375.39" width="4.05" height="1.05" fill="#f1e4f0" opacity="0.46"/><rect x="149.62" y="376.39" width="9.15" height="1.05" fill="#5d75d2" opacity="0.50"/><rect x="151.82" y="376.39" width="4.75" height="1.05" fill="#f1e4f0" opacity="0.37"/><rect x="149.87" y="377.40" width="8.32" height="1.05" fill="#5d75d2" opacity="0.50"/><rect x="152.07" y="377.40" width="3.92" height="1.05" fill="#f1e4f0" opacity="0.60"/><rect x="149.26" y="378.40" width="9.09" height="1.05" fill="#5d75d2" opacity="0.50"/><rect x="151.46" y="378.40" width="4.69" height="1.05" fill="#f1e4f0" opacity="0.64"/><rect x="149.48" y="379.41" width="8.95" height="1.05" fill="#5d75d2" opacity="0.50"/><rect x="151.68" y="379.41" width="4.55" height="1.05" fill="#f1e4f0" opacity="0.44"/><rect x="149.70" y="380.41" width="8.37" height="1.05" fill="#5d75d2" opacity="0.50"/><rect x="151.90" y="380.41" width="3.97" height="1.05" fill="#f1e4f0" opacity="0.49"/><rect x="149.76" y="381.42" width="8.61" height="1.05" fill="#5d75d2" opacity="0.50"/><rect x="151.96" y="381.42" width="4.21" height="1.05" fill="#f1e4f0" opacity="0.47"/><rect x="149.21" y="382.42" width="9.00" height="1.05" fill="#5d75d2" opacity="0.50"/><rect x="151.41" y="382.42" width="4.60" height="1.05" fill="#f1e4f0" opacity="0.34"/><rect x="150.26" y="383.43" width="8.13" height="1.05" fill="#5d75d2" opacity="0.50"/><rect x="152.46" y="383.43" width="3.73" height="1.05" fill="#f1e4f0" opacity="0.53"/><rect x="149.57" y="384.44" width="9.15" height="1.05" fill="#5d75d2" opacity="0.50"/><rect x="151.77" y="384.44" width="4.75" height="1.05" fill="#f1e4f0" opacity="0.53"/><rect x="149.53" y="385.44" width="8.93" height="1.05" fill="#5d75d2" opacity="0.50"/><rect x="151.73" y="385.44" width="4.53" height="1.05" fill="#f1e4f0" opacity="0.36"/><rect x="149.79" y="386.45" width="8.07" height="1.05" fill="#5d75d2" opacity="0.50"/><rect x="151.99" y="386.45" width="3.67" height="1.05" fill="#f1e4f0" opacity="0.53"/><rect x="149.98" y="387.45" width="8.57" height="1.05" fill="#5d75d2" opacity="0.50"/><rect x="152.18" y="387.45" width="4.17" height="1.05" fill="#f1e4f0" opacity="0.43"/><rect x="149.75" y="388.46" width="8.71" height="1.05" fill="#5d75d2" opacity="0.50"/><rect x="151.95" y="388.46" width="4.31" height="1.05" fill="#f1e4f0" opacity="0.47"/><rect x="150.18" y="389.46" width="8.05" height="1.05" fill="#5d75d2" opacity="0.50"/><rect x="152.38" y="389.46" width="3.65" height="1.05" fill="#f1e4f0" opacity="0.39"/><rect x="149.35" y="390.47" width="8.54" height="1.05" fill="#5d75d2" opacity="0.50"/><rect x="151.55" y="390.47" width="4.14" height="1.05" fill="#f1e4f0" opacity="0.59"/><rect x="150.22" y="391.47" width="8.33" height="1.05" fill="#5d75d2" opacity="0.50"/><rect x="152.42" y="391.47" width="3.93" height="1.05" fill="#f1e4f0" opacity="0.38"/><rect x="149.33" y="392.48" width="8.83" height="1.05" fill="#5d75d2" opacity="0.50"/><rect x="151.53" y="392.48" width="4.43" height="1.05" fill="#f1e4f0" opacity="0.35"/><rect x="150.28" y="393.49" width="7.86" height="1.05" fill="#5d75d2" opacity="0.50"/><rect x="152.48" y="393.49" width="3.46" height="1.05" fill="#f1e4f0" opacity="0.54"/><rect x="149.46" y="394.49" width="8.25" height="1.05" fill="#5d75d2" opacity="0.50"/><rect x="151.66" y="394.49" width="3.85" height="1.05" fill="#f1e4f0" opacity="0.47"/><rect x="149.92" y="395.50" width="8.54" height="1.05" fill="#5d75d2" opacity="0.50"/><rect x="152.12" y="395.50" width="4.14" height="1.05" fill="#f1e4f0" opacity="0.29"/><rect x="149.60" y="396.50" width="8.79" height="1.05" fill="#5d75d2" opacity="0.50"/><rect x="151.80" y="396.50" width="4.39" height="1.05" fill="#f1e4f0" opacity="0.35"/><rect x="149.40" y="397.51" width="8.54" height="1.05" fill="#5d75d2" opacity="0.50"/><rect x="151.60" y="397.51" width="4.14" height="1.05" fill="#f1e4f0" opacity="0.40"/><rect x="149.93" y="398.51" width="7.89" height="1.05" fill="#5d75d2" opacity="0.50"/><rect x="152.13" y="398.51" width="3.49" height="1.05" fill="#f1e4f0" opacity="0.51"/><rect x="149.41" y="399.52" width="8.67" height="1.05" fill="#5d75d2" opacity="0.50"/><rect x="151.61" y="399.52" width="4.27" height="1.05" fill="#f1e4f0" opacity="0.34"/><rect x="148.97" y="400.52" width="8.76" height="1.05" fill="#5d75d2" opacity="0.50"/><rect x="151.17" y="400.52" width="4.36" height="1.05" fill="#f1e4f0" opacity="0.30"/><rect x="150.05" y="401.53" width="7.75" height="1.05" fill="#5d75d2" opacity="0.50"/><rect x="152.25" y="401.53" width="3.35" height="1.05" fill="#f1e4f0" opacity="0.50"/><rect x="150.04" y="402.54" width="8.66" height="1.05" fill="#5d75d2" opacity="0.50"/><rect x="152.24" y="402.54" width="4.26" height="1.05" fill="#f1e4f0" opacity="0.50"/><rect x="149.87" y="403.54" width="7.68" height="1.05" fill="#5d75d2" opacity="0.50"/><rect x="152.07" y="403.54" width="3.28" height="1.05" fill="#f1e4f0" opacity="0.38"/><rect x="149.58" y="404.55" width="8.16" height="1.05" fill="#5d75d2" opacity="0.50"/><rect x="151.78" y="404.55" width="3.76" height="1.05" fill="#f1e4f0" opacity="0.37"/><rect x="149.72" y="405.55" width="8.08" height="1.05" fill="#5d75d2" opacity="0.50"/><rect x="151.92" y="405.55" width="3.68" height="1.05" fill="#f1e4f0" opacity="0.39"/><rect x="149.09" y="406.56" width="8.53" height="1.05" fill="#5d75d2" opacity="0.50"/><rect x="151.29" y="406.56" width="4.13" height="1.05" fill="#f1e4f0" opacity="0.39"/><rect x="150.29" y="407.56" width="7.93" height="1.05" fill="#5d75d2" opacity="0.50"/><rect x="152.49" y="407.56" width="3.53" height="1.05" fill="#f1e4f0" opacity="0.35"/><rect x="149.31" y="408.57" width="8.07" height="1.05" fill="#5d75d2" opacity="0.50"/><rect x="151.51" y="408.57" width="3.67" height="1.05" fill="#f1e4f0" opacity="0.25"/><rect x="150.29" y="409.57" width="7.88" height="1.05" fill="#5d75d2" opacity="0.50"/><rect x="152.49" y="409.57" width="3.48" height="1.05" fill="#f1e4f0" opacity="0.40"/><rect x="149.55" y="410.58" width="8.27" height="1.05" fill="#5d75d2" opacity="0.50"/><rect x="151.75" y="410.58" width="3.87" height="1.05" fill="#f1e4f0" opacity="0.22"/><rect x="149.78" y="411.58" width="7.92" height="1.05" fill="#5d75d2" opacity="0.50"/><rect x="151.98" y="411.58" width="3.52" height="1.05" fill="#f1e4f0" opacity="0.25"/><rect x="149.33" y="412.59" width="8.03" height="1.05" fill="#5d75d2" opacity="0.50"/><rect x="151.53" y="412.59" width="3.63" height="1.05" fill="#f1e4f0" opacity="0.39"/><rect x="150.02" y="413.60" width="7.88" height="1.05" fill="#5d75d2" opacity="0.50"/><rect x="152.22" y="413.60" width="3.48" height="1.05" fill="#f1e4f0" opacity="0.25"/><rect x="150.12" y="414.60" width="7.86" height="1.05" fill="#5d75d2" opacity="0.50"/><rect x="152.32" y="414.60" width="3.46" height="1.05" fill="#f1e4f0" opacity="0.30"/><rect x="149.51" y="415.61" width="8.45" height="1.05" fill="#5d75d2" opacity="0.50"/><rect x="151.71" y="415.61" width="4.05" height="1.05" fill="#f1e4f0" opacity="0.24"/><rect x="150.16" y="416.61" width="7.58" height="1.05" fill="#5d75d2" opacity="0.50"/><rect x="152.36" y="416.61" width="3.18" height="1.05" fill="#f1e4f0" opacity="0.28"/><rect x="149.65" y="417.62" width="8.39" height="1.05" fill="#5d75d2" opacity="0.50"/><rect x="151.85" y="417.62" width="3.99" height="1.05" fill="#f1e4f0" opacity="0.35"/><rect x="149.22" y="418.62" width="8.30" height="1.05" fill="#5d75d2" opacity="0.50"/><rect x="151.42" y="418.62" width="3.90" height="1.05" fill="#f1e4f0" opacity="0.29"/><rect x="149.93" y="419.63" width="7.44" height="1.05" fill="#5d75d2" opacity="0.50"/><rect x="152.13" y="419.63" width="3.04" height="1.05" fill="#f1e4f0" opacity="0.34"/><rect x="149.66" y="420.63" width="7.43" height="1.05" fill="#5d75d2" opacity="0.50"/><rect x="151.86" y="420.63" width="3.03" height="1.05" fill="#f1e4f0" opacity="0.20"/><rect x="150.39" y="421.64" width="7.58" height="1.05" fill="#5d75d2" opacity="0.50"/><rect x="152.59" y="421.64" width="3.18" height="1.05" fill="#f1e4f0" opacity="0.19"/><rect x="149.84" y="422.65" width="8.42" height="1.05" fill="#5d75d2" opacity="0.50"/><rect x="152.04" y="422.65" width="4.02" height="1.05" fill="#f1e4f0" opacity="0.27"/><rect x="150.61" y="423.65" width="7.62" height="1.05" fill="#5d75d2" opacity="0.50"/><rect x="152.81" y="423.65" width="3.22" height="1.05" fill="#f1e4f0" opacity="0.33"/><rect x="150.45" y="424.66" width="8.06" height="1.05" fill="#5d75d2" opacity="0.50"/><rect x="152.65" y="424.66" width="3.66" height="1.05" fill="#f1e4f0" opacity="0.29"/><rect x="150.57" y="425.66" width="7.37" height="1.05" fill="#5d75d2" opacity="0.50"/><rect x="152.77" y="425.66" width="2.97" height="1.05" fill="#f1e4f0" opacity="0.30"/><rect x="149.96" y="426.67" width="8.07" height="1.05" fill="#5d75d2" opacity="0.50"/><rect x="152.16" y="426.67" width="3.67" height="1.05" fill="#f1e4f0" opacity="0.17"/><rect x="150.19" y="427.67" width="7.92" height="1.05" fill="#5d75d2" opacity="0.50"/><rect x="152.39" y="427.67" width="3.52" height="1.05" fill="#f1e4f0" opacity="0.18"/><rect x="150.54" y="428.68" width="7.72" height="1.05" fill="#5d75d2" opacity="0.50"/><rect x="152.74" y="428.68" width="3.32" height="1.05" fill="#f1e4f0" opacity="0.30"/><rect x="149.97" y="429.68" width="8.01" height="1.05" fill="#5d75d2" opacity="0.50"/><rect x="152.17" y="429.68" width="3.61" height="1.05" fill="#f1e4f0" opacity="0.21"/><rect x="150.07" y="430.69" width="7.95" height="1.05" fill="#5d75d2" opacity="0.50"/><rect x="152.27" y="430.69" width="3.55" height="1.05" fill="#f1e4f0" opacity="0.16"/><rect x="149.58" y="431.70" width="7.68" height="1.05" fill="#5d75d2" opacity="0.50"/><rect x="151.78" y="431.70" width="3.28" height="1.05" fill="#f1e4f0" opacity="0.19"/><rect x="149.71" y="432.70" width="7.96" height="1.05" fill="#5d75d2" opacity="0.50"/><rect x="151.91" y="432.70" width="3.56" height="1.05" fill="#f1e4f0" opacity="0.16"/><rect x="149.79" y="433.71" width="7.39" height="1.05" fill="#5d75d2" opacity="0.50"/><rect x="151.99" y="433.71" width="2.99" height="1.05" fill="#f1e4f0" opacity="0.15"/><rect x="150.25" y="434.71" width="7.71" height="1.05" fill="#5d75d2" opacity="0.50"/><rect x="152.45" y="434.71" width="3.31" height="1.05" fill="#f1e4f0" opacity="0.15"/><rect x="150.52" y="435.72" width="7.84" height="1.05" fill="#5d75d2" opacity="0.50"/><rect x="152.72" y="435.72" width="3.44" height="1.05" fill="#f1e4f0" opacity="0.14"/><rect x="149.98" y="436.72" width="7.94" height="1.05" fill="#5d75d2" opacity="0.50"/><rect x="152.18" y="436.72" width="3.54" height="1.05" fill="#f1e4f0" opacity="0.19"/><rect x="150.44" y="437.73" width="7.24" height="1.05" fill="#5d75d2" opacity="0.50"/><rect x="152.64" y="437.73" width="2.84" height="1.05" fill="#f1e4f0" opacity="0.20"/><rect x="150.33" y="438.73" width="7.37" height="1.05" fill="#5d75d2" opacity="0.50"/><rect x="152.53" y="438.73" width="2.97" height="1.05" fill="#f1e4f0" opacity="0.18"/><rect x="150.26" y="439.74" width="7.73" height="1.05" fill="#5d75d2" opacity="0.50"/><rect x="152.46" y="439.74" width="3.33" height="1.05" fill="#f1e4f0" opacity="0.17"/><rect x="150.22" y="440.74" width="7.16" height="1.05" fill="#5d75d2" opacity="0.50"/><rect x="152.42" y="440.74" width="2.76" height="1.05" fill="#f1e4f0" opacity="0.21"/><rect x="150.67" y="441.75" width="7.53" height="1.05" fill="#5d75d2" opacity="0.50"/><rect x="152.87" y="441.75" width="3.13" height="1.05" fill="#f1e4f0" opacity="0.20"/><rect x="149.77" y="442.76" width="7.76" height="1.05" fill="#5d75d2" opacity="0.50"/><rect x="151.97" y="442.76" width="3.36" height="1.05" fill="#f1e4f0" opacity="0.11"/><rect x="150.08" y="443.76" width="7.54" height="1.05" fill="#5d75d2" opacity="0.50"/><rect x="152.28" y="443.76" width="3.14" height="1.05" fill="#f1e4f0" opacity="0.10"/><rect x="150.38" y="444.77" width="7.23" height="1.05" fill="#5d75d2" opacity="0.50"/><rect x="152.58" y="444.77" width="2.83" height="1.05" fill="#f1e4f0" opacity="0.14"/><rect x="149.67" y="445.77" width="7.28" height="1.05" fill="#5d75d2" opacity="0.50"/><rect x="151.87" y="445.77" width="2.88" height="1.05" fill="#f1e4f0" opacity="0.13"/><rect x="149.72" y="446.78" width="7.49" height="1.05" fill="#5d75d2" opacity="0.50"/><rect x="151.92" y="446.78" width="3.09" height="1.05" fill="#f1e4f0" opacity="0.15"/><rect x="150.17" y="447.78" width="7.61" height="1.05" fill="#5d75d2" opacity="0.50"/><rect x="152.37" y="447.78" width="3.21" height="1.05" fill="#f1e4f0" opacity="0.15"/><rect x="150.45" y="448.79" width="7.35" height="1.05" fill="#5d75d2" opacity="0.50"/><rect x="152.65" y="448.79" width="2.95" height="1.05" fill="#f1e4f0" opacity="0.16"/><rect x="150.43" y="449.79" width="7.59" height="1.05" fill="#5d75d2" opacity="0.50"/><rect x="152.63" y="449.79" width="3.19" height="1.05" fill="#f1e4f0" opacity="0.15"/><rect x="183.5" y="305" width="44.5" height="145.8" fill="#232a7c"/><g shape-rendering="crispEdges"><rect x="183.5" y="307.0" width="44.5" height="1.2" fill="#2f3d9c" opacity="0.26"/><rect x="183.5" y="308.2" width="44.5" height="1.2" fill="#1c2268" opacity="0.29"/><rect x="183.5" y="309.4" width="44.5" height="1.0" fill="#1c2268" opacity="0.30"/><rect x="183.5" y="316.4" width="44.5" height="1.2" fill="#1c2268" opacity="0.28"/><rect x="183.5" y="317.6" width="44.5" height="0.8" fill="#2f3d9c" opacity="0.30"/><rect x="183.5" y="324.7" width="44.5" height="1.2" fill="#1c2268" opacity="0.27"/><rect x="183.5" y="329.9" width="44.5" height="0.8" fill="#2f3d9c" opacity="0.19"/><rect x="183.5" y="330.7" width="44.5" height="1.0" fill="#1c2268" opacity="0.38"/><rect x="183.5" y="335.0" width="44.5" height="0.8" fill="#2f3d9c" opacity="0.35"/><rect x="183.5" y="337.0" width="44.5" height="1.2" fill="#2f3d9c" opacity="0.17"/><rect x="183.5" y="342.0" width="44.5" height="1.2" fill="#1c2268" opacity="0.39"/><rect x="183.5" y="345.4" width="44.5" height="1.2" fill="#1c2268" opacity="0.45"/><rect x="183.5" y="347.6" width="44.5" height="1.2" fill="#1c2268" opacity="0.23"/><rect x="183.5" y="355.8" width="44.5" height="1.2" fill="#1c2268" opacity="0.20"/><rect x="183.5" y="359.4" width="44.5" height="0.8" fill="#1c2268" opacity="0.27"/><rect x="183.5" y="367.6" width="44.5" height="1.5" fill="#2f3d9c" opacity="0.28"/><rect x="183.5" y="369.1" width="44.5" height="1.0" fill="#2f3d9c" opacity="0.16"/><rect x="183.5" y="370.1" width="44.5" height="1.0" fill="#1c2268" opacity="0.31"/><rect x="183.5" y="371.1" width="44.5" height="1.0" fill="#1c2268" opacity="0.26"/><rect x="183.5" y="372.1" width="44.5" height="0.8" fill="#2f3d9c" opacity="0.23"/><rect x="183.5" y="373.7" width="44.5" height="0.8" fill="#2f3d9c" opacity="0.34"/><rect x="183.5" y="374.5" width="44.5" height="1.5" fill="#2f3d9c" opacity="0.31"/><rect x="183.5" y="382.9" width="44.5" height="1.5" fill="#2f3d9c" opacity="0.25"/><rect x="183.5" y="384.4" width="44.5" height="1.2" fill="#1c2268" opacity="0.32"/><rect x="183.5" y="385.6" width="44.5" height="0.8" fill="#2f3d9c" opacity="0.19"/><rect x="183.5" y="387.6" width="44.5" height="1.5" fill="#2f3d9c" opacity="0.22"/><rect x="183.5" y="389.1" width="44.5" height="1.2" fill="#1c2268" opacity="0.32"/><rect x="183.5" y="390.3" width="44.5" height="1.5" fill="#2f3d9c" opacity="0.32"/><rect x="183.5" y="393.8" width="44.5" height="0.8" fill="#1c2268" opacity="0.28"/><rect x="183.5" y="394.6" width="44.5" height="1.5" fill="#2f3d9c" opacity="0.32"/><rect x="183.5" y="399.7" width="44.5" height="0.8" fill="#1c2268" opacity="0.32"/><rect x="183.5" y="402.0" width="44.5" height="1.5" fill="#1c2268" opacity="0.44"/><rect x="183.5" y="405.0" width="44.5" height="1.2" fill="#1c2268" opacity="0.25"/><rect x="183.5" y="407.4" width="44.5" height="1.2" fill="#1c2268" opacity="0.38"/><rect x="183.5" y="409.4" width="44.5" height="1.0" fill="#2f3d9c" opacity="0.23"/><rect x="183.5" y="412.0" width="44.5" height="1.2" fill="#2f3d9c" opacity="0.16"/><rect x="183.5" y="413.2" width="44.5" height="1.0" fill="#1c2268" opacity="0.24"/><rect x="183.5" y="416.5" width="44.5" height="1.2" fill="#1c2268" opacity="0.28"/><rect x="183.5" y="417.7" width="44.5" height="1.2" fill="#2f3d9c" opacity="0.33"/><rect x="183.5" y="418.9" width="44.5" height="1.5" fill="#1c2268" opacity="0.31"/><rect x="183.5" y="422.6" width="44.5" height="1.2" fill="#1c2268" opacity="0.37"/><rect x="183.5" y="423.8" width="44.5" height="1.5" fill="#1c2268" opacity="0.36"/><rect x="183.5" y="425.3" width="44.5" height="1.0" fill="#1c2268" opacity="0.23"/><rect x="183.5" y="426.3" width="44.5" height="1.0" fill="#2f3d9c" opacity="0.17"/><rect x="183.5" y="427.3" width="44.5" height="1.5" fill="#1c2268" opacity="0.30"/><rect x="183.5" y="428.8" width="44.5" height="1.2" fill="#2f3d9c" opacity="0.31"/><rect x="183.5" y="430.8" width="44.5" height="1.0" fill="#1c2268" opacity="0.40"/><rect x="183.5" y="433.4" width="44.5" height="1.2" fill="#2f3d9c" opacity="0.17"/><rect x="183.5" y="434.6" width="44.5" height="0.8" fill="#1c2268" opacity="0.35"/><rect x="183.5" y="436.2" width="44.5" height="1.0" fill="#2f3d9c" opacity="0.17"/><rect x="183.5" y="437.2" width="44.5" height="1.0" fill="#2f3d9c" opacity="0.28"/><rect x="183.5" y="440.5" width="44.5" height="1.0" fill="#1c2268" opacity="0.34"/><rect x="183.5" y="443.5" width="44.5" height="1.0" fill="#1c2268" opacity="0.25"/><rect x="183.5" y="446.8" width="44.5" height="1.0" fill="#2f3d9c" opacity="0.33"/><rect x="183.5" y="447.8" width="44.5" height="1.0" fill="#1c2268" opacity="0.35"/></g><text transform="translate(13.2,377.8) rotate(-90)" x="0" y="0" font-size="8.8" fill="#333" text-anchor="middle" textLength="81.8" lengthAdjust="spacingAndGlyphs">Ranked MYCN signals</text><defs><linearGradient id="dlh" x1="0" y1="0" x2="1" y2="0"><stop offset="0" stop-color="#1f2f86"/><stop offset="0.3" stop-color="#3a5ab8"/><stop offset="0.5" stop-color="#f4f4f8"/><stop offset="0.7" stop-color="#ec4040"/><stop offset="1" stop-color="#c81818"/></linearGradient></defs><rect x="100" y="460" width="46" height="12.5" fill="url(#dlh)"/><text x="81.6" y="468.8" font-size="8.6" fill="#333" textLength="14.8" lengthAdjust="spacingAndGlyphs">Low</text><text x="150" y="468.8" font-size="8.6" fill="#333" textLength="16.9" lengthAdjust="spacingAndGlyphs">High</text><text x="259.4" y="297.7" font-size="11.8" fill="#000" font-weight="bold">E</text><text x="322.8" y="308" font-size="8.2" fill="#2a2a2a" text-anchor="middle">MYCN peaks</text><path d="M320.6,349.8 L284.11,343.69 A37,37 0 0 0 288.40,368.02 Z" fill="#1f4f8f" stroke="#fff" stroke-width="0.6"/><path d="M320.6,349.8 L288.02,332.26 A37,37 0 0 0 284.11,343.69 Z" fill="#3db04a" stroke="#fff" stroke-width="0.6"/><path d="M320.6,349.8 L288.40,368.02 A37,37 0 1 0 288.02,332.26 Z" fill="#c8102e" stroke="#fff" stroke-width="0.6"/><text x="340.6" y="347.2" font-size="8.4" fill="#fff" text-anchor="middle">84%</text><text x="294.2" y="357.8" font-size="8.4" fill="#fff" text-anchor="middle">11%</text><rect x="266.7" y="398" width="8.3" height="8" fill="#1f4f8f"/><rect x="324.7" y="398" width="8.3" height="8" fill="#c8102e"/><rect x="324.7" y="420.4" width="8.3" height="7" fill="#3db04a"/><text x="278.7" y="404.6" font-size="8.2" fill="#2a2a2a">Enhancer</text><text x="278.7" y="414.2" font-size="8.2" fill="#2a2a2a">H3K27ac+</text><text x="278.7" y="424.2" font-size="8.2" fill="#2a2a2a">H3K4me3–</text><text x="336.4" y="404.6" font-size="8.2" fill="#2a2a2a">Promoter</text><text x="336.4" y="414.2" font-size="8.2" fill="#2a2a2a">H3K4me3+</text><text x="336.4" y="426.4" font-size="8.2" fill="#2a2a2a">Other</text><text x="406.6" y="297.7" font-size="11.8" fill="#000" font-weight="bold">F</text><text x="451.8" y="307.8" font-size="8.4" fill="#5aa5d8" text-anchor="middle">Genes with</text><text x="451.8" y="317.8" font-size="8.4" fill="#5aa5d8" text-anchor="middle">MYCN peak</text><defs><clipPath id="vtop"><circle cx="453.2" cy="353.7" r="28.2"/></clipPath></defs><circle cx="453.2" cy="353.7" r="28.2" fill="#abcfed"/><circle cx="452.8" cy="378.2" r="28" fill="#9c6fa8"/><circle cx="452.8" cy="378.2" r="28" fill="#7a66a6" clip-path="url(#vtop)"/><text x="453" y="342.5" font-size="8.2" fill="#fff" text-anchor="middle">3190</text><text x="453" y="369" font-size="8.2" fill="#fff" text-anchor="middle">3754</text><text x="453" y="393.8" font-size="8.2" fill="#fff" text-anchor="middle">4295</text><text x="452.5" y="418" font-size="8.6" fill="#5b2e6f" text-anchor="middle" textLength="80" lengthAdjust="spacingAndGlyphs">Diff. expressed genes</text><text x="454.5" y="427.5" font-size="8.6" fill="#5b2e6f" text-anchor="middle" textLength="95" lengthAdjust="spacingAndGlyphs">MYCN TCL  vs CD4 T cells</text><text x="0.0" y="500" font-size="11.6" fill="#000" font-weight="bold">G</text><path d="M70,680.4 H190" stroke="#c9c9c9" stroke-width="2.2" stroke-linecap="round"/><path d="M90,681.5 L92,670 L95,658 L98,648 L102,641 L107,638.5 L112,641 L116,651 L120.5,664 L126.3,681.5 Z" fill="#c8102e" stroke="#c8102e" stroke-width="2.6" stroke-linejoin="round"/><path d="M131.5,681.5 L135,670 L139,658 L143,647 L147,638 L151,632 L156,630 L161,632 L165,640 L168,650 L171,661 L174.5,671 L178,681.5 Z" fill="#c8102e" stroke="#c8102e" stroke-width="2.6" stroke-linejoin="round"/><g fill="none" stroke="#c8102e" stroke-width="0.9"><circle cx="94.8" cy="637.5" r="1.75"/><circle cx="111.5" cy="635.8" r="1.75"/><circle cx="94.0" cy="641.2" r="1.75"/><circle cx="107.6" cy="628.8" r="1.75"/><circle cx="94.9" cy="626.5" r="1.75"/><circle cx="109.3" cy="636.3" r="1.75"/><circle cx="103.2" cy="638.7" r="1.75"/><circle cx="98.1" cy="628.3" r="1.75"/><circle cx="104.7" cy="640.3" r="1.75"/><circle cx="101.4" cy="641.3" r="1.75"/><circle cx="106.0" cy="633.7" r="1.75"/><circle cx="112.2" cy="639.5" r="1.75"/><circle cx="90.6" cy="633.6" r="1.75"/><circle cx="93.4" cy="639.9" r="1.75"/><circle cx="92.9" cy="642.0" r="1.75"/><circle cx="98.2" cy="639.4" r="1.75"/><circle cx="101.8" cy="634.1" r="1.75"/><circle cx="103.3" cy="637.6" r="1.75"/><circle cx="104.8" cy="629.9" r="1.75"/><circle cx="108.2" cy="632.3" r="1.75"/><circle cx="109.1" cy="642.0" r="1.75"/><circle cx="111.1" cy="634.8" r="1.75"/><circle cx="111.5" cy="640.5" r="1.75"/><circle cx="105.1" cy="632.6" r="1.75"/><circle cx="109.8" cy="636.4" r="1.75"/><circle cx="108.2" cy="635.9" r="1.75"/><circle cx="106.1" cy="639.5" r="1.75"/><circle cx="105.4" cy="634.8" r="1.75"/><circle cx="96.4" cy="637.2" r="1.75"/><circle cx="109.8" cy="633.6" r="1.75"/><circle cx="105.4" cy="632.7" r="1.75"/><circle cx="98.8" cy="618.5" r="1.75"/><circle cx="105.8" cy="630.3" r="1.75"/><circle cx="105.3" cy="633.0" r="1.75"/><circle cx="105.0" cy="631.4" r="1.75"/><circle cx="103.2" cy="637.5" r="1.75"/><circle cx="104.4" cy="625.7" r="1.75"/><circle cx="98.3" cy="632.5" r="1.75"/><circle cx="112.3" cy="638.5" r="1.75"/><circle cx="90.6" cy="631.1" r="1.75"/><circle cx="105.8" cy="635.7" r="1.75"/><circle cx="104.0" cy="634.2" r="1.75"/><circle cx="102.8" cy="613.6" r="1.75"/><circle cx="100.9" cy="639.3" r="1.75"/><circle cx="104.9" cy="623.3" r="1.75"/><circle cx="103.4" cy="619.7" r="1.75"/><circle cx="98.9" cy="636.3" r="1.75"/><circle cx="108.9" cy="638.4" r="1.75"/><circle cx="90.3" cy="633.4" r="1.75"/><circle cx="99.4" cy="635.6" r="1.75"/><circle cx="108.4" cy="638.0" r="1.75"/><circle cx="109.9" cy="641.0" r="1.75"/><circle cx="101.5" cy="640.6" r="1.75"/><circle cx="107.2" cy="631.7" r="1.75"/><circle cx="100.4" cy="639.2" r="1.75"/><circle cx="93.8" cy="622.8" r="1.75"/><circle cx="100.4" cy="627.2" r="1.75"/><circle cx="105.3" cy="639.5" r="1.75"/><circle cx="98.2" cy="612.7" r="1.75"/><circle cx="91.9" cy="639.8" r="1.75"/><circle cx="91.9" cy="600.2" r="1.75"/><circle cx="102.7" cy="616.3" r="1.75"/><circle cx="103.1" cy="623.3" r="1.75"/><circle cx="97.2" cy="627.4" r="1.75"/><circle cx="92.5" cy="631.4" r="1.75"/><circle cx="98.8" cy="633.7" r="1.75"/><circle cx="95.1" cy="633.8" r="1.75"/><circle cx="103.0" cy="630.2" r="1.75"/><circle cx="103.1" cy="626.2" r="1.75"/><circle cx="90.7" cy="633.6" r="1.75"/><circle cx="98.6" cy="641.0" r="1.75"/><circle cx="101.2" cy="628.7" r="1.75"/><circle cx="91.3" cy="624.2" r="1.75"/><circle cx="104.0" cy="640.2" r="1.75"/><circle cx="100.4" cy="624.9" r="1.75"/><circle cx="105.3" cy="635.0" r="1.75"/><circle cx="89.2" cy="633.0" r="1.75"/><circle cx="98.8" cy="626.3" r="1.75"/><circle cx="106.5" cy="629.9" r="1.75"/><circle cx="109.4" cy="633.9" r="1.75"/><circle cx="98.3" cy="636.8" r="1.75"/><circle cx="109.8" cy="631.4" r="1.75"/><circle cx="99.6" cy="613.5" r="1.75"/><circle cx="103.2" cy="634.8" r="1.75"/><circle cx="98.3" cy="639.1" r="1.75"/><circle cx="105.7" cy="629.9" r="1.75"/><circle cx="97.8" cy="632.1" r="1.75"/><circle cx="98.3" cy="621.0" r="1.75"/><circle cx="112.2" cy="640.5" r="1.75"/><circle cx="105.7" cy="640.6" r="1.75"/><circle cx="105.5" cy="639.5" r="1.75"/><circle cx="101.5" cy="626.9" r="1.75"/><circle cx="99.2" cy="622.2" r="1.75"/><circle cx="108.0" cy="641.2" r="1.75"/><circle cx="102.4" cy="641.2" r="1.75"/><circle cx="106.7" cy="634.2" r="1.75"/><circle cx="105.5" cy="639.1" r="1.75"/><circle cx="98.4" cy="632.5" r="1.75"/><circle cx="96.5" cy="629.2" r="1.75"/><circle cx="102.0" cy="634.7" r="1.75"/><circle cx="99.4" cy="640.8" r="1.75"/><circle cx="112.5" cy="641.1" r="1.75"/><circle cx="102.9" cy="634.7" r="1.75"/><circle cx="103.0" cy="631.1" r="1.75"/><circle cx="101.0" cy="628.2" r="1.75"/><circle cx="94.5" cy="628.7" r="1.75"/><circle cx="93.6" cy="628.8" r="1.75"/><circle cx="106.7" cy="639.2" r="1.75"/><circle cx="109.6" cy="632.4" r="1.75"/><circle cx="92.4" cy="623.3" r="1.75"/><circle cx="97.0" cy="631.1" r="1.75"/><circle cx="111.9" cy="637.4" r="1.75"/><circle cx="101.0" cy="635.4" r="1.75"/><circle cx="101.6" cy="620.2" r="1.75"/><circle cx="96.5" cy="627.2" r="1.75"/><circle cx="91.1" cy="637.1" r="1.75"/><circle cx="97.0" cy="618.2" r="1.75"/><circle cx="108.3" cy="633.3" r="1.75"/><circle cx="111.0" cy="635.6" r="1.75"/><circle cx="91.8" cy="635.6" r="1.75"/><circle cx="102.2" cy="641.8" r="1.75"/><circle cx="105.0" cy="637.9" r="1.75"/><circle cx="105.4" cy="635.0" r="1.75"/><circle cx="97.3" cy="623.8" r="1.75"/><circle cx="106.7" cy="636.7" r="1.75"/><circle cx="92.0" cy="640.0" r="1.75"/><circle cx="112.2" cy="637.3" r="1.75"/><circle cx="107.0" cy="640.4" r="1.75"/><circle cx="105.6" cy="627.6" r="1.75"/><circle cx="101.0" cy="623.2" r="1.75"/><circle cx="98.1" cy="630.8" r="1.75"/><circle cx="109.3" cy="629.2" r="1.75"/><circle cx="101.2" cy="631.1" r="1.75"/><circle cx="113.0" cy="639.1" r="1.75"/><circle cx="99.5" cy="638.4" r="1.75"/><circle cx="95.4" cy="638.8" r="1.75"/><circle cx="102.6" cy="640.3" r="1.75"/><circle cx="112.9" cy="639.2" r="1.75"/><circle cx="93.1" cy="629.4" r="1.75"/><circle cx="96.0" cy="636.6" r="1.75"/><circle cx="103.0" cy="637.9" r="1.75"/><circle cx="96.5" cy="639.0" r="1.75"/><circle cx="103.0" cy="628.5" r="1.75"/><circle cx="109.6" cy="632.8" r="1.75"/><circle cx="97.5" cy="640.5" r="1.75"/><circle cx="107.7" cy="626.5" r="1.75"/><circle cx="107.5" cy="639.1" r="1.75"/><circle cx="104.3" cy="639.5" r="1.75"/><circle cx="105.9" cy="633.9" r="1.75"/><circle cx="101.5" cy="632.2" r="1.75"/><circle cx="97.6" cy="628.8" r="1.75"/><circle cx="110.4" cy="632.0" r="1.75"/><circle cx="104.0" cy="634.0" r="1.75"/><circle cx="96.1" cy="639.6" r="1.75"/><circle cx="98.5" cy="633.3" r="1.75"/><circle cx="99.7" cy="640.7" r="1.75"/><circle cx="107.0" cy="625.7" r="1.75"/><circle cx="98.1" cy="630.7" r="1.75"/><circle cx="107.4" cy="635.2" r="1.75"/><circle cx="103.2" cy="620.1" r="1.75"/><circle cx="109.4" cy="636.0" r="1.75"/><circle cx="97.3" cy="617.1" r="1.75"/><circle cx="107.1" cy="637.8" r="1.75"/><circle cx="104.8" cy="622.7" r="1.75"/><circle cx="103.8" cy="636.6" r="1.75"/><circle cx="101.5" cy="664.9" r="1.75"/><circle cx="113.0" cy="676.5" r="1.75"/><circle cx="105.7" cy="668.7" r="1.75"/><circle cx="105.6" cy="665.0" r="1.75"/><circle cx="107.6" cy="656.3" r="1.75"/><circle cx="108.3" cy="637.5" r="1.75"/><circle cx="119.4" cy="680.5" r="1.75"/><circle cx="87.5" cy="678.5" r="1.75"/><circle cx="103.9" cy="669.0" r="1.75"/><circle cx="98.4" cy="653.8" r="1.75"/><circle cx="106.1" cy="651.9" r="1.75"/><circle cx="113.7" cy="673.1" r="1.75"/><circle cx="92.4" cy="653.2" r="1.75"/><circle cx="115.3" cy="650.7" r="1.75"/><circle cx="121.6" cy="670.9" r="1.75"/><circle cx="113.9" cy="673.9" r="1.75"/><circle cx="110.8" cy="650.6" r="1.75"/><circle cx="109.6" cy="655.7" r="1.75"/><circle cx="95.6" cy="676.5" r="1.75"/><circle cx="115.5" cy="669.7" r="1.75"/><circle cx="121.8" cy="674.9" r="1.75"/><circle cx="113.5" cy="669.1" r="1.75"/><circle cx="116.4" cy="650.7" r="1.75"/><circle cx="99.0" cy="653.9" r="1.75"/><circle cx="111.2" cy="661.8" r="1.75"/><circle cx="94.5" cy="678.2" r="1.75"/><circle cx="112.3" cy="647.2" r="1.75"/><circle cx="112.1" cy="659.0" r="1.75"/><circle cx="106.9" cy="649.9" r="1.75"/><circle cx="113.8" cy="668.8" r="1.75"/><circle cx="110.2" cy="667.7" r="1.75"/><circle cx="95.5" cy="650.5" r="1.75"/><circle cx="95.3" cy="676.2" r="1.75"/><circle cx="107.6" cy="655.9" r="1.75"/><circle cx="109.5" cy="668.7" r="1.75"/><circle cx="86.8" cy="677.4" r="1.75"/><circle cx="91.6" cy="654.1" r="1.75"/><circle cx="91.9" cy="655.3" r="1.75"/><circle cx="106.6" cy="660.5" r="1.75"/><circle cx="100.0" cy="644.6" r="1.75"/><circle cx="111.9" cy="658.6" r="1.75"/><circle cx="96.6" cy="666.5" r="1.75"/><circle cx="91.4" cy="668.5" r="1.75"/><circle cx="101.0" cy="675.8" r="1.75"/><circle cx="125.5" cy="678.2" r="1.75"/><circle cx="88.0" cy="676.2" r="1.75"/><circle cx="102.6" cy="654.4" r="1.75"/><circle cx="106.5" cy="677.8" r="1.75"/><circle cx="114.6" cy="653.9" r="1.75"/><circle cx="109.7" cy="635.9" r="1.75"/><circle cx="110.6" cy="653.2" r="1.75"/><circle cx="106.7" cy="636.3" r="1.75"/><circle cx="103.2" cy="664.1" r="1.75"/><circle cx="103.7" cy="643.4" r="1.75"/><circle cx="108.9" cy="651.4" r="1.75"/><circle cx="116.9" cy="657.1" r="1.75"/><circle cx="125.9" cy="678.6" r="1.75"/><circle cx="89.7" cy="675.5" r="1.75"/><circle cx="117.2" cy="661.9" r="1.75"/><circle cx="99.7" cy="643.8" r="1.75"/><circle cx="113.1" cy="658.8" r="1.75"/><circle cx="109.3" cy="662.3" r="1.75"/><circle cx="95.2" cy="680.0" r="1.75"/><circle cx="122.5" cy="674.8" r="1.75"/><circle cx="96.1" cy="651.7" r="1.75"/><circle cx="110.6" cy="635.2" r="1.75"/><circle cx="107.2" cy="633.7" r="1.75"/><circle cx="88.5" cy="664.5" r="1.75"/><circle cx="107.6" cy="662.2" r="1.75"/><circle cx="100.3" cy="654.4" r="1.75"/><circle cx="93.6" cy="647.5" r="1.75"/><circle cx="115.5" cy="672.8" r="1.75"/><circle cx="118.2" cy="661.8" r="1.75"/><circle cx="102.4" cy="643.2" r="1.75"/><circle cx="111.8" cy="680.4" r="1.75"/><circle cx="98.3" cy="658.0" r="1.75"/><circle cx="115.6" cy="677.0" r="1.75"/><circle cx="102.5" cy="648.8" r="1.75"/><circle cx="89.0" cy="674.6" r="1.75"/><circle cx="108.1" cy="654.7" r="1.75"/><circle cx="113.1" cy="645.2" r="1.75"/><circle cx="93.7" cy="663.8" r="1.75"/><circle cx="114.7" cy="665.4" r="1.75"/><circle cx="99.7" cy="667.0" r="1.75"/><circle cx="114.1" cy="659.0" r="1.75"/><circle cx="122.7" cy="677.9" r="1.75"/><circle cx="98.0" cy="650.4" r="1.75"/><circle cx="123.3" cy="675.6" r="1.75"/><circle cx="95.2" cy="648.4" r="1.75"/><circle cx="100.0" cy="648.5" r="1.75"/><circle cx="84.3" cy="674.0" r="1.75"/><circle cx="87.8" cy="675.0" r="1.75"/><circle cx="92.7" cy="655.2" r="1.75"/><circle cx="87.8" cy="674.3" r="1.75"/><circle cx="79.7" cy="679.4" r="1.75"/><circle cx="81.9" cy="652.2" r="1.75"/><circle cx="76.5" cy="663.5" r="1.75"/><circle cx="87.9" cy="679.3" r="1.75"/><circle cx="96.3" cy="666.3" r="1.75"/><circle cx="77.3" cy="660.4" r="1.75"/><circle cx="87.5" cy="679.6" r="1.75"/><circle cx="77.7" cy="675.3" r="1.75"/><circle cx="91.5" cy="676.3" r="1.75"/><circle cx="89.3" cy="677.5" r="1.75"/><circle cx="79.0" cy="680.5" r="1.75"/><circle cx="81.2" cy="660.7" r="1.75"/><circle cx="80.6" cy="679.4" r="1.75"/><circle cx="92.1" cy="664.1" r="1.75"/><circle cx="84.3" cy="661.7" r="1.75"/><circle cx="90.1" cy="649.7" r="1.75"/><circle cx="86.4" cy="659.2" r="1.75"/><circle cx="90.9" cy="675.8" r="1.75"/><circle cx="95.2" cy="658.8" r="1.75"/><circle cx="90.0" cy="667.0" r="1.75"/><circle cx="93.9" cy="671.9" r="1.75"/><circle cx="94.7" cy="656.1" r="1.75"/><circle cx="96.1" cy="670.2" r="1.75"/><circle cx="90.9" cy="667.8" r="1.75"/><circle cx="92.8" cy="668.1" r="1.75"/><circle cx="79.1" cy="674.1" r="1.75"/><circle cx="91.6" cy="667.4" r="1.75"/><circle cx="79.5" cy="680.2" r="1.75"/><circle cx="80.3" cy="670.6" r="1.75"/><circle cx="96.4" cy="675.7" r="1.75"/><circle cx="77.2" cy="678.5" r="1.75"/><circle cx="89.6" cy="674.5" r="1.75"/><circle cx="92.3" cy="678.8" r="1.75"/><circle cx="85.6" cy="676.5" r="1.75"/><circle cx="88.3" cy="677.8" r="1.75"/><circle cx="78.3" cy="678.9" r="1.75"/><circle cx="79.9" cy="678.9" r="1.75"/><circle cx="91.1" cy="671.0" r="1.75"/><circle cx="88.5" cy="679.5" r="1.75"/><circle cx="81.9" cy="672.2" r="1.75"/><circle cx="79.6" cy="680.4" r="1.75"/><circle cx="87.5" cy="668.9" r="1.75"/><circle cx="93.2" cy="670.2" r="1.75"/><circle cx="94.6" cy="679.6" r="1.75"/><circle cx="95.2" cy="671.4" r="1.75"/><circle cx="96.1" cy="666.2" r="1.75"/><circle cx="86.1" cy="680.2" r="1.75"/><circle cx="95.9" cy="676.6" r="1.75"/><circle cx="92.8" cy="668.1" r="1.75"/><circle cx="86.8" cy="669.7" r="1.75"/><circle cx="81.8" cy="660.5" r="1.75"/><circle cx="81.0" cy="679.7" r="1.75"/><circle cx="76.2" cy="667.7" r="1.75"/><circle cx="92.7" cy="678.7" r="1.75"/><circle cx="91.0" cy="674.6" r="1.75"/><circle cx="79.3" cy="675.9" r="1.75"/><circle cx="56.3" cy="654.1" r="1.75"/><circle cx="75.4" cy="663.1" r="1.75"/><circle cx="67.3" cy="679.8" r="1.75"/><circle cx="54.3" cy="663.7" r="1.75"/><circle cx="50.3" cy="672.0" r="1.75"/><circle cx="45.0" cy="673.7" r="1.75"/><circle cx="74.6" cy="673.8" r="1.75"/><circle cx="47.9" cy="654.4" r="1.75"/><circle cx="70.1" cy="648.4" r="1.75"/><circle cx="61.8" cy="661.4" r="1.75"/><circle cx="78.4" cy="665.5" r="1.75"/><circle cx="75.0" cy="655.6" r="1.75"/><circle cx="72.6" cy="659.6" r="1.75"/><circle cx="77.1" cy="648.2" r="1.75"/><circle cx="164.0" cy="624.3" r="1.75"/><circle cx="149.8" cy="628.7" r="1.75"/><circle cx="170.8" cy="608.7" r="1.75"/><circle cx="157.9" cy="621.2" r="1.75"/><circle cx="168.2" cy="627.7" r="1.75"/><circle cx="168.5" cy="624.1" r="1.75"/><circle cx="167.6" cy="613.6" r="1.75"/><circle cx="170.2" cy="632.8" r="1.75"/><circle cx="159.3" cy="622.6" r="1.75"/><circle cx="151.3" cy="627.1" r="1.75"/><circle cx="190.3" cy="630.7" r="1.75"/><circle cx="163.0" cy="623.6" r="1.75"/><circle cx="155.1" cy="625.2" r="1.75"/><circle cx="152.6" cy="620.0" r="1.75"/><circle cx="158.4" cy="620.1" r="1.75"/><circle cx="160.7" cy="623.3" r="1.75"/><circle cx="160.0" cy="619.8" r="1.75"/><circle cx="172.5" cy="627.0" r="1.75"/><circle cx="159.6" cy="619.8" r="1.75"/><circle cx="162.9" cy="627.8" r="1.75"/><circle cx="163.7" cy="628.5" r="1.75"/><circle cx="165.1" cy="619.3" r="1.75"/><circle cx="167.6" cy="615.7" r="1.75"/><circle cx="166.7" cy="627.8" r="1.75"/><circle cx="163.7" cy="627.1" r="1.75"/><circle cx="157.9" cy="630.6" r="1.75"/><circle cx="169.8" cy="625.9" r="1.75"/><circle cx="162.9" cy="604.5" r="1.75"/><circle cx="154.6" cy="624.6" r="1.75"/><circle cx="159.6" cy="632.5" r="1.75"/><circle cx="177.7" cy="630.8" r="1.75"/><circle cx="154.0" cy="615.5" r="1.75"/><circle cx="169.5" cy="632.3" r="1.75"/><circle cx="168.3" cy="624.4" r="1.75"/><circle cx="166.9" cy="614.4" r="1.75"/><circle cx="169.8" cy="611.1" r="1.75"/><circle cx="170.8" cy="622.5" r="1.75"/><circle cx="154.3" cy="618.9" r="1.75"/><circle cx="170.4" cy="614.3" r="1.75"/><circle cx="172.4" cy="632.4" r="1.75"/><circle cx="168.4" cy="597.6" r="1.75"/><circle cx="156.6" cy="626.4" r="1.75"/><circle cx="167.2" cy="628.0" r="1.75"/><circle cx="154.2" cy="620.3" r="1.75"/><circle cx="179.2" cy="603.7" r="1.75"/><circle cx="174.5" cy="607.9" r="1.75"/><circle cx="149.3" cy="628.5" r="1.75"/><circle cx="154.1" cy="629.4" r="1.75"/><circle cx="185.9" cy="607.1" r="1.75"/><circle cx="166.3" cy="614.2" r="1.75"/><circle cx="173.7" cy="613.2" r="1.75"/><circle cx="161.7" cy="613.1" r="1.75"/><circle cx="164.0" cy="625.0" r="1.75"/><circle cx="157.4" cy="632.1" r="1.75"/><circle cx="166.9" cy="632.0" r="1.75"/><circle cx="183.4" cy="630.9" r="1.75"/><circle cx="156.6" cy="622.5" r="1.75"/><circle cx="161.6" cy="631.3" r="1.75"/><circle cx="164.3" cy="616.9" r="1.75"/><circle cx="166.8" cy="621.6" r="1.75"/><circle cx="155.7" cy="629.8" r="1.75"/><circle cx="153.6" cy="632.4" r="1.75"/><circle cx="153.2" cy="628.0" r="1.75"/><circle cx="159.3" cy="630.5" r="1.75"/><circle cx="158.5" cy="626.1" r="1.75"/><circle cx="173.4" cy="628.5" r="1.75"/><circle cx="151.4" cy="630.9" r="1.75"/><circle cx="161.8" cy="607.3" r="1.75"/><circle cx="170.8" cy="607.3" r="1.75"/><circle cx="152.5" cy="624.8" r="1.75"/><circle cx="149.6" cy="630.8" r="1.75"/><circle cx="159.6" cy="629.2" r="1.75"/><circle cx="159.6" cy="612.6" r="1.75"/><circle cx="161.1" cy="620.4" r="1.75"/><circle cx="158.0" cy="630.6" r="1.75"/><circle cx="168.3" cy="621.7" r="1.75"/><circle cx="151.5" cy="633.7" r="1.75"/><circle cx="174.9" cy="626.1" r="1.75"/><circle cx="154.1" cy="632.1" r="1.75"/><circle cx="157.7" cy="618.9" r="1.75"/><circle cx="161.3" cy="628.0" r="1.75"/><circle cx="182.0" cy="611.9" r="1.75"/><circle cx="163.8" cy="607.9" r="1.75"/><circle cx="174.7" cy="617.5" r="1.75"/><circle cx="169.4" cy="620.1" r="1.75"/><circle cx="161.3" cy="633.8" r="1.75"/><circle cx="161.3" cy="620.5" r="1.75"/><circle cx="159.5" cy="628.9" r="1.75"/><circle cx="174.8" cy="616.0" r="1.75"/><circle cx="153.9" cy="625.0" r="1.75"/><circle cx="158.5" cy="631.5" r="1.75"/><circle cx="180.9" cy="627.3" r="1.75"/><circle cx="157.0" cy="616.4" r="1.75"/><circle cx="184.9" cy="616.2" r="1.75"/><circle cx="154.6" cy="632.1" r="1.75"/><circle cx="166.0" cy="627.6" r="1.75"/><circle cx="165.7" cy="621.3" r="1.75"/><circle cx="155.3" cy="632.3" r="1.75"/><circle cx="183.7" cy="598.0" r="1.75"/><circle cx="165.0" cy="612.4" r="1.75"/><circle cx="168.0" cy="603.2" r="1.75"/><circle cx="165.3" cy="631.7" r="1.75"/><circle cx="159.8" cy="620.3" r="1.75"/><circle cx="176.5" cy="615.1" r="1.75"/><circle cx="159.8" cy="625.6" r="1.75"/><circle cx="157.4" cy="631.8" r="1.75"/><circle cx="162.4" cy="620.5" r="1.75"/><circle cx="159.5" cy="623.7" r="1.75"/><circle cx="163.9" cy="623.4" r="1.75"/><circle cx="170.5" cy="619.8" r="1.75"/><circle cx="162.1" cy="620.6" r="1.75"/><circle cx="173.6" cy="623.5" r="1.75"/><circle cx="158.7" cy="611.5" r="1.75"/><circle cx="183.9" cy="609.5" r="1.75"/><circle cx="150.2" cy="626.8" r="1.75"/><circle cx="158.2" cy="633.1" r="1.75"/><circle cx="154.7" cy="626.3" r="1.75"/><circle cx="160.9" cy="605.2" r="1.75"/><circle cx="167.6" cy="627.2" r="1.75"/><circle cx="161.3" cy="622.0" r="1.75"/><circle cx="158.8" cy="614.2" r="1.75"/><circle cx="168.9" cy="602.6" r="1.75"/><circle cx="163.5" cy="633.7" r="1.75"/><circle cx="155.0" cy="634.0" r="1.75"/><circle cx="163.4" cy="615.1" r="1.75"/><circle cx="156.4" cy="616.2" r="1.75"/><circle cx="166.6" cy="631.0" r="1.75"/><circle cx="162.1" cy="624.6" r="1.75"/><circle cx="155.6" cy="626.6" r="1.75"/><circle cx="164.8" cy="606.4" r="1.75"/><circle cx="162.0" cy="615.5" r="1.75"/><circle cx="163.2" cy="613.3" r="1.75"/><circle cx="158.5" cy="634.0" r="1.75"/><circle cx="163.3" cy="625.7" r="1.75"/><circle cx="172.1" cy="631.9" r="1.75"/><circle cx="151.6" cy="627.1" r="1.75"/><circle cx="159.6" cy="605.5" r="1.75"/><circle cx="179.6" cy="618.6" r="1.75"/><circle cx="150.2" cy="625.6" r="1.75"/><circle cx="162.8" cy="622.6" r="1.75"/><circle cx="166.0" cy="623.0" r="1.75"/><circle cx="169.0" cy="630.3" r="1.75"/><circle cx="152.6" cy="620.5" r="1.75"/><circle cx="159.8" cy="612.8" r="1.75"/><circle cx="176.0" cy="618.3" r="1.75"/><circle cx="164.4" cy="623.2" r="1.75"/><circle cx="168.8" cy="613.3" r="1.75"/><circle cx="169.1" cy="609.4" r="1.75"/><circle cx="170.1" cy="627.8" r="1.75"/><circle cx="156.6" cy="625.6" r="1.75"/><circle cx="163.7" cy="633.1" r="1.75"/><circle cx="166.3" cy="633.2" r="1.75"/><circle cx="167.8" cy="631.1" r="1.75"/><circle cx="165.0" cy="628.4" r="1.75"/><circle cx="154.7" cy="625.6" r="1.75"/><circle cx="157.6" cy="631.1" r="1.75"/><circle cx="191.9" cy="622.6" r="1.75"/><circle cx="162.3" cy="608.0" r="1.75"/><circle cx="161.9" cy="621.9" r="1.75"/><circle cx="154.3" cy="630.2" r="1.75"/><circle cx="155.3" cy="623.1" r="1.75"/><circle cx="174.0" cy="631.4" r="1.75"/><circle cx="170.4" cy="630.0" r="1.75"/><circle cx="159.1" cy="629.5" r="1.75"/><circle cx="169.4" cy="617.9" r="1.75"/><circle cx="169.0" cy="622.3" r="1.75"/><circle cx="162.9" cy="619.6" r="1.75"/><circle cx="165.9" cy="615.5" r="1.75"/><circle cx="164.3" cy="624.7" r="1.75"/><circle cx="163.4" cy="616.5" r="1.75"/><circle cx="157.3" cy="617.7" r="1.75"/><circle cx="175.3" cy="633.0" r="1.75"/><circle cx="165.2" cy="625.8" r="1.75"/><circle cx="158.3" cy="629.8" r="1.75"/><circle cx="157.8" cy="619.8" r="1.75"/><circle cx="160.7" cy="630.9" r="1.75"/><circle cx="164.1" cy="622.6" r="1.75"/><circle cx="159.4" cy="621.6" r="1.75"/><circle cx="157.5" cy="626.9" r="1.75"/><circle cx="169.3" cy="628.1" r="1.75"/><circle cx="162.5" cy="608.5" r="1.75"/><circle cx="162.6" cy="632.2" r="1.75"/><circle cx="156.9" cy="619.8" r="1.75"/><circle cx="178.0" cy="617.5" r="1.75"/><circle cx="157.8" cy="633.3" r="1.75"/><circle cx="155.5" cy="626.7" r="1.75"/><circle cx="166.3" cy="631.7" r="1.75"/><circle cx="159.0" cy="631.7" r="1.75"/><circle cx="157.2" cy="618.5" r="1.75"/><circle cx="156.1" cy="631.6" r="1.75"/><circle cx="159.0" cy="622.0" r="1.75"/><circle cx="158.8" cy="610.6" r="1.75"/><circle cx="164.9" cy="625.4" r="1.75"/><circle cx="158.2" cy="609.2" r="1.75"/><circle cx="153.2" cy="625.1" r="1.75"/><circle cx="165.5" cy="625.5" r="1.75"/><circle cx="158.7" cy="619.8" r="1.75"/><circle cx="161.6" cy="629.5" r="1.75"/><circle cx="174.2" cy="630.5" r="1.75"/><circle cx="168.9" cy="631.9" r="1.75"/><circle cx="164.1" cy="610.1" r="1.75"/><circle cx="165.7" cy="625.4" r="1.75"/><circle cx="158.2" cy="628.9" r="1.75"/><circle cx="152.5" cy="627.0" r="1.75"/><circle cx="169.7" cy="628.2" r="1.75"/><circle cx="155.7" cy="617.5" r="1.75"/><circle cx="160.0" cy="624.8" r="1.75"/><circle cx="152.2" cy="623.5" r="1.75"/><circle cx="168.0" cy="613.5" r="1.75"/><circle cx="161.3" cy="626.9" r="1.75"/><circle cx="155.6" cy="620.0" r="1.75"/><circle cx="168.3" cy="616.8" r="1.75"/><circle cx="157.4" cy="614.6" r="1.75"/><circle cx="160.4" cy="630.7" r="1.75"/><circle cx="154.0" cy="624.4" r="1.75"/><circle cx="169.9" cy="627.7" r="1.75"/><circle cx="171.5" cy="627.7" r="1.75"/><circle cx="151.8" cy="624.8" r="1.75"/><circle cx="157.7" cy="623.1" r="1.75"/><circle cx="169.7" cy="631.8" r="1.75"/><circle cx="170.5" cy="621.0" r="1.75"/><circle cx="159.9" cy="610.3" r="1.75"/><circle cx="165.2" cy="617.4" r="1.75"/><circle cx="152.9" cy="618.1" r="1.75"/><circle cx="176.3" cy="624.3" r="1.75"/><circle cx="152.7" cy="625.2" r="1.75"/><circle cx="158.1" cy="604.3" r="1.75"/><circle cx="167.8" cy="623.2" r="1.75"/><circle cx="163.2" cy="631.6" r="1.75"/><circle cx="168.4" cy="619.7" r="1.75"/><circle cx="157.8" cy="619.9" r="1.75"/><circle cx="166.4" cy="632.7" r="1.75"/><circle cx="163.4" cy="623.2" r="1.75"/><circle cx="158.0" cy="623.4" r="1.75"/><circle cx="172.9" cy="633.9" r="1.75"/><circle cx="155.5" cy="626.7" r="1.75"/><circle cx="147.2" cy="633.1" r="1.75"/><circle cx="169.4" cy="631.2" r="1.75"/><circle cx="155.2" cy="610.6" r="1.75"/><circle cx="156.1" cy="611.0" r="1.75"/><circle cx="139.6" cy="657.9" r="1.75"/><circle cx="157.5" cy="654.4" r="1.75"/><circle cx="151.0" cy="637.4" r="1.75"/><circle cx="171.4" cy="652.6" r="1.75"/><circle cx="148.5" cy="630.8" r="1.75"/><circle cx="158.7" cy="627.7" r="1.75"/><circle cx="172.7" cy="649.3" r="1.75"/><circle cx="139.8" cy="672.8" r="1.75"/><circle cx="144.7" cy="651.0" r="1.75"/><circle cx="169.6" cy="639.9" r="1.75"/><circle cx="149.0" cy="666.3" r="1.75"/><circle cx="176.5" cy="670.5" r="1.75"/><circle cx="161.6" cy="645.7" r="1.75"/><circle cx="169.2" cy="658.0" r="1.75"/><circle cx="175.9" cy="668.9" r="1.75"/><circle cx="167.1" cy="634.1" r="1.75"/><circle cx="162.6" cy="677.4" r="1.75"/><circle cx="168.1" cy="645.6" r="1.75"/><circle cx="165.1" cy="644.2" r="1.75"/><circle cx="181.4" cy="680.3" r="1.75"/><circle cx="146.4" cy="664.6" r="1.75"/><circle cx="160.3" cy="649.5" r="1.75"/><circle cx="151.2" cy="638.9" r="1.75"/><circle cx="174.2" cy="671.2" r="1.75"/><circle cx="146.3" cy="643.9" r="1.75"/><circle cx="164.4" cy="666.7" r="1.75"/><circle cx="168.5" cy="653.3" r="1.75"/><circle cx="157.4" cy="627.3" r="1.75"/><circle cx="161.6" cy="628.8" r="1.75"/><circle cx="164.8" cy="636.7" r="1.75"/><circle cx="143.3" cy="649.4" r="1.75"/><circle cx="150.8" cy="635.8" r="1.75"/><circle cx="157.1" cy="680.8" r="1.75"/><circle cx="141.9" cy="672.9" r="1.75"/><circle cx="157.1" cy="645.3" r="1.75"/><circle cx="166.5" cy="658.0" r="1.75"/><circle cx="146.0" cy="677.3" r="1.75"/><circle cx="177.7" cy="680.7" r="1.75"/><circle cx="154.9" cy="670.9" r="1.75"/><circle cx="150.4" cy="666.0" r="1.75"/><circle cx="147.7" cy="651.4" r="1.75"/><circle cx="159.5" cy="669.4" r="1.75"/><circle cx="173.8" cy="664.9" r="1.75"/><circle cx="152.6" cy="669.0" r="1.75"/><circle cx="175.7" cy="666.8" r="1.75"/><circle cx="169.1" cy="635.3" r="1.75"/><circle cx="162.1" cy="633.9" r="1.75"/><circle cx="152.0" cy="642.5" r="1.75"/><circle cx="166.5" cy="669.5" r="1.75"/><circle cx="150.7" cy="658.9" r="1.75"/><circle cx="150.1" cy="637.0" r="1.75"/><circle cx="171.1" cy="653.3" r="1.75"/><circle cx="149.9" cy="646.3" r="1.75"/><circle cx="152.8" cy="639.6" r="1.75"/><circle cx="160.0" cy="678.1" r="1.75"/><circle cx="142.1" cy="673.7" r="1.75"/><circle cx="148.3" cy="666.0" r="1.75"/><circle cx="136.9" cy="680.2" r="1.75"/><circle cx="154.2" cy="678.7" r="1.75"/><circle cx="145.8" cy="661.3" r="1.75"/><circle cx="165.3" cy="643.1" r="1.75"/><circle cx="165.8" cy="632.9" r="1.75"/><circle cx="164.3" cy="674.1" r="1.75"/><circle cx="158.3" cy="654.6" r="1.75"/><circle cx="137.2" cy="671.1" r="1.75"/><circle cx="168.3" cy="647.6" r="1.75"/><circle cx="166.9" cy="645.6" r="1.75"/><circle cx="151.8" cy="634.0" r="1.75"/><circle cx="163.4" cy="654.9" r="1.75"/><circle cx="164.9" cy="647.3" r="1.75"/><circle cx="163.0" cy="656.3" r="1.75"/><circle cx="156.3" cy="680.6" r="1.75"/><circle cx="170.9" cy="639.1" r="1.75"/><circle cx="170.8" cy="680.4" r="1.75"/><circle cx="152.7" cy="672.9" r="1.75"/><circle cx="137.8" cy="680.4" r="1.75"/><circle cx="157.5" cy="634.3" r="1.75"/><circle cx="176.4" cy="659.6" r="1.75"/><circle cx="174.1" cy="651.2" r="1.75"/><circle cx="178.0" cy="663.4" r="1.75"/><circle cx="144.5" cy="669.2" r="1.75"/><circle cx="155.5" cy="652.7" r="1.75"/><circle cx="146.1" cy="659.3" r="1.75"/><circle cx="173.5" cy="649.9" r="1.75"/><circle cx="144.1" cy="668.8" r="1.75"/><circle cx="177.2" cy="667.0" r="1.75"/><circle cx="160.7" cy="675.2" r="1.75"/><circle cx="150.8" cy="626.1" r="1.75"/><circle cx="177.7" cy="670.9" r="1.75"/><circle cx="152.0" cy="671.8" r="1.75"/><circle cx="164.3" cy="675.0" r="1.75"/><circle cx="134.9" cy="680.3" r="1.75"/><circle cx="142.2" cy="658.4" r="1.75"/><circle cx="178.3" cy="664.4" r="1.75"/><circle cx="141.6" cy="660.8" r="1.75"/><circle cx="149.3" cy="639.2" r="1.75"/><circle cx="165.0" cy="637.0" r="1.75"/><circle cx="163.6" cy="662.4" r="1.75"/><circle cx="168.5" cy="648.5" r="1.75"/><circle cx="150.3" cy="632.0" r="1.75"/><circle cx="210.8" cy="680.6" r="1.75"/><circle cx="176.0" cy="672.5" r="1.75"/><circle cx="183.1" cy="672.4" r="1.75"/><circle cx="194.6" cy="670.9" r="1.75"/><circle cx="213.6" cy="673.4" r="1.75"/><circle cx="196.3" cy="675.6" r="1.75"/><circle cx="231.2" cy="680.1" r="1.75"/><circle cx="195.3" cy="669.5" r="1.75"/><circle cx="177.0" cy="669.2" r="1.75"/><circle cx="184.6" cy="663.2" r="1.75"/><circle cx="184.7" cy="663.8" r="1.75"/><circle cx="185.8" cy="672.1" r="1.75"/><circle cx="195.7" cy="677.4" r="1.75"/><circle cx="175.4" cy="668.8" r="1.75"/><circle cx="182.3" cy="680.0" r="1.75"/><circle cx="191.0" cy="677.4" r="1.75"/><circle cx="229.6" cy="672.9" r="1.75"/><circle cx="183.9" cy="667.6" r="1.75"/><circle cx="182.5" cy="675.0" r="1.75"/><circle cx="184.9" cy="678.5" r="1.75"/><circle cx="188.5" cy="676.8" r="1.75"/><circle cx="193.3" cy="677.1" r="1.75"/><circle cx="194.1" cy="665.2" r="1.75"/><circle cx="199.4" cy="674.9" r="1.75"/><circle cx="215.5" cy="669.8" r="1.75"/><circle cx="193.4" cy="676.5" r="1.75"/><circle cx="201.1" cy="670.8" r="1.75"/><circle cx="184.7" cy="673.8" r="1.75"/><circle cx="221.0" cy="667.8" r="1.75"/><circle cx="207.6" cy="679.1" r="1.75"/><circle cx="196.3" cy="679.4" r="1.75"/><circle cx="194.4" cy="679.3" r="1.75"/><circle cx="189.6" cy="670.2" r="1.75"/><circle cx="238.6" cy="676.4" r="1.75"/><circle cx="198.0" cy="680.6" r="1.75"/><circle cx="190.5" cy="669.5" r="1.75"/><circle cx="199.3" cy="651.2" r="1.75"/><circle cx="198.4" cy="676.9" r="1.75"/><circle cx="202.5" cy="673.4" r="1.75"/><circle cx="188.5" cy="654.3" r="1.75"/><circle cx="179.8" cy="672.6" r="1.75"/><circle cx="189.0" cy="673.9" r="1.75"/><circle cx="174.5" cy="677.2" r="1.75"/><circle cx="191.3" cy="669.7" r="1.75"/><circle cx="202.3" cy="670.7" r="1.75"/><circle cx="174.9" cy="664.6" r="1.75"/><circle cx="179.0" cy="665.5" r="1.75"/><circle cx="193.7" cy="674.1" r="1.75"/><circle cx="221.3" cy="679.2" r="1.75"/><circle cx="222.0" cy="674.5" r="1.75"/><circle cx="196.1" cy="679.7" r="1.75"/><circle cx="202.9" cy="678.5" r="1.75"/><circle cx="206.4" cy="670.8" r="1.75"/><circle cx="183.1" cy="670.8" r="1.75"/><circle cx="196.0" cy="672.8" r="1.75"/><circle cx="181.1" cy="678.2" r="1.75"/><circle cx="194.0" cy="680.4" r="1.75"/><circle cx="177.1" cy="674.3" r="1.75"/><circle cx="180.9" cy="679.5" r="1.75"/><circle cx="179.3" cy="671.3" r="1.75"/><circle cx="198.9" cy="677.4" r="1.75"/><circle cx="180.7" cy="677.6" r="1.75"/><circle cx="182.2" cy="676.8" r="1.75"/><circle cx="202.8" cy="679.0" r="1.75"/><circle cx="201.5" cy="674.1" r="1.75"/><circle cx="214.5" cy="663.5" r="1.75"/><circle cx="177.0" cy="680.3" r="1.75"/><circle cx="199.2" cy="667.3" r="1.75"/><circle cx="177.7" cy="666.9" r="1.75"/><circle cx="190.4" cy="671.8" r="1.75"/><circle cx="185.4" cy="680.2" r="1.75"/><circle cx="193.6" cy="658.8" r="1.75"/><circle cx="203.0" cy="667.3" r="1.75"/><circle cx="197.9" cy="678.3" r="1.75"/><circle cx="190.4" cy="677.7" r="1.75"/><circle cx="215.1" cy="668.0" r="1.75"/><circle cx="187.2" cy="671.8" r="1.75"/><circle cx="202.4" cy="665.5" r="1.75"/><circle cx="203.3" cy="677.2" r="1.75"/><circle cx="225.9" cy="680.9" r="1.75"/><circle cx="190.0" cy="676.3" r="1.75"/><circle cx="175.2" cy="674.1" r="1.75"/><circle cx="191.1" cy="674.0" r="1.75"/><circle cx="196.4" cy="679.8" r="1.75"/><circle cx="197.8" cy="676.8" r="1.75"/><circle cx="217.4" cy="675.8" r="1.75"/><circle cx="201.2" cy="676.8" r="1.75"/><circle cx="197.2" cy="678.3" r="1.75"/><circle cx="175.9" cy="676.9" r="1.75"/><circle cx="188.5" cy="675.4" r="1.75"/><circle cx="191.3" cy="680.3" r="1.75"/><circle cx="174.1" cy="670.6" r="1.75"/><circle cx="198.5" cy="680.5" r="1.75"/><circle cx="176.8" cy="680.8" r="1.75"/><circle cx="224.9" cy="668.3" r="1.75"/><circle cx="195.5" cy="671.9" r="1.75"/><circle cx="187.8" cy="675.4" r="1.75"/><circle cx="198.8" cy="673.4" r="1.75"/><circle cx="185.2" cy="671.3" r="1.75"/><circle cx="214.0" cy="679.5" r="1.75"/><circle cx="184.0" cy="679.7" r="1.75"/><circle cx="174.2" cy="673.9" r="1.75"/><circle cx="181.1" cy="671.9" r="1.75"/><circle cx="189.5" cy="674.0" r="1.75"/><circle cx="182.1" cy="667.8" r="1.75"/><circle cx="233.4" cy="667.8" r="1.75"/><circle cx="184.5" cy="674.0" r="1.75"/><circle cx="192.2" cy="665.8" r="1.75"/><circle cx="182.2" cy="668.5" r="1.75"/><circle cx="212.2" cy="675.7" r="1.75"/><circle cx="206.1" cy="677.3" r="1.75"/><circle cx="226.0" cy="674.4" r="1.75"/><circle cx="177.3" cy="679.5" r="1.75"/><circle cx="210.8" cy="675.0" r="1.75"/><circle cx="176.2" cy="680.5" r="1.75"/><circle cx="176.1" cy="671.7" r="1.75"/><circle cx="203.5" cy="657.7" r="1.75"/><circle cx="182.2" cy="679.2" r="1.75"/><circle cx="179.1" cy="671.5" r="1.75"/><circle cx="174.2" cy="672.2" r="1.75"/><circle cx="204.1" cy="660.3" r="1.75"/><circle cx="182.7" cy="656.2" r="1.75"/><circle cx="222.8" cy="647.5" r="1.75"/><circle cx="182.5" cy="674.2" r="1.75"/><circle cx="218.3" cy="664.2" r="1.75"/><circle cx="182.4" cy="649.1" r="1.75"/><circle cx="195.2" cy="678.4" r="1.75"/><circle cx="211.4" cy="677.3" r="1.75"/><circle cx="188.7" cy="659.5" r="1.75"/><circle cx="209.9" cy="674.4" r="1.75"/><circle cx="183.0" cy="675.6" r="1.75"/><circle cx="205.7" cy="646.1" r="1.75"/><circle cx="203.1" cy="658.2" r="1.75"/><circle cx="218.8" cy="677.5" r="1.75"/><circle cx="207.1" cy="669.1" r="1.75"/><circle cx="200.2" cy="672.3" r="1.75"/><circle cx="181.8" cy="671.0" r="1.75"/><circle cx="185.8" cy="665.5" r="1.75"/><circle cx="188.1" cy="657.1" r="1.75"/><circle cx="185.7" cy="657.2" r="1.75"/><circle cx="213.4" cy="663.2" r="1.75"/><circle cx="200.3" cy="665.1" r="1.75"/><circle cx="229.7" cy="657.5" r="1.75"/><circle cx="212.9" cy="661.8" r="1.75"/><circle cx="238.7" cy="656.5" r="1.75"/><circle cx="220.3" cy="653.2" r="1.75"/><circle cx="192.0" cy="670.6" r="1.75"/><circle cx="212.4" cy="654.0" r="1.75"/><circle cx="179.2" cy="673.9" r="1.75"/><circle cx="199.5" cy="670.1" r="1.75"/><circle cx="177.3" cy="630.9" r="1.75"/><circle cx="182.4" cy="648.8" r="1.75"/><circle cx="196.4" cy="622.8" r="1.75"/><circle cx="179.5" cy="611.6" r="1.75"/><circle cx="190.1" cy="605.1" r="1.75"/><circle cx="172.3" cy="642.4" r="1.75"/><circle cx="161.4" cy="634.9" r="1.75"/><circle cx="182.7" cy="627.6" r="1.75"/><circle cx="173.3" cy="607.6" r="1.75"/><circle cx="198.0" cy="638.2" r="1.75"/><circle cx="192.2" cy="604.9" r="1.75"/><circle cx="191.4" cy="610.9" r="1.75"/><circle cx="168.0" cy="626.7" r="1.75"/><circle cx="184.4" cy="606.0" r="1.75"/><circle cx="190.6" cy="629.1" r="1.75"/><circle cx="196.0" cy="646.2" r="1.75"/><circle cx="187.6" cy="618.2" r="1.75"/><circle cx="198.0" cy="635.9" r="1.75"/><circle cx="171.6" cy="642.9" r="1.75"/><circle cx="189.1" cy="613.2" r="1.75"/><circle cx="170.0" cy="601.0" r="1.75"/><circle cx="181.5" cy="612.7" r="1.75"/><circle cx="171.7" cy="612.6" r="1.75"/><circle cx="165.3" cy="624.2" r="1.75"/><circle cx="170.9" cy="614.3" r="1.75"/><circle cx="51.2" cy="508.8" r="1.75"/><circle cx="87.1" cy="555.6" r="1.75"/><circle cx="90.5" cy="557.8" r="1.75"/><circle cx="78.9" cy="567.3" r="1.75"/><circle cx="66.8" cy="577.7" r="1.75"/><circle cx="63.9" cy="584.3" r="1.75"/><circle cx="84.6" cy="582.4" r="1.75"/><circle cx="87.1" cy="583.3" r="1.75"/><circle cx="100.6" cy="598.3" r="1.75"/><circle cx="106.1" cy="602.8" r="1.75"/><circle cx="87.6" cy="609.7" r="1.75"/><circle cx="95.4" cy="608.5" r="1.75"/><circle cx="98.0" cy="612.0" r="1.75"/><circle cx="63.9" cy="616.6" r="1.75"/><circle cx="85.5" cy="617.1" r="1.75"/><circle cx="105.7" cy="614.9" r="1.75"/><circle cx="97.0" cy="615.4" r="1.75"/><circle cx="98.8" cy="614.9" r="1.75"/><circle cx="47.8" cy="629.6" r="1.75"/><circle cx="81.5" cy="635.1" r="1.75"/><circle cx="191.8" cy="515.5" r="1.75"/><circle cx="164.5" cy="528.8" r="1.75"/><circle cx="179.5" cy="525.8" r="1.75"/><circle cx="176.5" cy="533.0" r="1.75"/><circle cx="166.2" cy="534.5" r="1.75"/><circle cx="171.5" cy="540.5" r="1.75"/><circle cx="182.2" cy="546.2" r="1.75"/><circle cx="166.5" cy="548.8" r="1.75"/><circle cx="170.8" cy="548.8" r="1.75"/><circle cx="165.0" cy="553.0" r="1.75"/><circle cx="190.0" cy="555.5" r="1.75"/><circle cx="167.8" cy="558.0" r="1.75"/><circle cx="161.5" cy="560.8" r="1.75"/><circle cx="178.5" cy="564.0" r="1.75"/><circle cx="210.0" cy="570.0" r="1.75"/><circle cx="165.0" cy="569.2" r="1.75"/><circle cx="175.5" cy="569.2" r="1.75"/><circle cx="184.5" cy="570.8" r="1.75"/><circle cx="157.0" cy="574.0" r="1.75"/><circle cx="220.8" cy="578.8" r="1.75"/><circle cx="187.0" cy="578.8" r="1.75"/><circle cx="160.0" cy="583.2" r="1.75"/><circle cx="166.2" cy="582.5" r="1.75"/><circle cx="172.5" cy="579.5" r="1.75"/><circle cx="176.2" cy="580.5" r="1.75"/><circle cx="152.0" cy="587.5" r="1.75"/><circle cx="174.2" cy="588.0" r="1.75"/><circle cx="157.0" cy="592.0" r="1.75"/><circle cx="161.2" cy="592.0" r="1.75"/><circle cx="168.8" cy="587.0" r="1.75"/><circle cx="155.0" cy="597.5" r="1.75"/><circle cx="170.0" cy="595.5" r="1.75"/><circle cx="167.5" cy="595.5" r="1.75"/><circle cx="156.2" cy="602.5" r="1.75"/><circle cx="149.2" cy="606.2" r="1.75"/><circle cx="197.0" cy="611.2" r="1.75"/><circle cx="218.0" cy="622.5" r="1.75"/><circle cx="203.2" cy="621.2" r="1.75"/><circle cx="205.0" cy="632.5" r="1.75"/><circle cx="223.2" cy="633.0" r="1.75"/><circle cx="236.0" cy="659.0" r="1.75"/><circle cx="232.0" cy="661.0" r="1.75"/><circle cx="228.0" cy="662.5" r="1.75"/><circle cx="225.0" cy="655.0" r="1.75"/><circle cx="213.0" cy="657.0" r="1.75"/><circle cx="210.0" cy="661.5" r="1.75"/><circle cx="216.0" cy="666.0" r="1.75"/><circle cx="40.0" cy="665.0" r="1.75"/><circle cx="44.0" cy="672.0" r="1.75"/><circle cx="52.0" cy="667.0" r="1.75"/><circle cx="58.0" cy="660.0" r="1.75"/><circle cx="65.0" cy="662.0" r="1.75"/><circle cx="70.0" cy="655.0" r="1.75"/><circle cx="75.0" cy="670.0" r="1.75"/></g><g fill="#d0d4d4" stroke="#bfc6c6" stroke-width="0.5"><circle cx="66.0" cy="680.0" r="1.5"/><circle cx="67.6" cy="680.2" r="1.5"/><circle cx="69.2" cy="680.5" r="1.5"/><circle cx="70.8" cy="679.9" r="1.5"/><circle cx="72.4" cy="680.5" r="1.5"/><circle cx="74.0" cy="680.5" r="1.5"/><circle cx="75.6" cy="680.3" r="1.5"/><circle cx="77.2" cy="680.2" r="1.5"/><circle cx="78.8" cy="680.4" r="1.5"/><circle cx="80.4" cy="680.2" r="1.5"/><circle cx="82.0" cy="680.3" r="1.5"/><circle cx="83.6" cy="680.5" r="1.5"/><circle cx="85.2" cy="680.4" r="1.5"/><circle cx="86.8" cy="680.0" r="1.5"/><circle cx="88.4" cy="679.8" r="1.5"/><circle cx="90.0" cy="680.5" r="1.5"/><circle cx="91.6" cy="680.1" r="1.5"/><circle cx="127.5" cy="680.4" r="1.5"/><circle cx="128.8" cy="680.0" r="1.5"/><circle cx="130.2" cy="680.2" r="1.5"/><circle cx="184.0" cy="680.1" r="1.5"/><circle cx="185.8" cy="680.4" r="1.5"/><circle cx="187.6" cy="680.6" r="1.5"/><circle cx="189.4" cy="680.2" r="1.5"/><circle cx="191.2" cy="680.3" r="1.5"/><circle cx="193.0" cy="680.1" r="1.5"/></g><circle cx="106.1" cy="602.8" r="1.5" fill="#c8102e"/><circle cx="164.5" cy="528.75" r="1.5" fill="#c8102e"/><circle cx="165" cy="553" r="1.5" fill="#c8102e"/><circle cx="210" cy="570" r="1.5" fill="#c8102e"/><circle cx="97" cy="615.4" r="1.5" fill="#c8102e"/><text x="55.6" y="513" font-size="6.8" fill="#333">Btg1</text><text x="91.9" y="559.5" font-size="6.8" fill="#333">Man1a</text><text x="95.7" y="567.3" font-size="6.8" fill="#333">Peli1</text><text x="74.1" y="566.3" font-size="6.8" fill="#333" text-anchor="end">Rel</text><text x="62.1" y="578.6" font-size="6.8" fill="#333" text-anchor="end">Bach2</text><text x="55.6" y="587.2" font-size="6.8" fill="#333" text-anchor="end">Btla</text><text x="89" y="586.7" font-size="6.8" fill="#333">Ltb</text><text x="91.2" y="594.5" font-size="6.8" fill="#333">Ccdc88a</text><text x="110" y="605.9" font-size="6.8" fill="#333">Mcl1</text><text x="110" y="618.7" font-size="6.8" fill="#333">Smarca2</text><text x="68" y="620.1" font-size="6.8" fill="#333">Traf1</text><text x="195.5" y="520" font-size="6.8" fill="#333">Cenpv</text><text x="170" y="528.8" font-size="6.8" fill="#333" text-anchor="end">Lig1</text><text x="184.5" y="533" font-size="6.8" fill="#333">Bub1b</text><text x="180" y="541.3" font-size="6.8" fill="#333">Ube2c</text><text x="186.25" y="550" font-size="6.8" fill="#333">Ryk</text><text x="194" y="559" font-size="6.8" fill="#333">Pbk</text><text x="215" y="569" font-size="6.8" fill="#333" text-anchor="end">Alpl</text><text x="224.5" y="582.5" font-size="6.8" fill="#333">Rapsn</text><text x="158.75" y="564" font-size="6.8" fill="#333" text-anchor="end">Mcm2</text><text x="152.5" y="577" font-size="6.8" fill="#333" text-anchor="end">Lmnb1</text><text x="149.5" y="589.5" font-size="6.8" fill="#333" text-anchor="end">Ezh2</text><text x="153.75" y="600" font-size="6.8" fill="#333" text-anchor="end">Smarcc1</text><text x="178" y="592.5" font-size="6.8" fill="#333">Ccna2</text><text x="174.5" y="599.5" font-size="6.8" fill="#333">Chek1</text><text x="177" y="608.75" font-size="6.8" fill="#333">Aurka</text><text x="177" y="618.75" font-size="6.8" fill="#333">Birc5</text><text x="182.5" y="625.75" font-size="6.8" fill="#333">Ccnb1</text><text x="182.5" y="635" font-size="6.8" fill="#333">Cdk6</text><text x="201.25" y="615" font-size="6.8" fill="#333">Ccdc40</text><text x="222" y="626.5" font-size="6.8" fill="#333">Cpeb1</text><text x="227" y="636.75" font-size="6.8" fill="#333">Shisa6</text><text x="237.5" y="663" font-size="6.8" fill="#333">Egr4</text><text x="47" y="673.5" font-size="6.8" fill="#333">Batf</text><text x="165" y="645.5" font-size="6.8" fill="#333">Cdkn1a</text><text x="170" y="653.5" font-size="6.8" fill="#333">Tert</text><text x="178.8" y="662.5" font-size="6.8" fill="#333">Cdkn2a</text><path d="M36.9,497.5 V681.8 H250" stroke="#6a6a6a" stroke-width="1.0" fill="none"/><path d="M32.9,517.7 H36.8" stroke="#666" stroke-width="0.9"/><text x="29.8" y="520.9000000000001" font-size="9.0" fill="#333" text-anchor="end">80</text><path d="M32.9,558.7 H36.8" stroke="#666" stroke-width="0.9"/><text x="29.8" y="561.9000000000001" font-size="9.0" fill="#333" text-anchor="end">60</text><path d="M32.9,599.7 H36.8" stroke="#666" stroke-width="0.9"/><text x="29.8" y="602.9000000000001" font-size="9.0" fill="#333" text-anchor="end">40</text><path d="M32.9,640.7 H36.8" stroke="#666" stroke-width="0.9"/><text x="29.8" y="643.9000000000001" font-size="9.0" fill="#333" text-anchor="end">20</text><path d="M32.9,681.7 H36.8" stroke="#666" stroke-width="0.9"/><text x="29.8" y="684.9000000000001" font-size="9.0" fill="#333" text-anchor="end">0</text><path d="M71.3,681.7 v3" stroke="#555" stroke-width="0.9"/><text x="70.10000000000001" y="694.4" font-size="9.0" fill="#333" text-anchor="middle">-5</text><path d="M128.8,681.7 v3" stroke="#555" stroke-width="0.9"/><text x="128.8" y="694.4" font-size="9.0" fill="#333" text-anchor="middle">0</text><path d="M186.3,681.7 v3" stroke="#555" stroke-width="0.9"/><text x="186.3" y="694.4" font-size="9.0" fill="#333" text-anchor="middle">5</text><path d="M243.8,681.7 v3" stroke="#555" stroke-width="0.9"/><text x="243.8" y="694.4" font-size="9.0" fill="#333" text-anchor="middle">10</text><path d="M48.3,681.7 v1.8 M59.8,681.7 v1.8 M82.8,681.7 v1.8 M94.3,681.7 v1.8 M105.8,681.7 v1.8 M117.3,681.7 v1.8 M140.3,681.7 v1.8 M151.8,681.7 v1.8 M163.3,681.7 v1.8 M174.8,681.7 v1.8 M197.8,681.7 v1.8 M209.3,681.7 v1.8 M220.8,681.7 v1.8 M232.3,681.7 v1.8 " stroke="#555" stroke-width="0.6"/><text x="56.7" y="707.8" font-size="10.6" fill="#2a2a2a" textLength="167.5" lengthAdjust="spacingAndGlyphs" stroke="#2a2a2a" stroke-width="0.3">Log2 fold change MYCN-driven TCL vs CD4 T cells</text><text transform="translate(14.0,591) rotate(-90)" x="0" y="0" font-size="10.0" fill="#333" text-anchor="middle" textLength="78" lengthAdjust="spacingAndGlyphs">-log (adjusted p value)</text><text x="259.6" y="455.4" font-size="11.6" fill="#000" font-weight="bold">H</text><text x="303.3" y="458" font-size="7.2" fill="#2a2a2a" textLength="113" lengthAdjust="spacingAndGlyphs">Gene set: top 500 upregulated direct</text><text x="303.3" y="466.2" font-size="7.2" fill="#2a2a2a" textLength="42" lengthAdjust="spacingAndGlyphs">MYCN targets</text><text x="303.3" y="474.7" font-size="7.2" fill="#2a2a2a" textLength="113" lengthAdjust="spacingAndGlyphs">Dataset: PTCL MYC high vs MYC low</text><defs><linearGradient id="bg303477" x1="0" y1="0" x2="1" y2="0"><stop offset="0" stop-color="#000" stop-opacity="1"/><stop offset="0.1" stop-color="#000" stop-opacity="1"/><stop offset="0.22" stop-color="#333" stop-opacity="0.5"/><stop offset="0.32" stop-color="#888" stop-opacity="0.0"/><stop offset="1" stop-color="#fff" stop-opacity="0"/></linearGradient></defs><rect x="303.2" y="526.2" width="104.5" height="15.899999999999977" fill="url(#bg303477)"/><path d="M317.30,526.2 V542.1 M322.59,526.2 V542.1 M325.82,526.2 V542.1 M343.53,526.2 V542.1 M322.48,526.2 V542.1 M339.34,526.2 V542.1 M304.11,526.2 V542.1 M312.44,526.2 V542.1 M343.75,526.2 V542.1 M318.30,526.2 V542.1 M335.94,526.2 V542.1 M305.38,526.2 V542.1 M312.53,526.2 V542.1 M307.65,526.2 V542.1 M314.65,526.2 V542.1 M315.60,526.2 V542.1 M303.88,526.2 V542.1 M307.11,526.2 V542.1 M308.27,526.2 V542.1 M338.31,526.2 V542.1 M323.94,526.2 V542.1 M306.13,526.2 V542.1 M325.95,526.2 V542.1 M305.78,526.2 V542.1 M317.10,526.2 V542.1 M305.59,526.2 V542.1 M303.72,526.2 V542.1 M332.31,526.2 V542.1 M306.98,526.2 V542.1 M307.09,526.2 V542.1 M360.07,526.2 V542.1 M332.42,526.2 V542.1 M308.46,526.2 V542.1 M349.13,526.2 V542.1 M314.51,526.2 V542.1 M319.50,526.2 V542.1 M306.90,526.2 V542.1 M343.17,526.2 V542.1 M320.07,526.2 V542.1 M351.10,526.2 V542.1 M334.97,526.2 V542.1 M308.65,526.2 V542.1 M309.95,526.2 V542.1 M306.23,526.2 V542.1 M305.90,526.2 V542.1 M304.64,526.2 V542.1 M308.70,526.2 V542.1 M316.59,526.2 V542.1 M303.75,526.2 V542.1 M319.50,526.2 V542.1 M309.45,526.2 V542.1 M308.88,526.2 V542.1 M327.51,526.2 V542.1 M312.84,526.2 V542.1 M308.99,526.2 V542.1 M312.85,526.2 V542.1 M320.71,526.2 V542.1 M304.52,526.2 V542.1 M355.21,526.2 V542.1 M304.02,526.2 V542.1 M323.03,526.2 V542.1 M329.69,526.2 V542.1 M303.95,526.2 V542.1 M325.32,526.2 V542.1 M310.06,526.2 V542.1 M315.75,526.2 V542.1 M303.83,526.2 V542.1 M304.37,526.2 V542.1 M306.48,526.2 V542.1 M347.01,526.2 V542.1 M306.75,526.2 V542.1 M323.36,526.2 V542.1 M340.73,526.2 V542.1 M343.43,526.2 V542.1 M309.59,526.2 V542.1 M309.81,526.2 V542.1 M314.08,526.2 V542.1 M324.54,526.2 V542.1 M305.30,526.2 V542.1 M322.95,526.2 V542.1 M325.96,526.2 V542.1 M331.09,526.2 V542.1 M304.22,526.2 V542.1 M344.36,526.2 V542.1 M305.03,526.2 V542.1 M309.51,526.2 V542.1 M316.86,526.2 V542.1 M338.60,526.2 V542.1 M309.50,526.2 V542.1 M339.68,526.2 V542.1 M314.69,526.2 V542.1 M308.93,526.2 V542.1 M309.01,526.2 V542.1 M306.43,526.2 V542.1 M304.84,526.2 V542.1 M305.95,526.2 V542.1 M320.00,526.2 V542.1 M383.52,526.2 V542.1 M306.16,526.2 V542.1 M304.39,526.2 V542.1 M363.96,526.2 V542.1 M314.34,526.2 V542.1 M310.96,526.2 V542.1 M307.48,526.2 V542.1 M316.27,526.2 V542.1 M328.12,526.2 V542.1 M312.18,526.2 V542.1 M311.34,526.2 V542.1 M304.50,526.2 V542.1 M338.26,526.2 V542.1 M304.16,526.2 V542.1 M313.19,526.2 V542.1 M329.13,526.2 V542.1 M305.65,526.2 V542.1 M322.05,526.2 V542.1 M345.43,526.2 V542.1 M317.58,526.2 V542.1 M325.34,526.2 V542.1 M305.27,526.2 V542.1 M311.65,526.2 V542.1 M305.95,526.2 V542.1 M329.68,526.2 V542.1 M308.57,526.2 V542.1 M312.12,526.2 V542.1 M405.03,526.2 V542.1 M330.37,526.2 V542.1 M355.73,526.2 V542.1 M312.13,526.2 V542.1 M313.04,526.2 V542.1 M321.94,526.2 V542.1 M312.80,526.2 V542.1 M308.50,526.2 V542.1 M310.91,526.2 V542.1 M305.91,526.2 V542.1 M310.30,526.2 V542.1 M365.85,526.2 V542.1 M348.54,526.2 V542.1 M317.45,526.2 V542.1 M313.35,526.2 V542.1 M309.46,526.2 V542.1 M305.00,526.2 V542.1 M308.13,526.2 V542.1 M324.95,526.2 V542.1 M331.88,526.2 V542.1 M309.95,526.2 V542.1 M325.21,526.2 V542.1 M324.50,526.2 V542.1 M320.25,526.2 V542.1 M318.91,526.2 V542.1 M323.59,526.2 V542.1 M342.70,526.2 V542.1 M379.29,526.2 V542.1 M333.84,526.2 V542.1 M355.81,526.2 V542.1 M386.29,526.2 V542.1 M377.83,526.2 V542.1 M335.23,526.2 V542.1 M405.16,526.2 V542.1 M373.41,526.2 V542.1 M366.00,526.2 V542.1 M304.94,526.2 V542.1 M362.39,526.2 V542.1 M330.60,526.2 V542.1 M375.77,526.2 V542.1 M353.37,526.2 V542.1 M391.33,526.2 V542.1 M373.17,526.2 V542.1 M389.29,526.2 V542.1 M341.03,526.2 V542.1 M372.81,526.2 V542.1 M382.87,526.2 V542.1 M392.56,526.2 V542.1 M341.26,526.2 V542.1 M394.14,526.2 V542.1 M397.04,526.2 V542.1 M377.56,526.2 V542.1 M408.44,526.2 V542.1 M406.33,526.2 V542.1 M359.30,526.2 V542.1 M360.50,526.2 V542.1 M321.53,526.2 V542.1 M393.47,526.2 V542.1 M404.28,526.2 V542.1 M354.91,526.2 V542.1 M377.89,526.2 V542.1 M380.92,526.2 V542.1 M382.07,526.2 V542.1 M322.14,526.2 V542.1 M387.43,526.2 V542.1 M366.02,526.2 V542.1 M375.11,526.2 V542.1 M348.85,526.2 V542.1 M370.63,526.2 V542.1 M386.83,526.2 V542.1 M372.04,526.2 V542.1 " stroke="#111" stroke-width="0.45" stroke-opacity="0.9"/><rect x="303.2" y="477.2" width="108.30000000000001" height="49.00000000000006" fill="none" stroke="#231f20" stroke-width="0.8"/><defs><linearGradient id="g303477" x1="0" y1="0" x2="1" y2="0"><stop offset="0" stop-color="#b8202e"/><stop offset="0.22" stop-color="#e24a5a"/><stop offset="0.25" stop-color="#eaa8c4"/><stop offset="0.5" stop-color="#f0c4da"/><stop offset="0.53" stop-color="#e6dcee"/><stop offset="0.72" stop-color="#d8d4ec"/><stop offset="0.76" stop-color="#5656b4"/><stop offset="1" stop-color="#3a3aa0"/></linearGradient></defs><rect x="303.7" y="543.5" width="104.5" height="4.399999999999977" fill="url(#g303477)"/><path d="M303.2,477.2 V548.5 H411.5" stroke="#231f20" stroke-width="1.0" fill="none"/><path d="M300.7,482.1 H303.2" stroke="#231f20" stroke-width="0.8"/><text x="298.8" y="485.1" font-size="8.6" fill="#333" text-anchor="end" textLength="11" lengthAdjust="spacingAndGlyphs">0.8</text><path d="M300.7,498.3 H303.2" stroke="#231f20" stroke-width="0.8"/><text x="298.8" y="501.3" font-size="8.6" fill="#333" text-anchor="end" textLength="11" lengthAdjust="spacingAndGlyphs">0.5</text><path d="M300.7,520.5 H303.2" stroke="#231f20" stroke-width="0.8"/><text x="298.8" y="523.5" font-size="8.6" fill="#333" text-anchor="end">0</text><path d="M304,548.5 v2" stroke="#231f20" stroke-width="0.7"/><text x="304" y="560.6" font-size="9.4" fill="#2a2a2a" text-anchor="middle">0</text><path d="M347.3,548.5 v2" stroke="#231f20" stroke-width="0.7"/><text x="347.3" y="560.6" font-size="9.4" fill="#2a2a2a" text-anchor="middle" textLength="20.2" lengthAdjust="spacingAndGlyphs">10000</text><path d="M391.1,548.5 v2" stroke="#231f20" stroke-width="0.7"/><text x="391.1" y="560.6" font-size="9.4" fill="#2a2a2a" text-anchor="middle" textLength="20.2" lengthAdjust="spacingAndGlyphs">20000</text><path d="M303.20,520.50 L303.25,519.80 L303.31,518.93 L303.38,517.91 L303.46,516.77 L303.55,515.52 L303.64,514.20 L303.74,512.83 L303.84,511.43 L303.95,510.04 L304.06,508.67 L304.17,507.35 L304.28,506.10 L304.40,504.88 L304.51,503.63 L304.63,502.37 L304.74,501.09 L304.87,499.81 L304.99,498.54 L305.13,497.29 L305.27,496.07 L305.41,494.90 L305.57,493.77 L305.73,492.70 L305.91,491.70 L306.09,490.76 L306.29,489.87 L306.50,489.01 L306.71,488.20 L306.93,487.42 L307.16,486.69 L307.39,485.99 L307.63,485.34 L307.87,484.71 L308.12,484.13 L308.37,483.58 L308.61,483.06 L308.87,482.59 L309.13,482.17 L309.39,481.79 L309.66,481.46 L309.93,481.16 L310.21,480.90 L310.48,480.66 L310.76,480.45 L311.04,480.25 L311.32,480.06 L311.59,479.88 L311.86,479.70 L312.13,479.53 L312.39,479.38 L312.65,479.25 L312.91,479.14 L313.16,479.04 L313.42,478.97 L313.68,478.90 L313.95,478.85 L314.22,478.81 L314.51,478.78 L314.80,478.75 L315.11,478.74 L315.42,478.73 L315.70,478.72 L315.97,478.71 L316.24,478.71 L316.51,478.73 L316.81,478.76 L317.12,478.80 L317.48,478.87 L317.88,478.97 L318.33,479.10 L318.85,479.26 L319.44,479.46 L320.10,479.69 L320.81,479.95 L321.57,480.24 L322.37,480.55 L323.22,480.89 L324.12,481.26 L325.05,481.65 L326.02,482.07 L327.03,482.52 L328.08,482.99 L329.16,483.49 L330.27,484.02 L331.44,484.59 L332.67,485.20 L333.96,485.86 L335.29,486.54 L336.66,487.26 L338.06,488.00 L339.48,488.74 L340.90,489.50 L342.33,490.25 L343.75,490.99 L345.15,491.72 L346.52,492.42 L347.87,493.11 L349.23,493.80 L350.58,494.48 L351.94,495.17 L353.29,495.85 L354.64,496.53 L356.00,497.21 L357.35,497.89 L358.70,498.56 L360.06,499.24 L361.41,499.91 L362.76,500.58 L364.12,501.25 L365.47,501.92 L366.83,502.58 L368.18,503.25 L369.53,503.91 L370.89,504.57 L372.24,505.23 L373.59,505.89 L374.95,506.54 L376.30,507.20 L377.66,507.85 L379.01,508.50 L380.38,509.15 L381.77,509.81 L383.19,510.46 L384.61,511.11 L386.03,511.77 L387.44,512.41 L388.83,513.06 L390.20,513.70 L391.54,514.33 L392.83,514.96 L394.07,515.57 L395.26,516.18 L396.41,516.79 L397.56,517.43 L398.71,518.08 L399.83,518.74 L400.91,519.39 L401.96,520.02 L402.94,520.63 L403.86,521.19 L404.70,521.72 L405.45,522.18 L406.09,522.58 L406.63,522.90" stroke="#8cc63f" stroke-width="1.2" fill="none"/><text x="308.5" y="506.2" font-size="8.8" fill="#2a2a2a" textLength="39.7" lengthAdjust="spacingAndGlyphs">NES = 2.46</text><text x="308.5" y="515.9" font-size="8.8" fill="#2a2a2a" textLength="38" lengthAdjust="spacingAndGlyphs">p &lt; 0.0001</text><text x="308.5" y="525.4" font-size="8.8" fill="#2a2a2a" textLength="38" lengthAdjust="spacingAndGlyphs">q &lt; 0.0001</text><text x="352.2" y="571.0" font-size="11.0" fill="#2a2a2a" text-anchor="middle" textLength="83.6" lengthAdjust="spacingAndGlyphs" stroke="#2a2a2a" stroke-width="0.3">Rank in ordered dataset</text><text transform="translate(283.8,502.5) rotate(-90)" x="0" y="0" font-size="10.4" fill="#2a2a2a" text-anchor="middle" textLength="59" lengthAdjust="spacingAndGlyphs" stroke="#2a2a2a" stroke-width="0.3">Enrichment score</text><text x="307.4" y="588.3" font-size="7.2" fill="#2a2a2a" textLength="101" lengthAdjust="spacingAndGlyphs">Gene set: top 500 downregulated</text><text x="307.4" y="596.3" font-size="7.2" fill="#2a2a2a" textLength="62" lengthAdjust="spacingAndGlyphs">direct MYCN targets</text><text x="307.4" y="604.8" font-size="7.2" fill="#2a2a2a" textLength="113" lengthAdjust="spacingAndGlyphs">Dataset: PTCL MYC high vs MYC low</text><defs><linearGradient id="bg306609" x1="0" y1="0" x2="1" y2="0"><stop offset="0" stop-color="#bbb" stop-opacity="0.6"/><stop offset="0.35" stop-color="#999" stop-opacity="0.6"/><stop offset="0.5" stop-color="#555" stop-opacity="0.6"/><stop offset="1" stop-color="#222" stop-opacity="0.8"/></linearGradient></defs><rect x="306.7" y="659" width="106.4" height="16.399999999999977" fill="url(#bg306609)"/><path d="M324.64,659 V675.4 M321.26,659 V675.4 M312.42,659 V675.4 M339.83,659 V675.4 M307.44,659 V675.4 M326.13,659 V675.4 M341.03,659 V675.4 M310.24,659 V675.4 M328.07,659 V675.4 M330.42,659 V675.4 M308.74,659 V675.4 M321.47,659 V675.4 M333.69,659 V675.4 M324.22,659 V675.4 M334.51,659 V675.4 M313.12,659 V675.4 M316.16,659 V675.4 M311.38,659 V675.4 M326.27,659 V675.4 M341.99,659 V675.4 M329.44,659 V675.4 M336.36,659 V675.4 M321.65,659 V675.4 M335.30,659 V675.4 M311.03,659 V675.4 M318.17,659 V675.4 M332.59,659 V675.4 M334.53,659 V675.4 M323.08,659 V675.4 M310.50,659 V675.4 M375.89,659 V675.4 M371.40,659 V675.4 M376.96,659 V675.4 M406.54,659 V675.4 M370.52,659 V675.4 M409.97,659 V675.4 M409.66,659 V675.4 M354.73,659 V675.4 M383.64,659 V675.4 M390.45,659 V675.4 M349.05,659 V675.4 M386.51,659 V675.4 M410.84,659 V675.4 M362.08,659 V675.4 M396.19,659 V675.4 M363.08,659 V675.4 M395.23,659 V675.4 M410.36,659 V675.4 M370.82,659 V675.4 M344.86,659 V675.4 M358.70,659 V675.4 M393.14,659 V675.4 M347.61,659 V675.4 M358.87,659 V675.4 M390.74,659 V675.4 M411.46,659 V675.4 M386.23,659 V675.4 M384.87,659 V675.4 M398.34,659 V675.4 M359.93,659 V675.4 M395.29,659 V675.4 M368.14,659 V675.4 M396.81,659 V675.4 M413.06,659 V675.4 M354.63,659 V675.4 M393.97,659 V675.4 M396.68,659 V675.4 M365.94,659 V675.4 M376.01,659 V675.4 M414.59,659 V675.4 M414.72,659 V675.4 M363.09,659 V675.4 M401.65,659 V675.4 M412.74,659 V675.4 M373.58,659 V675.4 M396.93,659 V675.4 M352.83,659 V675.4 M382.81,659 V675.4 M400.11,659 V675.4 M395.84,659 V675.4 M404.93,659 V675.4 M359.11,659 V675.4 M381.57,659 V675.4 M408.98,659 V675.4 M395.52,659 V675.4 M388.11,659 V675.4 M385.12,659 V675.4 M414.22,659 V675.4 M395.01,659 V675.4 M347.84,659 V675.4 M406.07,659 V675.4 M380.33,659 V675.4 M387.05,659 V675.4 M371.69,659 V675.4 M387.67,659 V675.4 M380.05,659 V675.4 M359.37,659 V675.4 M397.87,659 V675.4 M361.06,659 V675.4 M405.37,659 V675.4 M349.47,659 V675.4 M405.21,659 V675.4 M406.45,659 V675.4 M390.77,659 V675.4 M401.84,659 V675.4 M374.48,659 V675.4 M403.19,659 V675.4 M386.53,659 V675.4 M373.12,659 V675.4 M413.30,659 V675.4 M385.04,659 V675.4 M383.27,659 V675.4 M408.80,659 V675.4 M383.03,659 V675.4 M399.79,659 V675.4 M368.00,659 V675.4 M408.06,659 V675.4 M375.30,659 V675.4 M354.06,659 V675.4 M413.77,659 V675.4 M368.15,659 V675.4 M412.56,659 V675.4 M414.23,659 V675.4 M396.69,659 V675.4 M346.06,659 V675.4 M355.64,659 V675.4 M371.29,659 V675.4 M384.28,659 V675.4 M396.95,659 V675.4 M413.40,659 V675.4 M382.06,659 V675.4 M365.09,659 V675.4 M394.34,659 V675.4 M364.75,659 V675.4 M359.09,659 V675.4 M394.02,659 V675.4 M401.19,659 V675.4 M356.31,659 V675.4 M388.11,659 V675.4 M401.57,659 V675.4 M404.44,659 V675.4 M383.91,659 V675.4 M410.00,659 V675.4 M367.82,659 V675.4 M402.13,659 V675.4 M404.79,659 V675.4 M409.70,659 V675.4 M390.61,659 V675.4 M360.62,659 V675.4 M353.73,659 V675.4 M392.54,659 V675.4 M368.21,659 V675.4 M397.88,659 V675.4 M358.80,659 V675.4 M405.19,659 V675.4 M372.43,659 V675.4 M346.40,659 V675.4 M368.44,659 V675.4 M388.42,659 V675.4 M394.19,659 V675.4 M384.25,659 V675.4 M368.18,659 V675.4 M389.90,659 V675.4 M412.55,659 V675.4 M392.90,659 V675.4 M412.33,659 V675.4 M350.18,659 V675.4 M414.52,659 V675.4 M410.08,659 V675.4 M393.39,659 V675.4 M392.24,659 V675.4 M392.99,659 V675.4 M410.97,659 V675.4 M356.31,659 V675.4 M398.55,659 V675.4 M393.27,659 V675.4 M378.35,659 V675.4 M402.59,659 V675.4 M402.38,659 V675.4 M361.08,659 V675.4 M401.36,659 V675.4 M388.24,659 V675.4 M390.37,659 V675.4 M398.24,659 V675.4 M354.44,659 V675.4 M396.50,659 V675.4 M383.28,659 V675.4 M409.63,659 V675.4 M373.13,659 V675.4 M407.15,659 V675.4 M402.81,659 V675.4 M397.64,659 V675.4 M409.50,659 V675.4 M351.58,659 V675.4 M396.19,659 V675.4 M397.04,659 V675.4 M400.31,659 V675.4 M385.40,659 V675.4 M356.78,659 V675.4 M369.62,659 V675.4 M396.77,659 V675.4 M368.93,659 V675.4 M356.21,659 V675.4 M382.08,659 V675.4 M389.22,659 V675.4 M392.91,659 V675.4 M349.59,659 V675.4 M404.97,659 V675.4 M380.68,659 V675.4 M405.31,659 V675.4 M344.98,659 V675.4 M412.88,659 V675.4 M395.84,659 V675.4 M413.82,659 V675.4 M414.23,659 V675.4 M407.59,659 V675.4 M361.43,659 V675.4 M381.68,659 V675.4 M373.15,659 V675.4 M405.18,659 V675.4 M369.88,659 V675.4 M372.33,659 V675.4 M361.92,659 V675.4 M362.96,659 V675.4 M412.20,659 V675.4 M413.81,659 V675.4 M383.23,659 V675.4 M403.35,659 V675.4 M389.06,659 V675.4 M392.16,659 V675.4 M383.04,659 V675.4 M398.14,659 V675.4 M373.53,659 V675.4 M375.11,659 V675.4 M391.93,659 V675.4 M370.33,659 V675.4 M387.39,659 V675.4 M412.45,659 V675.4 M348.76,659 V675.4 M361.09,659 V675.4 M406.10,659 V675.4 M355.18,659 V675.4 M374.71,659 V675.4 M408.43,659 V675.4 M396.62,659 V675.4 M372.29,659 V675.4 M355.30,659 V675.4 M376.52,659 V675.4 M378.33,659 V675.4 M406.11,659 V675.4 M413.78,659 V675.4 M405.47,659 V675.4 M410.64,659 V675.4 M411.88,659 V675.4 M409.54,659 V675.4 M411.42,659 V675.4 M413.45,659 V675.4 M360.05,659 V675.4 M379.57,659 V675.4 M374.40,659 V675.4 " stroke="#111" stroke-width="0.45" stroke-opacity="0.9"/><rect x="306.7" y="609.8" width="108.60000000000002" height="49.200000000000045" fill="none" stroke="#231f20" stroke-width="0.8"/><defs><linearGradient id="g306609" x1="0" y1="0" x2="1" y2="0"><stop offset="0" stop-color="#d83848"/><stop offset="0.26" stop-color="#e45a6a"/><stop offset="0.27" stop-color="#eeb0cc"/><stop offset="0.47" stop-color="#eec0d8"/><stop offset="0.48" stop-color="#d8d0ea"/><stop offset="0.68" stop-color="#c8c4e6"/><stop offset="0.7" stop-color="#6464c0"/><stop offset="1" stop-color="#3434a4"/></linearGradient></defs><rect x="307.2" y="675.8" width="106.4" height="4.5" fill="url(#g306609)"/><path d="M306.7,609.8 V684.5 H415.3" stroke="#231f20" stroke-width="1.0" fill="none"/><path d="M304.2,610.6 H306.7" stroke="#231f20" stroke-width="0.8"/><text x="302.3" y="613.6" font-size="8.6" fill="#333" text-anchor="end">0</text><path d="M304.2,635.7 H306.7" stroke="#231f20" stroke-width="0.8"/><text x="302.3" y="638.7" font-size="8.6" fill="#333" text-anchor="end" textLength="13.6" lengthAdjust="spacingAndGlyphs">-0.5</text><path d="M306.9,684.5 v2" stroke="#231f20" stroke-width="0.7"/><text x="306.9" y="696.6" font-size="9.4" fill="#2a2a2a" text-anchor="middle">0</text><path d="M353.6,684.5 v2" stroke="#231f20" stroke-width="0.7"/><text x="353.6" y="696.6" font-size="9.4" fill="#2a2a2a" text-anchor="middle" textLength="20.2" lengthAdjust="spacingAndGlyphs">10000</text><path d="M399.8,684.5 v2" stroke="#231f20" stroke-width="0.7"/><text x="399.8" y="696.6" font-size="9.4" fill="#2a2a2a" text-anchor="middle" textLength="20.2" lengthAdjust="spacingAndGlyphs">20000</text><path d="M306.70,610.60 L306.95,610.70 L307.26,610.81 L307.62,610.95 L308.02,611.10 L308.45,611.27 L308.92,611.45 L309.41,611.63 L309.93,611.83 L310.46,612.02 L311.00,612.22 L311.54,612.42 L312.08,612.61 L312.63,612.79 L313.20,612.98 L313.79,613.16 L314.39,613.35 L315.01,613.54 L315.64,613.74 L316.29,613.94 L316.94,614.15 L317.60,614.37 L318.27,614.61 L318.94,614.85 L319.61,615.12 L320.28,615.39 L320.96,615.65 L321.64,615.92 L322.32,616.20 L323.01,616.48 L323.71,616.78 L324.43,617.10 L325.15,617.44 L325.89,617.81 L326.65,618.21 L327.42,618.65 L328.22,619.13 L329.04,619.66 L329.89,620.25 L330.76,620.87 L331.65,621.53 L332.55,622.22 L333.47,622.93 L334.39,623.65 L335.31,624.38 L336.24,625.10 L337.16,625.81 L338.08,626.50 L338.98,627.17 L339.88,627.81 L340.77,628.46 L341.67,629.10 L342.57,629.73 L343.46,630.36 L344.36,630.99 L345.26,631.62 L346.15,632.24 L347.05,632.86 L347.95,633.48 L348.84,634.09 L349.74,634.70 L350.64,635.30 L351.53,635.90 L352.43,636.50 L353.33,637.09 L354.22,637.69 L355.12,638.27 L356.02,638.86 L356.91,639.44 L357.81,640.01 L358.71,640.59 L359.60,641.16 L360.50,641.72 L361.40,642.29 L362.29,642.86 L363.19,643.43 L364.09,643.99 L364.98,644.56 L365.88,645.11 L366.78,645.66 L367.67,646.20 L368.57,646.74 L369.47,647.26 L370.36,647.76 L371.26,648.25 L372.17,648.73 L373.09,649.21 L374.03,649.68 L374.97,650.15 L375.91,650.60 L376.84,651.04 L377.77,651.47 L378.67,651.88 L379.56,652.26 L380.41,652.63 L381.24,652.96 L382.02,653.27 L382.77,653.55 L383.49,653.80 L384.18,654.02 L384.85,654.22 L385.50,654.40 L386.12,654.56 L386.73,654.70 L387.32,654.83 L387.90,654.95 L388.46,655.07 L389.01,655.17 L389.55,655.28 L390.08,655.38 L390.57,655.47 L391.05,655.56 L391.50,655.63 L391.95,655.70 L392.38,655.75 L392.80,655.79 L393.22,655.82 L393.64,655.83 L394.06,655.83 L394.49,655.81 L394.93,655.78 L395.38,655.74 L395.83,655.69 L396.28,655.63 L396.73,655.56 L397.17,655.47 L397.62,655.37 L398.07,655.25 L398.52,655.11 L398.97,654.94 L399.42,654.75 L399.86,654.53 L400.31,654.27 L400.77,654.00 L401.23,653.71 L401.69,653.41 L402.17,653.08 L402.64,652.74 L403.10,652.36 L403.56,651.95 L404.02,651.50 L404.46,651.01 L404.89,650.48 L405.30,649.89 L405.69,649.25 L406.07,648.56 L406.43,647.81 L406.77,647.01 L407.11,646.17 L407.43,645.28 L407.74,644.36 L408.05,643.40 L408.34,642.41 L408.63,641.39 L408.91,640.35 L409.19,639.29 L409.46,638.21 L409.72,637.09 L409.98,635.90 L410.23,634.67 L410.47,633.39 L410.71,632.09 L410.94,630.77 L411.16,629.45 L411.37,628.13 L411.58,626.83 L411.77,625.56 L411.96,624.33 L412.15,623.15 L412.33,621.98 L412.50,620.77 L412.66,619.54 L412.83,618.32 L412.98,617.11 L413.12,615.93 L413.26,614.81 L413.38,613.76 L413.50,612.80 L413.60,611.94 L413.69,611.20 L413.76,610.60" stroke="#8cc63f" stroke-width="1.2" fill="none"/><text x="365.2" y="622" font-size="8.8" fill="#2a2a2a" textLength="42.7" lengthAdjust="spacingAndGlyphs">NES = −2.04</text><text x="365.2" y="631.3" font-size="8.8" fill="#2a2a2a" textLength="38" lengthAdjust="spacingAndGlyphs">p &lt; 0.0001</text><text x="365.2" y="640.3" font-size="8.8" fill="#2a2a2a" textLength="38" lengthAdjust="spacingAndGlyphs">q &lt; 0.0001</text><text x="359.4" y="708.0" font-size="11.0" fill="#2a2a2a" text-anchor="middle" textLength="83.6" lengthAdjust="spacingAndGlyphs" stroke="#2a2a2a" stroke-width="0.3">Rank in ordered dataset</text><text transform="translate(284,640.4) rotate(-90)" x="0" y="0" font-size="10.4" fill="#2a2a2a" text-anchor="middle" textLength="60.7" lengthAdjust="spacingAndGlyphs" stroke="#2a2a2a" stroke-width="0.3">Enrichment score</text>
</svg></body></html>
